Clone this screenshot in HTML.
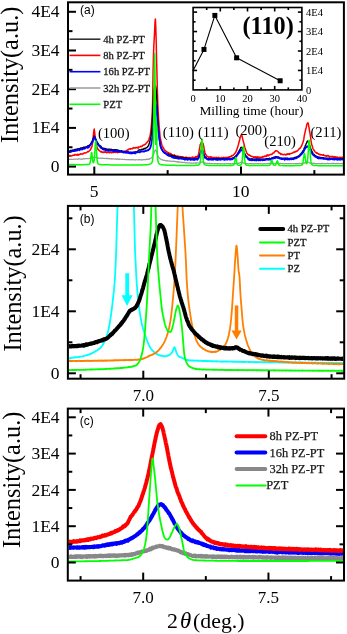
<!DOCTYPE html><html><head><meta charset="utf-8"><style>html,body{margin:0;padding:0;background:#fff;}svg{display:block;filter:blur(0.35px);}</style></head><body><svg width="347" height="634" viewBox="0 0 347 634">
<rect width="347" height="634" fill="#fff"/>
<defs>
<clipPath id="ca"><rect x="69.0" y="3.3" width="273.9" height="170.29999999999998"/></clipPath>
<clipPath id="cb"><rect x="68.9" y="206.9" width="274.3" height="170.8"/></clipPath>
<clipPath id="cc"><rect x="68.8" y="409.6" width="274.2" height="170"/></clipPath>
</defs>
<path d="M69.00,159.40 L69.40,159.46 L69.80,159.38 L70.20,159.12 L70.60,159.44 L71.00,159.36 L71.40,159.20 L71.80,159.36 L72.20,159.32 L72.60,159.29 L73.00,159.24 L73.40,159.31 L73.80,159.11 L74.20,159.18 L74.60,159.12 L75.00,159.27 L75.40,159.18 L75.80,159.11 L76.20,159.03 L76.60,159.10 L77.00,159.12 L77.40,159.07 L77.80,159.29 L78.20,159.24 L78.60,158.67 L79.00,158.78 L79.40,159.02 L79.80,158.97 L80.20,159.05 L80.60,159.04 L81.00,159.31 L81.40,158.81 L81.80,158.91 L82.20,159.26 L82.60,159.03 L83.00,159.02 L83.40,158.83 L83.80,158.64 L84.20,158.89 L84.60,158.86 L85.00,158.64 L85.40,158.70 L85.80,158.77 L86.20,158.62 L86.60,158.72 L87.00,158.72 L87.40,158.68 L87.80,158.57 L88.20,158.69 L88.60,158.70 L89.00,158.57 L89.40,158.34 L89.80,158.52 L90.20,158.27 L90.60,158.40 L91.00,158.02 L91.40,158.21 L91.80,157.96 L92.20,157.65 L92.60,157.65 L93.00,157.57 L93.40,157.47 L93.80,157.17 L94.20,157.08 L94.60,157.25 L95.00,157.18 L95.40,157.36 L95.80,157.54 L96.20,157.30 L96.60,157.70 L97.00,157.96 L97.40,157.83 L97.80,157.84 L98.20,158.15 L98.60,158.13 L99.00,158.28 L99.40,158.14 L99.80,158.00 L100.20,158.24 L100.60,158.21 L101.00,158.41 L101.40,158.34 L101.80,158.08 L102.20,158.15 L102.60,158.47 L103.00,158.44 L103.40,158.25 L103.80,158.34 L104.20,158.43 L104.60,158.46 L105.00,158.55 L105.40,158.48 L105.80,158.46 L106.20,158.46 L106.60,158.68 L107.00,158.21 L107.40,158.55 L107.80,158.60 L108.20,158.40 L108.60,158.69 L109.00,158.57 L109.40,158.82 L109.80,158.69 L110.20,158.83 L110.60,158.94 L111.00,158.83 L111.40,158.67 L111.80,158.59 L112.20,159.10 L112.60,158.84 L113.00,158.78 L113.40,158.93 L113.80,158.90 L114.20,159.07 L114.60,158.97 L115.00,158.99 L115.40,158.90 L115.80,159.10 L116.20,158.89 L116.60,159.17 L117.00,159.32 L117.40,158.88 L117.80,158.76 L118.20,159.24 L118.60,159.55 L119.00,159.04 L119.40,159.02 L119.80,159.32 L120.20,159.12 L120.60,159.19 L121.00,159.23 L121.40,159.39 L121.80,159.27 L122.20,159.39 L122.60,159.34 L123.00,159.26 L123.40,159.36 L123.80,159.28 L124.20,159.44 L124.60,159.29 L125.00,159.32 L125.40,159.72 L125.80,159.51 L126.20,159.53 L126.60,159.63 L127.00,159.51 L127.40,159.56 L127.80,159.67 L128.20,159.67 L128.60,159.47 L129.00,159.79 L129.40,159.59 L129.80,159.54 L130.20,159.58 L130.60,159.66 L131.00,159.97 L131.40,159.55 L131.80,159.76 L132.20,159.41 L132.60,159.74 L133.00,159.88 L133.40,159.71 L133.80,159.66 L134.20,159.79 L134.60,159.86 L135.00,159.86 L135.40,160.06 L135.80,159.80 L136.20,159.68 L136.60,159.75 L137.00,159.76 L137.40,159.79 L137.80,159.77 L138.20,159.80 L138.60,159.52 L139.00,159.89 L139.40,159.68 L139.80,159.59 L140.20,159.86 L140.60,159.95 L141.00,159.82 L141.40,159.77 L141.80,159.60 L142.20,160.16 L142.60,159.85 L143.00,159.54 L143.40,159.58 L143.80,159.69 L144.20,159.43 L144.60,159.67 L145.00,159.55 L145.40,159.77 L145.80,159.70 L146.20,159.12 L146.60,159.49 L147.00,159.19 L147.40,159.55 L147.80,159.34 L148.20,159.32 L148.60,158.99 L149.00,159.33 L149.40,159.23 L149.80,158.62 L150.20,158.67 L150.60,158.32 L151.00,158.18 L151.40,157.70 L151.80,157.80 L152.20,156.91 L152.60,156.43 L153.00,155.82 L153.40,154.77 L153.80,153.77 L154.20,152.54 L154.60,151.42 L155.00,150.29 L155.40,149.93 L155.80,150.16 L156.20,150.94 L156.60,152.16 L157.00,153.36 L157.40,154.70 L157.80,155.56 L158.20,156.44 L158.60,157.06 L159.00,157.65 L159.40,158.00 L159.80,158.65 L160.20,158.71 L160.60,159.04 L161.00,159.43 L161.40,159.62 L161.80,159.67 L162.20,159.57 L162.60,160.06 L163.00,160.15 L163.40,160.00 L163.80,160.42 L164.20,160.28 L164.60,160.29 L165.00,160.55 L165.40,160.57 L165.80,160.69 L166.20,160.47 L166.60,161.04 L167.00,160.73 L167.40,160.63 L167.80,161.00 L168.20,160.90 L168.60,161.05 L169.00,160.99 L169.40,161.07 L169.80,161.15 L170.20,161.04 L170.60,161.29 L171.00,161.15 L171.40,161.13 L171.80,161.30 L172.20,161.39 L172.60,161.32 L173.00,161.26 L173.40,161.51 L173.80,161.19 L174.20,161.33 L174.60,161.52 L175.00,161.34 L175.40,161.60 L175.80,161.64 L176.20,161.84 L176.60,161.62 L177.00,161.72 L177.40,161.91 L177.80,161.55 L178.20,162.43 L178.60,161.92 L179.00,161.97 L179.40,162.26 L179.80,162.17 L180.20,161.95 L180.60,162.35 L181.00,162.42 L181.40,162.26 L181.80,162.32 L182.20,162.47 L182.60,162.29 L183.00,162.53 L183.40,162.52 L183.80,162.42 L184.20,162.35 L184.60,162.56 L185.00,162.49 L185.40,162.81 L185.80,162.71 L186.20,162.84 L186.60,162.78 L187.00,162.83 L187.40,162.70 L187.80,162.95 L188.20,163.15 L188.60,162.87 L189.00,162.86 L189.40,162.96 L189.80,162.94 L190.20,162.93 L190.60,163.06 L191.00,163.01 L191.40,163.27 L191.80,163.07 L192.20,163.12 L192.60,163.22 L193.00,163.04 L193.40,163.31 L193.80,163.01 L194.20,162.98 L194.60,163.05 L195.00,163.10 L195.40,162.90 L195.80,163.11 L196.20,162.86 L196.60,163.32 L197.00,163.09 L197.40,163.00 L197.80,162.94 L198.20,163.00 L198.60,162.99 L199.00,162.82 L199.40,162.77 L199.80,162.79 L200.20,162.61 L200.60,162.66 L201.00,162.46 L201.40,162.04 L201.80,161.94 L202.20,161.68 L202.60,162.17 L203.00,162.33 L203.40,162.65 L203.80,163.02 L204.20,162.58 L204.60,163.08 L205.00,162.96 L205.40,163.28 L205.80,163.04 L206.20,163.21 L206.60,163.35 L207.00,163.44 L207.40,163.38 L207.80,163.28 L208.20,163.33 L208.60,163.57 L209.00,163.45 L209.40,163.21 L209.80,163.61 L210.20,163.56 L210.60,163.64 L211.00,163.47 L211.40,163.66 L211.80,163.39 L212.20,163.65 L212.60,163.50 L213.00,163.68 L213.40,163.75 L213.80,163.49 L214.20,163.61 L214.60,163.63 L215.00,163.82 L215.40,163.75 L215.80,163.47 L216.20,163.74 L216.60,163.79 L217.00,164.01 L217.40,163.45 L217.80,163.63 L218.20,163.92 L218.60,163.52 L219.00,163.56 L219.40,163.82 L219.80,163.91 L220.20,163.66 L220.60,163.84 L221.00,163.78 L221.40,163.99 L221.80,163.76 L222.20,163.90 L222.60,163.62 L223.00,163.73 L223.40,163.74 L223.80,163.92 L224.20,163.84 L224.60,163.64 L225.00,163.85 L225.40,163.86 L225.80,163.73 L226.20,163.70 L226.60,163.71 L227.00,163.48 L227.40,163.76 L227.80,163.77 L228.20,163.60 L228.60,163.84 L229.00,163.52 L229.40,163.64 L229.80,163.65 L230.20,164.01 L230.60,163.47 L231.00,163.79 L231.40,163.84 L231.80,163.75 L232.20,163.87 L232.60,163.53 L233.00,163.33 L233.40,163.78 L233.80,163.47 L234.20,163.59 L234.60,163.45 L235.00,163.77 L235.40,163.72 L235.80,163.46 L236.20,163.68 L236.60,163.53 L237.00,163.45 L237.40,163.43 L237.80,163.33 L238.20,163.37 L238.60,163.23 L239.00,163.01 L239.40,163.06 L239.80,162.63 L240.20,162.55 L240.60,162.35 L241.00,162.34 L241.40,161.98 L241.80,162.38 L242.20,162.31 L242.60,162.47 L243.00,162.61 L243.40,162.99 L243.80,163.06 L244.20,163.01 L244.60,163.10 L245.00,163.26 L245.40,163.30 L245.80,163.62 L246.20,163.70 L246.60,163.65 L247.00,163.60 L247.40,163.51 L247.80,163.60 L248.20,163.74 L248.60,163.94 L249.00,163.77 L249.40,163.60 L249.80,163.65 L250.20,163.58 L250.60,163.54 L251.00,163.64 L251.40,163.70 L251.80,163.95 L252.20,163.69 L252.60,163.88 L253.00,163.95 L253.40,163.70 L253.80,163.93 L254.20,163.80 L254.60,163.63 L255.00,163.73 L255.40,163.70 L255.80,163.66 L256.20,163.67 L256.60,163.72 L257.00,163.76 L257.40,163.56 L257.80,163.70 L258.20,163.47 L258.60,163.74 L259.00,163.79 L259.40,163.72 L259.80,163.74 L260.20,163.79 L260.60,163.60 L261.00,163.66 L261.40,163.77 L261.80,163.85 L262.20,163.75 L262.60,164.08 L263.00,163.68 L263.40,163.84 L263.80,163.88 L264.20,163.67 L264.60,163.57 L265.00,163.51 L265.40,163.71 L265.80,163.85 L266.20,163.73 L266.60,163.71 L267.00,163.62 L267.40,163.76 L267.80,163.36 L268.20,163.71 L268.60,163.67 L269.00,163.46 L269.40,163.99 L269.80,163.45 L270.20,163.49 L270.60,163.46 L271.00,163.80 L271.40,163.49 L271.80,163.72 L272.20,163.69 L272.60,163.63 L273.00,163.37 L273.40,163.45 L273.80,163.76 L274.20,163.27 L274.60,163.29 L275.00,163.33 L275.40,163.41 L275.80,163.27 L276.20,163.31 L276.60,163.03 L277.00,163.37 L277.40,163.37 L277.80,163.11 L278.20,163.64 L278.60,163.80 L279.00,163.38 L279.40,163.54 L279.80,163.76 L280.20,163.35 L280.60,163.29 L281.00,163.41 L281.40,163.52 L281.80,163.53 L282.20,163.71 L282.60,163.67 L283.00,163.45 L283.40,163.72 L283.80,163.92 L284.20,163.82 L284.60,163.79 L285.00,163.65 L285.40,163.79 L285.80,163.50 L286.20,163.76 L286.60,163.63 L287.00,163.81 L287.40,163.71 L287.80,163.48 L288.20,163.66 L288.60,163.83 L289.00,163.47 L289.40,163.56 L289.80,163.53 L290.20,163.41 L290.60,163.78 L291.00,163.83 L291.40,163.75 L291.80,163.67 L292.20,163.62 L292.60,163.66 L293.00,163.52 L293.40,163.76 L293.80,163.78 L294.20,163.76 L294.60,163.53 L295.00,163.62 L295.40,163.58 L295.80,163.87 L296.20,163.62 L296.60,163.31 L297.00,163.65 L297.40,163.86 L297.80,163.68 L298.20,163.70 L298.60,163.56 L299.00,163.25 L299.40,163.27 L299.80,163.34 L300.20,163.49 L300.60,163.54 L301.00,163.58 L301.40,163.40 L301.80,163.57 L302.20,163.36 L302.60,163.26 L303.00,163.45 L303.40,163.14 L303.80,162.81 L304.20,162.99 L304.60,163.08 L305.00,162.50 L305.40,162.79 L305.80,162.65 L306.20,162.34 L306.60,162.17 L307.00,162.19 L307.40,162.09 L307.80,162.34 L308.20,162.26 L308.60,162.08 L309.00,162.34 L309.40,162.73 L309.80,163.05 L310.20,162.96 L310.60,163.05 L311.00,163.38 L311.40,163.17 L311.80,163.19 L312.20,163.08 L312.60,163.26 L313.00,163.70 L313.40,163.19 L313.80,163.43 L314.20,163.24 L314.60,163.49 L315.00,163.62 L315.40,163.46 L315.80,163.62 L316.20,163.63 L316.60,163.60 L317.00,163.79 L317.40,163.66 L317.80,163.50 L318.20,163.45 L318.60,163.43 L319.00,163.64 L319.40,163.52 L319.80,163.98 L320.20,163.85 L320.60,163.55 L321.00,163.53 L321.40,163.84 L321.80,163.30 L322.20,163.52 L322.60,163.73 L323.00,163.45 L323.40,163.52 L323.80,163.54 L324.20,163.69 L324.60,163.61 L325.00,163.65 L325.40,163.68 L325.80,163.60 L326.20,163.76 L326.60,163.49 L327.00,163.38 L327.40,163.33 L327.80,163.35 L328.20,163.52 L328.60,163.75 L329.00,163.62 L329.40,163.51 L329.80,163.44 L330.20,163.52 L330.60,163.54 L331.00,163.51 L331.40,163.38 L331.80,163.53 L332.20,163.75 L332.60,163.27 L333.00,163.56 L333.40,163.28 L333.80,163.63 L334.20,163.49 L334.60,163.28 L335.00,163.61 L335.40,163.87 L335.80,163.61 L336.20,163.77 L336.60,163.59 L337.00,163.27 L337.40,163.67 L337.80,163.53 L338.20,163.38 L338.60,163.71 L339.00,163.64 L339.40,163.51 L339.80,163.72 L340.20,163.46 L340.60,163.69 L341.00,163.45 L341.40,163.67 L341.80,163.43 L342.20,163.81 L342.60,163.63 L343.00,163.80 L343.40,163.47" fill="none" stroke="#9a9a9a" stroke-width="1.2" stroke-linejoin="round" stroke-linecap="round" clip-path="url(#ca)" />
<path d="M69.00,155.91 L69.40,156.20 L69.80,155.27 L70.20,155.65 L70.60,156.13 L71.00,155.95 L71.40,156.03 L71.80,155.65 L72.20,155.82 L72.60,155.44 L73.00,155.22 L73.40,155.08 L73.80,155.31 L74.20,155.24 L74.60,155.16 L75.00,154.36 L75.40,154.68 L75.80,154.98 L76.20,155.11 L76.60,154.82 L77.00,154.67 L77.40,154.24 L77.80,155.24 L78.20,154.38 L78.60,155.00 L79.00,154.89 L79.40,154.49 L79.80,154.20 L80.20,154.29 L80.60,153.89 L81.00,154.15 L81.40,153.99 L81.80,154.03 L82.20,154.04 L82.60,154.13 L83.00,153.49 L83.40,153.73 L83.80,153.15 L84.20,153.00 L84.60,152.94 L85.00,152.72 L85.40,153.07 L85.80,152.91 L86.20,152.84 L86.60,152.37 L87.00,152.29 L87.40,151.91 L87.80,151.59 L88.20,151.79 L88.60,151.52 L89.00,150.93 L89.40,151.06 L89.80,150.15 L90.20,150.14 L90.60,149.46 L91.00,148.72 L91.40,147.61 L91.80,146.92 L92.20,145.19 L92.60,142.37 L93.00,138.53 L93.40,134.86 L93.80,131.32 L94.20,129.10 L94.60,131.55 L95.00,135.50 L95.40,138.45 L95.80,141.58 L96.20,144.53 L96.60,146.35 L97.00,147.02 L97.40,148.35 L97.80,149.12 L98.20,149.55 L98.60,150.06 L99.00,150.54 L99.40,150.55 L99.80,150.80 L100.20,151.43 L100.60,151.51 L101.00,152.07 L101.40,151.58 L101.80,151.54 L102.20,152.35 L102.60,152.46 L103.00,152.12 L103.40,151.99 L103.80,152.38 L104.20,151.96 L104.60,152.31 L105.00,151.85 L105.40,152.33 L105.80,151.86 L106.20,152.33 L106.60,152.76 L107.00,152.31 L107.40,152.57 L107.80,152.22 L108.20,152.15 L108.60,151.99 L109.00,152.62 L109.40,152.34 L109.80,152.76 L110.20,152.05 L110.60,152.29 L111.00,152.36 L111.40,152.69 L111.80,152.78 L112.20,152.16 L112.60,152.03 L113.00,151.87 L113.40,152.63 L113.80,152.27 L114.20,152.12 L114.60,152.26 L115.00,151.62 L115.40,151.84 L115.80,152.51 L116.20,152.38 L116.60,152.32 L117.00,152.03 L117.40,152.42 L117.80,152.70 L118.20,151.94 L118.60,152.23 L119.00,152.10 L119.40,152.28 L119.80,152.16 L120.20,152.09 L120.60,151.87 L121.00,152.06 L121.40,151.87 L121.80,151.94 L122.20,151.92 L122.60,152.05 L123.00,151.69 L123.40,151.71 L123.80,152.00 L124.20,151.62 L124.60,151.51 L125.00,151.66 L125.40,151.35 L125.80,151.11 L126.20,150.94 L126.60,150.35 L127.00,150.55 L127.40,150.53 L127.80,150.11 L128.20,149.36 L128.60,149.61 L129.00,149.12 L129.40,149.12 L129.80,149.08 L130.20,148.63 L130.60,149.13 L131.00,148.67 L131.40,148.77 L131.80,148.63 L132.20,148.72 L132.60,148.59 L133.00,147.84 L133.40,148.14 L133.80,147.51 L134.20,147.86 L134.60,148.08 L135.00,148.05 L135.40,148.07 L135.80,147.58 L136.20,147.68 L136.60,147.55 L137.00,147.76 L137.40,147.76 L137.80,147.19 L138.20,148.13 L138.60,147.09 L139.00,146.89 L139.40,147.02 L139.80,146.94 L140.20,146.76 L140.60,146.33 L141.00,146.73 L141.40,146.23 L141.80,146.44 L142.20,146.25 L142.60,145.41 L143.00,145.29 L143.40,145.09 L143.80,145.19 L144.20,144.91 L144.60,144.72 L145.00,144.19 L145.40,144.21 L145.80,144.11 L146.20,143.04 L146.60,142.89 L147.00,142.51 L147.40,141.87 L147.80,141.26 L148.20,141.10 L148.60,140.22 L149.00,139.20 L149.40,137.70 L149.80,137.12 L150.20,134.98 L150.60,132.28 L151.00,129.11 L151.40,125.15 L151.80,121.10 L152.20,114.04 L152.60,103.14 L153.00,76.26 L153.40,57.07 L153.80,46.60 L154.20,38.94 L154.60,32.13 L155.00,22.35 L155.40,18.91 L155.80,27.55 L156.20,41.17 L156.60,59.96 L157.00,75.34 L157.40,90.65 L157.80,103.45 L158.20,111.84 L158.60,119.26 L159.00,124.12 L159.40,128.82 L159.80,133.57 L160.20,137.45 L160.60,139.35 L161.00,141.52 L161.40,142.73 L161.80,144.70 L162.20,145.56 L162.60,146.37 L163.00,147.55 L163.40,147.70 L163.80,148.59 L164.20,149.75 L164.60,149.80 L165.00,150.65 L165.40,150.79 L165.80,150.95 L166.20,151.40 L166.60,151.79 L167.00,151.96 L167.40,152.13 L167.80,152.39 L168.20,152.45 L168.60,153.06 L169.00,153.34 L169.40,153.61 L169.80,153.16 L170.20,153.98 L170.60,153.94 L171.00,153.76 L171.40,154.30 L171.80,154.64 L172.20,154.73 L172.60,154.94 L173.00,155.14 L173.40,155.28 L173.80,155.19 L174.20,154.82 L174.60,155.28 L175.00,155.69 L175.40,155.62 L175.80,156.03 L176.20,156.17 L176.60,156.10 L177.00,156.66 L177.40,156.05 L177.80,156.62 L178.20,156.36 L178.60,156.36 L179.00,156.78 L179.40,156.55 L179.80,156.98 L180.20,156.53 L180.60,156.89 L181.00,156.72 L181.40,156.93 L181.80,156.95 L182.20,156.81 L182.60,157.31 L183.00,156.88 L183.40,157.00 L183.80,157.51 L184.20,157.58 L184.60,157.55 L185.00,157.50 L185.40,158.03 L185.80,157.19 L186.20,157.34 L186.60,157.31 L187.00,157.81 L187.40,157.69 L187.80,157.91 L188.20,157.90 L188.60,157.62 L189.00,157.48 L189.40,157.44 L189.80,158.25 L190.20,157.94 L190.60,157.84 L191.00,157.60 L191.40,157.62 L191.80,157.57 L192.20,157.55 L192.60,157.01 L193.00,157.56 L193.40,157.45 L193.80,157.57 L194.20,157.51 L194.60,157.62 L195.00,157.35 L195.40,157.49 L195.80,156.59 L196.20,156.87 L196.60,157.42 L197.00,156.43 L197.40,156.32 L197.80,156.13 L198.20,155.08 L198.60,154.05 L199.00,151.57 L199.40,149.42 L199.80,147.09 L200.20,144.53 L200.60,143.72 L201.00,142.82 L201.40,142.38 L201.80,141.75 L202.20,142.78 L202.60,142.70 L203.00,143.61 L203.40,144.81 L203.80,146.57 L204.20,149.02 L204.60,151.05 L205.00,152.79 L205.40,153.94 L205.80,154.77 L206.20,155.01 L206.60,155.50 L207.00,156.64 L207.40,156.43 L207.80,156.84 L208.20,157.04 L208.60,157.32 L209.00,156.73 L209.40,157.04 L209.80,157.14 L210.20,157.25 L210.60,156.80 L211.00,157.45 L211.40,156.81 L211.80,157.67 L212.20,157.77 L212.60,157.83 L213.00,157.42 L213.40,157.98 L213.80,157.55 L214.20,157.48 L214.60,157.55 L215.00,157.59 L215.40,157.84 L215.80,158.00 L216.20,157.27 L216.60,157.66 L217.00,158.02 L217.40,157.84 L217.80,157.92 L218.20,157.41 L218.60,158.02 L219.00,157.39 L219.40,157.83 L219.80,158.12 L220.20,158.24 L220.60,157.90 L221.00,157.98 L221.40,157.61 L221.80,157.63 L222.20,158.04 L222.60,157.74 L223.00,157.70 L223.40,157.38 L223.80,157.76 L224.20,157.88 L224.60,157.51 L225.00,157.57 L225.40,158.08 L225.80,157.70 L226.20,157.55 L226.60,157.29 L227.00,157.36 L227.40,157.38 L227.80,157.71 L228.20,157.12 L228.60,157.62 L229.00,156.84 L229.40,156.86 L229.80,157.04 L230.20,156.63 L230.60,156.34 L231.00,156.37 L231.40,156.36 L231.80,155.65 L232.20,155.85 L232.60,155.65 L233.00,155.29 L233.40,155.23 L233.80,154.50 L234.20,154.10 L234.60,153.70 L235.00,153.33 L235.40,152.50 L235.80,152.31 L236.20,151.00 L236.60,150.60 L237.00,148.89 L237.40,147.74 L237.80,146.45 L238.20,145.43 L238.60,143.73 L239.00,142.10 L239.40,141.13 L239.80,139.16 L240.20,137.43 L240.60,136.36 L241.00,135.29 L241.40,135.14 L241.80,135.24 L242.20,136.69 L242.60,138.44 L243.00,140.19 L243.40,141.82 L243.80,143.13 L244.20,145.06 L244.60,146.37 L245.00,147.82 L245.40,148.91 L245.80,150.30 L246.20,151.24 L246.60,152.52 L247.00,153.39 L247.40,153.70 L247.80,154.32 L248.20,154.54 L248.60,155.12 L249.00,155.01 L249.40,154.88 L249.80,155.61 L250.20,155.65 L250.60,155.64 L251.00,156.22 L251.40,156.30 L251.80,156.50 L252.20,156.46 L252.60,156.74 L253.00,156.88 L253.40,157.37 L253.80,156.85 L254.20,157.10 L254.60,157.25 L255.00,156.77 L255.40,156.83 L255.80,157.80 L256.20,156.84 L256.60,157.44 L257.00,157.11 L257.40,157.15 L257.80,156.86 L258.20,157.15 L258.60,157.58 L259.00,157.04 L259.40,157.55 L259.80,157.48 L260.20,157.90 L260.60,157.25 L261.00,157.63 L261.40,157.47 L261.80,157.08 L262.20,156.63 L262.60,157.31 L263.00,156.47 L263.40,156.56 L263.80,156.77 L264.20,156.71 L264.60,156.10 L265.00,156.19 L265.40,156.03 L265.80,156.29 L266.20,156.52 L266.60,155.34 L267.00,155.92 L267.40,154.87 L267.80,155.48 L268.20,155.09 L268.60,155.75 L269.00,155.17 L269.40,154.82 L269.80,154.75 L270.20,154.58 L270.60,154.62 L271.00,154.37 L271.40,154.39 L271.80,154.42 L272.20,154.01 L272.60,153.32 L273.00,152.99 L273.40,152.93 L273.80,153.03 L274.20,152.28 L274.60,151.79 L275.00,151.60 L275.40,150.87 L275.80,150.68 L276.20,150.95 L276.60,150.75 L277.00,150.87 L277.40,151.35 L277.80,151.49 L278.20,151.87 L278.60,152.34 L279.00,152.99 L279.40,153.16 L279.80,153.07 L280.20,153.52 L280.60,153.97 L281.00,154.47 L281.40,153.87 L281.80,154.35 L282.20,154.26 L282.60,154.57 L283.00,154.52 L283.40,154.81 L283.80,154.59 L284.20,154.35 L284.60,154.36 L285.00,154.60 L285.40,154.59 L285.80,155.07 L286.20,154.86 L286.60,154.11 L287.00,154.44 L287.40,153.96 L287.80,153.82 L288.20,154.35 L288.60,154.22 L289.00,153.75 L289.40,154.34 L289.80,153.60 L290.20,153.46 L290.60,153.82 L291.00,153.60 L291.40,153.37 L291.80,153.25 L292.20,153.17 L292.60,152.91 L293.00,152.73 L293.40,152.12 L293.80,152.07 L294.20,152.36 L294.60,151.83 L295.00,151.94 L295.40,151.90 L295.80,151.29 L296.20,151.23 L296.60,151.45 L297.00,150.87 L297.40,150.89 L297.80,150.54 L298.20,150.05 L298.60,149.52 L299.00,148.99 L299.40,148.54 L299.80,148.54 L300.20,148.08 L300.60,147.39 L301.00,147.01 L301.40,145.91 L301.80,145.51 L302.20,144.33 L302.60,143.29 L303.00,142.20 L303.40,140.73 L303.80,139.46 L304.20,136.24 L304.60,134.42 L305.00,132.54 L305.40,130.57 L305.80,128.76 L306.20,127.65 L306.60,125.40 L307.00,124.02 L307.40,123.58 L307.80,122.74 L308.20,123.10 L308.60,125.46 L309.00,127.62 L309.40,130.10 L309.80,132.26 L310.20,134.69 L310.60,137.08 L311.00,140.60 L311.40,143.01 L311.80,145.08 L312.20,145.67 L312.60,147.41 L313.00,148.54 L313.40,149.34 L313.80,150.01 L314.20,150.50 L314.60,151.01 L315.00,151.76 L315.40,152.12 L315.80,152.42 L316.20,152.55 L316.60,153.28 L317.00,152.79 L317.40,153.29 L317.80,153.34 L318.20,153.93 L318.60,154.20 L319.00,154.32 L319.40,154.35 L319.80,153.95 L320.20,154.96 L320.60,154.69 L321.00,154.65 L321.40,154.80 L321.80,154.81 L322.20,155.10 L322.60,155.17 L323.00,155.09 L323.40,154.63 L323.80,155.35 L324.20,155.56 L324.60,155.65 L325.00,155.56 L325.40,155.79 L325.80,156.01 L326.20,155.71 L326.60,156.27 L327.00,155.48 L327.40,155.72 L327.80,155.87 L328.20,155.55 L328.60,155.97 L329.00,156.59 L329.40,156.65 L329.80,156.41 L330.20,156.87 L330.60,156.56 L331.00,156.42 L331.40,156.66 L331.80,156.61 L332.20,156.87 L332.60,156.36 L333.00,157.03 L333.40,156.71 L333.80,157.08 L334.20,156.53 L334.60,156.85 L335.00,157.02 L335.40,157.27 L335.80,156.78 L336.20,157.54 L336.60,157.29 L337.00,157.07 L337.40,157.55 L337.80,157.31 L338.20,157.61 L338.60,157.94 L339.00,157.58 L339.40,157.30 L339.80,157.36 L340.20,157.64 L340.60,157.60 L341.00,157.35 L341.40,157.42 L341.80,157.78 L342.20,158.23 L342.60,157.02 L343.00,157.88 L343.40,157.67" fill="none" stroke="#ff0000" stroke-width="1.5" stroke-linejoin="round" stroke-linecap="round" clip-path="url(#ca)" />
<path d="M69.00,151.25 L69.40,151.19 L69.80,150.94 L70.20,150.64 L70.60,150.48 L71.00,150.29 L71.40,150.83 L71.80,150.45 L72.20,150.29 L72.60,150.26 L73.00,149.95 L73.40,150.19 L73.80,150.30 L74.20,150.17 L74.60,149.53 L75.00,150.02 L75.40,149.50 L75.80,149.17 L76.20,149.21 L76.60,149.17 L77.00,149.26 L77.40,148.95 L77.80,148.76 L78.20,148.91 L78.60,149.24 L79.00,148.62 L79.40,148.75 L79.80,148.57 L80.20,148.98 L80.60,147.97 L81.00,148.46 L81.40,147.89 L81.80,147.93 L82.20,147.93 L82.60,148.48 L83.00,147.58 L83.40,147.25 L83.80,147.78 L84.20,147.23 L84.60,147.23 L85.00,147.15 L85.40,147.03 L85.80,146.84 L86.20,146.78 L86.60,146.65 L87.00,146.59 L87.40,146.17 L87.80,145.92 L88.20,145.67 L88.60,145.78 L89.00,145.42 L89.40,145.27 L89.80,144.97 L90.20,144.85 L90.60,144.05 L91.00,143.53 L91.40,142.42 L91.80,141.67 L92.20,141.03 L92.60,140.05 L93.00,139.38 L93.40,137.80 L93.80,137.07 L94.20,136.03 L94.60,136.45 L95.00,137.27 L95.40,138.25 L95.80,139.00 L96.20,140.33 L96.60,141.25 L97.00,141.94 L97.40,142.43 L97.80,143.17 L98.20,143.71 L98.60,144.65 L99.00,145.29 L99.40,145.30 L99.80,145.45 L100.20,146.20 L100.60,146.65 L101.00,146.29 L101.40,147.17 L101.80,147.86 L102.20,147.85 L102.60,148.03 L103.00,148.20 L103.40,148.51 L103.80,148.25 L104.20,148.38 L104.60,148.74 L105.00,148.61 L105.40,148.89 L105.80,148.54 L106.20,149.15 L106.60,149.24 L107.00,149.14 L107.40,149.22 L107.80,149.57 L108.20,149.08 L108.60,149.17 L109.00,149.18 L109.40,149.35 L109.80,149.28 L110.20,149.53 L110.60,149.43 L111.00,149.30 L111.40,149.32 L111.80,149.90 L112.20,149.68 L112.60,149.68 L113.00,149.76 L113.40,149.76 L113.80,149.96 L114.20,149.94 L114.60,149.74 L115.00,149.72 L115.40,149.73 L115.80,149.76 L116.20,150.36 L116.60,149.96 L117.00,149.80 L117.40,150.10 L117.80,150.18 L118.20,150.46 L118.60,150.28 L119.00,150.63 L119.40,150.67 L119.80,150.90 L120.20,151.15 L120.60,151.35 L121.00,151.12 L121.40,150.68 L121.80,150.90 L122.20,151.09 L122.60,151.53 L123.00,151.32 L123.40,151.49 L123.80,151.29 L124.20,151.51 L124.60,151.62 L125.00,151.46 L125.40,151.79 L125.80,151.94 L126.20,151.78 L126.60,152.10 L127.00,152.31 L127.40,152.08 L127.80,152.15 L128.20,152.16 L128.60,152.17 L129.00,152.40 L129.40,152.34 L129.80,152.41 L130.20,152.34 L130.60,152.18 L131.00,152.29 L131.40,152.53 L131.80,152.20 L132.20,152.28 L132.60,152.70 L133.00,152.56 L133.40,152.16 L133.80,152.37 L134.20,152.07 L134.60,152.47 L135.00,151.98 L135.40,152.05 L135.80,152.25 L136.20,151.75 L136.60,152.11 L137.00,151.62 L137.40,151.77 L137.80,151.60 L138.20,150.17 L138.60,150.18 L139.00,150.08 L139.40,149.83 L139.80,150.14 L140.20,150.03 L140.60,150.06 L141.00,149.99 L141.40,149.35 L141.80,149.78 L142.20,149.65 L142.60,149.14 L143.00,149.30 L143.40,149.22 L143.80,148.66 L144.20,148.35 L144.60,148.43 L145.00,148.95 L145.40,148.32 L145.80,147.91 L146.20,147.95 L146.60,147.62 L147.00,147.52 L147.40,147.27 L147.80,146.21 L148.20,146.13 L148.60,145.58 L149.00,144.23 L149.40,142.92 L149.80,141.78 L150.20,139.78 L150.60,138.16 L151.00,136.13 L151.40,133.68 L151.80,129.38 L152.20,123.26 L152.60,114.42 L153.00,106.13 L153.40,97.93 L153.80,91.68 L154.20,89.00 L154.60,87.22 L155.00,85.56 L155.40,85.78 L155.80,87.40 L156.20,90.18 L156.60,95.04 L157.00,103.66 L157.40,112.19 L157.80,119.03 L158.20,124.74 L158.60,130.28 L159.00,135.16 L159.40,138.82 L159.80,142.43 L160.20,144.98 L160.60,146.75 L161.00,147.92 L161.40,148.71 L161.80,149.01 L162.20,150.14 L162.60,150.82 L163.00,151.46 L163.40,151.69 L163.80,152.39 L164.20,152.69 L164.60,152.56 L165.00,152.69 L165.40,153.42 L165.80,153.32 L166.20,153.88 L166.60,154.28 L167.00,153.89 L167.40,154.02 L167.80,154.30 L168.20,154.57 L168.60,154.34 L169.00,154.94 L169.40,155.01 L169.80,155.07 L170.20,154.95 L170.60,155.36 L171.00,155.47 L171.40,155.17 L171.80,155.95 L172.20,155.59 L172.60,155.84 L173.00,155.77 L173.40,156.07 L173.80,156.34 L174.20,156.05 L174.60,155.99 L175.00,156.34 L175.40,156.27 L175.80,156.48 L176.20,156.71 L176.60,156.81 L177.00,157.18 L177.40,156.81 L177.80,157.17 L178.20,157.08 L178.60,157.53 L179.00,157.83 L179.40,157.46 L179.80,157.80 L180.20,157.42 L180.60,157.27 L181.00,157.39 L181.40,157.39 L181.80,157.57 L182.20,157.77 L182.60,158.11 L183.00,158.07 L183.40,158.08 L183.80,157.95 L184.20,157.95 L184.60,158.15 L185.00,158.21 L185.40,158.28 L185.80,158.35 L186.20,158.29 L186.60,157.97 L187.00,158.17 L187.40,158.27 L187.80,158.80 L188.20,158.41 L188.60,158.66 L189.00,158.84 L189.40,158.63 L189.80,158.51 L190.20,158.84 L190.60,158.69 L191.00,158.96 L191.40,159.12 L191.80,159.01 L192.20,159.05 L192.60,159.04 L193.00,159.30 L193.40,158.77 L193.80,158.93 L194.20,159.04 L194.60,159.14 L195.00,158.41 L195.40,158.79 L195.80,158.85 L196.20,158.69 L196.60,159.06 L197.00,158.94 L197.40,158.77 L197.80,158.23 L198.20,157.76 L198.60,157.13 L199.00,156.62 L199.40,155.46 L199.80,154.46 L200.20,153.43 L200.60,152.17 L201.00,151.19 L201.40,150.21 L201.80,149.02 L202.20,149.52 L202.60,150.54 L203.00,151.89 L203.40,153.16 L203.80,154.39 L204.20,155.66 L204.60,155.96 L205.00,156.85 L205.40,157.39 L205.80,157.25 L206.20,157.97 L206.60,158.34 L207.00,158.77 L207.40,158.96 L207.80,158.94 L208.20,158.65 L208.60,158.72 L209.00,159.04 L209.40,158.69 L209.80,158.80 L210.20,159.13 L210.60,158.85 L211.00,158.55 L211.40,158.77 L211.80,158.96 L212.20,158.80 L212.60,159.07 L213.00,159.10 L213.40,158.72 L213.80,158.75 L214.20,158.83 L214.60,158.61 L215.00,158.93 L215.40,158.82 L215.80,159.02 L216.20,158.74 L216.60,158.69 L217.00,159.23 L217.40,158.69 L217.80,158.75 L218.20,158.72 L218.60,158.81 L219.00,158.69 L219.40,158.86 L219.80,158.73 L220.20,158.79 L220.60,158.94 L221.00,159.01 L221.40,158.96 L221.80,158.72 L222.20,158.95 L222.60,158.84 L223.00,158.85 L223.40,158.52 L223.80,159.00 L224.20,158.84 L224.60,159.20 L225.00,158.99 L225.40,158.63 L225.80,158.58 L226.20,159.07 L226.60,158.65 L227.00,158.94 L227.40,158.73 L227.80,159.18 L228.20,158.75 L228.60,159.00 L229.00,158.93 L229.40,158.54 L229.80,158.52 L230.20,158.84 L230.60,158.49 L231.00,158.27 L231.40,158.63 L231.80,158.84 L232.20,158.25 L232.60,158.43 L233.00,157.96 L233.40,158.06 L233.80,157.51 L234.20,157.56 L234.60,157.11 L235.00,156.65 L235.40,156.40 L235.80,155.89 L236.20,155.40 L236.60,154.94 L237.00,154.57 L237.40,153.74 L237.80,153.36 L238.20,152.68 L238.60,151.97 L239.00,151.09 L239.40,150.47 L239.80,149.63 L240.20,149.06 L240.60,147.89 L241.00,147.43 L241.40,147.26 L241.80,147.52 L242.20,148.03 L242.60,148.91 L243.00,150.18 L243.40,150.74 L243.80,151.84 L244.20,152.90 L244.60,153.58 L245.00,153.77 L245.40,155.01 L245.80,155.58 L246.20,156.08 L246.60,156.11 L247.00,157.04 L247.40,157.11 L247.80,157.98 L248.20,158.30 L248.60,158.91 L249.00,158.58 L249.40,158.54 L249.80,159.17 L250.20,159.17 L250.60,158.95 L251.00,159.32 L251.40,159.21 L251.80,158.83 L252.20,159.04 L252.60,159.04 L253.00,159.12 L253.40,159.20 L253.80,159.04 L254.20,159.15 L254.60,159.32 L255.00,159.20 L255.40,159.17 L255.80,159.17 L256.20,159.22 L256.60,158.86 L257.00,159.28 L257.40,159.05 L257.80,159.28 L258.20,158.97 L258.60,159.45 L259.00,159.32 L259.40,159.00 L259.80,159.32 L260.20,159.12 L260.60,159.63 L261.00,159.37 L261.40,159.10 L261.80,159.29 L262.20,159.23 L262.60,159.46 L263.00,159.27 L263.40,159.29 L263.80,158.94 L264.20,159.29 L264.60,159.53 L265.00,159.21 L265.40,159.04 L265.80,159.05 L266.20,158.79 L266.60,158.98 L267.00,158.69 L267.40,158.88 L267.80,158.75 L268.20,158.62 L268.60,158.86 L269.00,158.40 L269.40,158.65 L269.80,158.34 L270.20,158.93 L270.60,158.88 L271.00,158.56 L271.40,158.66 L271.80,158.27 L272.20,158.12 L272.60,157.78 L273.00,157.54 L273.40,157.60 L273.80,157.32 L274.20,157.20 L274.60,157.32 L275.00,157.04 L275.40,156.67 L275.80,156.88 L276.20,156.73 L276.60,156.83 L277.00,156.71 L277.40,157.24 L277.80,157.48 L278.20,157.01 L278.60,157.50 L279.00,157.64 L279.40,157.46 L279.80,157.85 L280.20,158.25 L280.60,158.27 L281.00,158.54 L281.40,158.07 L281.80,158.21 L282.20,158.44 L282.60,158.47 L283.00,158.42 L283.40,158.35 L283.80,158.36 L284.20,158.34 L284.60,158.56 L285.00,157.93 L285.40,158.81 L285.80,158.40 L286.20,158.23 L286.60,158.63 L287.00,158.24 L287.40,158.61 L287.80,158.45 L288.20,158.66 L288.60,158.70 L289.00,158.80 L289.40,158.44 L289.80,158.48 L290.20,158.53 L290.60,158.23 L291.00,158.61 L291.40,158.47 L291.80,158.12 L292.20,158.57 L292.60,158.53 L293.00,157.90 L293.40,158.19 L293.80,158.22 L294.20,158.02 L294.60,157.53 L295.00,157.32 L295.40,157.43 L295.80,157.21 L296.20,157.15 L296.60,156.97 L297.00,156.93 L297.40,156.54 L297.80,156.44 L298.20,156.88 L298.60,156.02 L299.00,155.89 L299.40,155.46 L299.80,155.06 L300.20,154.41 L300.60,154.23 L301.00,153.62 L301.40,153.27 L301.80,152.97 L302.20,152.03 L302.60,151.55 L303.00,150.59 L303.40,150.12 L303.80,149.59 L304.20,148.37 L304.60,147.31 L305.00,146.53 L305.40,145.54 L305.80,144.62 L306.20,143.60 L306.60,143.08 L307.00,141.65 L307.40,141.16 L307.80,141.01 L308.20,141.81 L308.60,142.39 L309.00,143.84 L309.40,144.82 L309.80,145.93 L310.20,146.67 L310.60,148.26 L311.00,149.21 L311.40,150.25 L311.80,151.16 L312.20,152.01 L312.60,152.61 L313.00,153.63 L313.40,153.95 L313.80,154.24 L314.20,154.58 L314.60,155.09 L315.00,155.38 L315.40,156.03 L315.80,156.13 L316.20,156.11 L316.60,156.23 L317.00,156.60 L317.40,156.63 L317.80,156.96 L318.20,157.14 L318.60,157.29 L319.00,157.35 L319.40,157.32 L319.80,157.56 L320.20,157.35 L320.60,157.58 L321.00,157.83 L321.40,157.79 L321.80,157.54 L322.20,157.62 L322.60,157.58 L323.00,158.31 L323.40,157.69 L323.80,158.01 L324.20,158.44 L324.60,158.32 L325.00,158.40 L325.40,158.06 L325.80,158.33 L326.20,158.82 L326.60,158.23 L327.00,158.34 L327.40,158.22 L327.80,158.31 L328.20,158.41 L328.60,158.63 L329.00,158.20 L329.40,158.11 L329.80,158.43 L330.20,158.48 L330.60,158.74 L331.00,158.62 L331.40,158.37 L331.80,158.63 L332.20,158.76 L332.60,158.61 L333.00,158.50 L333.40,158.72 L333.80,158.53 L334.20,158.24 L334.60,158.90 L335.00,158.39 L335.40,158.59 L335.80,158.61 L336.20,158.61 L336.60,158.64 L337.00,158.42 L337.40,158.82 L337.80,158.73 L338.20,158.74 L338.60,158.95 L339.00,158.97 L339.40,159.02 L339.80,159.13 L340.20,158.86 L340.60,158.46 L341.00,158.82 L341.40,158.78 L341.80,158.80 L342.20,158.66 L342.60,158.61 L343.00,158.95 L343.40,158.98" fill="none" stroke="#000" stroke-width="1.4" stroke-linejoin="round" stroke-linecap="round" clip-path="url(#ca)" />
<path d="M69.00,151.77 L69.40,152.18 L69.80,151.89 L70.20,151.74 L70.60,151.97 L71.00,151.66 L71.40,151.42 L71.80,151.52 L72.20,150.81 L72.60,151.14 L73.00,151.10 L73.40,150.72 L73.80,151.09 L74.20,151.03 L74.60,150.67 L75.00,150.70 L75.40,150.86 L75.80,150.88 L76.20,150.24 L76.60,150.47 L77.00,150.58 L77.40,150.16 L77.80,149.83 L78.20,149.73 L78.60,149.77 L79.00,149.45 L79.40,150.26 L79.80,149.38 L80.20,149.56 L80.60,149.40 L81.00,149.44 L81.40,149.03 L81.80,148.66 L82.20,149.44 L82.60,148.82 L83.00,148.77 L83.40,148.69 L83.80,148.90 L84.20,148.63 L84.60,148.63 L85.00,148.40 L85.40,148.06 L85.80,147.95 L86.20,147.50 L86.60,146.99 L87.00,147.35 L87.40,146.93 L87.80,147.85 L88.20,147.35 L88.60,147.02 L89.00,146.26 L89.40,146.78 L89.80,145.35 L90.20,145.15 L90.60,144.78 L91.00,144.10 L91.40,143.70 L91.80,142.94 L92.20,142.66 L92.60,141.59 L93.00,140.61 L93.40,139.19 L93.80,138.02 L94.20,137.32 L94.60,137.22 L95.00,138.08 L95.40,139.19 L95.80,140.59 L96.20,140.80 L96.60,141.65 L97.00,142.88 L97.40,143.25 L97.80,144.39 L98.20,144.82 L98.60,145.30 L99.00,145.60 L99.40,146.38 L99.80,146.57 L100.20,146.98 L100.60,147.32 L101.00,147.90 L101.40,148.19 L101.80,147.92 L102.20,148.64 L102.60,149.04 L103.00,149.44 L103.40,149.53 L103.80,149.50 L104.20,149.21 L104.60,149.43 L105.00,150.03 L105.40,149.63 L105.80,150.23 L106.20,150.38 L106.60,149.75 L107.00,150.26 L107.40,150.16 L107.80,150.86 L108.20,150.55 L108.60,150.20 L109.00,150.52 L109.40,150.16 L109.80,150.43 L110.20,150.58 L110.60,150.60 L111.00,150.69 L111.40,150.36 L111.80,150.10 L112.20,150.58 L112.60,150.45 L113.00,150.54 L113.40,151.42 L113.80,151.16 L114.20,150.78 L114.60,150.43 L115.00,150.49 L115.40,151.05 L115.80,151.31 L116.20,150.96 L116.60,151.14 L117.00,151.23 L117.40,151.53 L117.80,150.70 L118.20,151.36 L118.60,151.49 L119.00,151.70 L119.40,151.59 L119.80,151.19 L120.20,151.40 L120.60,151.17 L121.00,151.74 L121.40,151.80 L121.80,151.95 L122.20,151.56 L122.60,151.57 L123.00,152.43 L123.40,152.08 L123.80,152.61 L124.20,152.28 L124.60,151.78 L125.00,152.53 L125.40,152.73 L125.80,152.30 L126.20,151.94 L126.60,152.79 L127.00,152.62 L127.40,152.82 L127.80,152.00 L128.20,153.01 L128.60,152.11 L129.00,152.73 L129.40,153.31 L129.80,152.54 L130.20,152.54 L130.60,152.96 L131.00,153.57 L131.40,153.55 L131.80,152.86 L132.20,153.31 L132.60,153.15 L133.00,153.02 L133.40,153.00 L133.80,152.63 L134.20,153.04 L134.60,153.07 L135.00,153.50 L135.40,152.91 L135.80,151.84 L136.20,152.15 L136.60,152.55 L137.00,152.41 L137.40,151.76 L137.80,152.21 L138.20,152.08 L138.60,152.11 L139.00,152.02 L139.40,152.27 L139.80,152.37 L140.20,152.07 L140.60,151.47 L141.00,151.49 L141.40,151.49 L141.80,151.62 L142.20,151.45 L142.60,151.41 L143.00,151.17 L143.40,151.67 L143.80,151.57 L144.20,151.53 L144.60,151.14 L145.00,151.22 L145.40,150.72 L145.80,150.59 L146.20,150.62 L146.60,150.85 L147.00,150.51 L147.40,150.08 L147.80,150.30 L148.20,150.24 L148.60,149.95 L149.00,149.41 L149.40,149.26 L149.80,148.65 L150.20,148.03 L150.60,146.87 L151.00,145.37 L151.40,143.52 L151.80,140.97 L152.20,137.89 L152.60,133.59 L153.00,128.78 L153.40,123.73 L153.80,118.71 L154.20,111.45 L154.60,108.08 L155.00,104.93 L155.40,104.07 L155.80,105.00 L156.20,106.44 L156.60,109.10 L157.00,115.87 L157.40,121.86 L157.80,125.81 L158.20,129.77 L158.60,132.51 L159.00,136.13 L159.40,139.11 L159.80,141.55 L160.20,143.94 L160.60,146.29 L161.00,147.64 L161.40,148.01 L161.80,149.47 L162.20,150.01 L162.60,150.48 L163.00,151.39 L163.40,151.78 L163.80,152.18 L164.20,152.21 L164.60,152.99 L165.00,152.77 L165.40,153.41 L165.80,153.26 L166.20,153.57 L166.60,154.51 L167.00,154.63 L167.40,154.94 L167.80,155.33 L168.20,155.49 L168.60,155.33 L169.00,155.81 L169.40,155.94 L169.80,155.97 L170.20,156.23 L170.60,156.30 L171.00,156.36 L171.40,156.58 L171.80,156.88 L172.20,157.55 L172.60,156.81 L173.00,157.33 L173.40,156.84 L173.80,157.87 L174.20,157.39 L174.60,157.64 L175.00,158.07 L175.40,158.08 L175.80,157.43 L176.20,158.12 L176.60,157.97 L177.00,158.30 L177.40,158.24 L177.80,158.49 L178.20,158.42 L178.60,158.36 L179.00,158.81 L179.40,158.05 L179.80,158.44 L180.20,158.34 L180.60,158.64 L181.00,158.60 L181.40,158.74 L181.80,158.69 L182.20,158.75 L182.60,158.44 L183.00,158.98 L183.40,159.13 L183.80,158.90 L184.20,158.93 L184.60,158.98 L185.00,159.72 L185.40,159.31 L185.80,159.41 L186.20,159.24 L186.60,159.21 L187.00,159.12 L187.40,159.88 L187.80,158.93 L188.20,159.55 L188.60,159.47 L189.00,159.41 L189.40,159.03 L189.80,159.13 L190.20,159.79 L190.60,159.29 L191.00,159.76 L191.40,159.70 L191.80,159.67 L192.20,159.73 L192.60,159.14 L193.00,159.36 L193.40,159.70 L193.80,159.12 L194.20,160.00 L194.60,159.33 L195.00,159.48 L195.40,159.19 L195.80,159.61 L196.20,159.28 L196.60,159.43 L197.00,159.16 L197.40,159.82 L197.80,158.67 L198.20,158.77 L198.60,158.01 L199.00,157.27 L199.40,156.00 L199.80,155.80 L200.20,154.61 L200.60,152.94 L201.00,151.56 L201.40,150.27 L201.80,149.92 L202.20,149.69 L202.60,151.03 L203.00,152.36 L203.40,153.37 L203.80,154.47 L204.20,156.33 L204.60,156.89 L205.00,157.77 L205.40,157.86 L205.80,158.09 L206.20,158.19 L206.60,158.87 L207.00,158.95 L207.40,158.97 L207.80,159.35 L208.20,159.72 L208.60,159.44 L209.00,159.10 L209.40,159.52 L209.80,159.10 L210.20,158.96 L210.60,159.58 L211.00,159.27 L211.40,159.78 L211.80,159.54 L212.20,159.21 L212.60,159.52 L213.00,159.85 L213.40,159.40 L213.80,159.15 L214.20,159.27 L214.60,159.23 L215.00,159.12 L215.40,159.09 L215.80,159.60 L216.20,159.81 L216.60,159.37 L217.00,159.72 L217.40,159.76 L217.80,159.99 L218.20,159.43 L218.60,159.39 L219.00,159.62 L219.40,159.52 L219.80,159.58 L220.20,159.88 L220.60,159.37 L221.00,159.56 L221.40,159.20 L221.80,159.45 L222.20,159.30 L222.60,159.27 L223.00,159.43 L223.40,159.37 L223.80,159.61 L224.20,159.74 L224.60,159.05 L225.00,159.80 L225.40,158.83 L225.80,159.57 L226.20,159.70 L226.60,159.28 L227.00,159.39 L227.40,159.20 L227.80,159.68 L228.20,158.44 L228.60,159.07 L229.00,158.75 L229.40,159.35 L229.80,159.65 L230.20,159.58 L230.60,159.37 L231.00,159.20 L231.40,158.85 L231.80,159.39 L232.20,159.15 L232.60,158.61 L233.00,158.33 L233.40,158.34 L233.80,158.64 L234.20,158.44 L234.60,158.27 L235.00,157.26 L235.40,157.08 L235.80,157.28 L236.20,156.59 L236.60,156.32 L237.00,155.18 L237.40,154.90 L237.80,154.40 L238.20,153.70 L238.60,153.11 L239.00,152.21 L239.40,152.64 L239.80,151.58 L240.20,150.49 L240.60,150.73 L241.00,150.06 L241.40,150.12 L241.80,150.02 L242.20,150.30 L242.60,150.95 L243.00,151.99 L243.40,152.79 L243.80,153.31 L244.20,154.04 L244.60,154.92 L245.00,155.35 L245.40,156.22 L245.80,156.81 L246.20,157.01 L246.60,157.32 L247.00,157.63 L247.40,157.80 L247.80,158.07 L248.20,159.27 L248.60,159.17 L249.00,159.25 L249.40,160.06 L249.80,159.98 L250.20,159.74 L250.60,160.04 L251.00,159.70 L251.40,159.88 L251.80,160.33 L252.20,160.12 L252.60,159.73 L253.00,160.03 L253.40,160.19 L253.80,159.81 L254.20,159.73 L254.60,160.43 L255.00,159.79 L255.40,159.49 L255.80,159.93 L256.20,160.58 L256.60,160.09 L257.00,160.20 L257.40,159.27 L257.80,159.76 L258.20,160.29 L258.60,159.81 L259.00,160.33 L259.40,160.08 L259.80,160.06 L260.20,160.44 L260.60,159.78 L261.00,159.79 L261.40,159.95 L261.80,159.98 L262.20,159.39 L262.60,160.25 L263.00,159.93 L263.40,159.79 L263.80,160.00 L264.20,159.67 L264.60,160.13 L265.00,159.76 L265.40,159.92 L265.80,159.41 L266.20,159.55 L266.60,159.71 L267.00,159.28 L267.40,159.32 L267.80,159.47 L268.20,159.77 L268.60,159.62 L269.00,159.62 L269.40,159.40 L269.80,159.53 L270.20,159.67 L270.60,159.19 L271.00,159.17 L271.40,159.11 L271.80,158.20 L272.20,158.63 L272.60,158.64 L273.00,158.59 L273.40,158.12 L273.80,158.37 L274.20,157.75 L274.60,157.77 L275.00,158.22 L275.40,157.23 L275.80,157.55 L276.20,157.49 L276.60,157.51 L277.00,157.42 L277.40,157.85 L277.80,157.43 L278.20,157.48 L278.60,158.16 L279.00,157.81 L279.40,158.44 L279.80,158.48 L280.20,158.42 L280.60,158.65 L281.00,158.84 L281.40,159.09 L281.80,158.82 L282.20,158.97 L282.60,158.62 L283.00,158.99 L283.40,158.51 L283.80,159.09 L284.20,158.98 L284.60,159.75 L285.00,159.52 L285.40,159.11 L285.80,159.44 L286.20,159.26 L286.60,158.83 L287.00,158.46 L287.40,159.53 L287.80,159.32 L288.20,158.62 L288.60,159.40 L289.00,159.48 L289.40,159.01 L289.80,159.45 L290.20,158.69 L290.60,159.13 L291.00,159.18 L291.40,159.37 L291.80,159.20 L292.20,159.09 L292.60,159.12 L293.00,158.68 L293.40,159.22 L293.80,158.58 L294.20,158.81 L294.60,158.46 L295.00,158.26 L295.40,158.38 L295.80,158.20 L296.20,158.32 L296.60,158.09 L297.00,157.44 L297.40,157.61 L297.80,157.32 L298.20,156.88 L298.60,156.56 L299.00,156.70 L299.40,156.14 L299.80,155.53 L300.20,155.52 L300.60,155.19 L301.00,154.71 L301.40,153.84 L301.80,153.54 L302.20,153.63 L302.60,152.48 L303.00,152.11 L303.40,152.33 L303.80,151.08 L304.20,150.11 L304.60,148.97 L305.00,148.98 L305.40,147.91 L305.80,147.84 L306.20,147.09 L306.60,146.39 L307.00,147.00 L307.40,146.23 L307.80,146.49 L308.20,146.66 L308.60,146.68 L309.00,147.54 L309.40,148.09 L309.80,149.18 L310.20,149.65 L310.60,150.16 L311.00,151.58 L311.40,152.10 L311.80,152.92 L312.20,153.32 L312.60,154.34 L313.00,154.26 L313.40,155.22 L313.80,155.15 L314.20,155.82 L314.60,156.00 L315.00,156.44 L315.40,156.75 L315.80,156.87 L316.20,157.09 L316.60,156.86 L317.00,156.91 L317.40,158.00 L317.80,157.92 L318.20,157.40 L318.60,158.51 L319.00,157.81 L319.40,158.26 L319.80,158.31 L320.20,158.29 L320.60,158.50 L321.00,157.97 L321.40,158.43 L321.80,158.42 L322.20,158.58 L322.60,158.51 L323.00,158.45 L323.40,158.46 L323.80,158.98 L324.20,158.49 L324.60,158.88 L325.00,158.90 L325.40,158.79 L325.80,158.97 L326.20,159.03 L326.60,158.73 L327.00,159.02 L327.40,159.51 L327.80,158.64 L328.20,158.89 L328.60,158.77 L329.00,159.62 L329.40,158.62 L329.80,159.06 L330.20,159.36 L330.60,158.84 L331.00,159.07 L331.40,158.92 L331.80,158.75 L332.20,159.14 L332.60,159.33 L333.00,159.08 L333.40,159.26 L333.80,159.43 L334.20,159.60 L334.60,158.88 L335.00,159.45 L335.40,159.09 L335.80,158.73 L336.20,159.07 L336.60,159.51 L337.00,159.42 L337.40,159.00 L337.80,159.82 L338.20,159.47 L338.60,159.34 L339.00,159.20 L339.40,159.50 L339.80,159.26 L340.20,159.72 L340.60,159.48 L341.00,159.58 L341.40,159.30 L341.80,158.95 L342.20,159.56 L342.60,159.10 L343.00,159.37 L343.40,159.40" fill="none" stroke="#0000ff" stroke-width="1.8" stroke-linejoin="round" stroke-linecap="round" clip-path="url(#ca)" />
<path d="M69.00,164.59 L69.40,164.59 L69.80,164.60 L70.20,164.60 L70.60,164.60 L71.00,164.60 L71.40,164.61 L71.80,164.61 L72.20,164.61 L72.60,164.61 L73.00,164.62 L73.40,164.62 L73.80,164.62 L74.20,164.62 L74.60,164.62 L75.00,164.63 L75.40,164.63 L75.80,164.63 L76.20,164.63 L76.60,164.63 L77.00,164.64 L77.40,164.64 L77.80,164.64 L78.20,164.64 L78.60,164.64 L79.00,164.64 L79.40,164.64 L79.80,164.65 L80.20,164.65 L80.60,164.65 L81.00,164.65 L81.40,164.65 L81.80,164.65 L82.20,164.65 L82.60,164.64 L83.00,164.64 L83.40,164.64 L83.80,164.64 L84.20,164.63 L84.60,164.63 L85.00,164.62 L85.40,164.61 L85.80,164.60 L86.20,164.59 L86.60,164.57 L87.00,164.55 L87.40,164.53 L87.80,164.49 L88.20,164.45 L88.60,164.39 L89.00,164.30 L89.40,164.13 L89.80,163.72 L90.20,162.61 L90.60,160.12 L91.00,156.19 L91.40,152.56 L91.80,152.50 L92.20,156.01 L92.60,159.79 L93.00,162.06 L93.40,162.77 L93.80,162.22 L94.20,160.11 L94.60,155.70 L95.00,149.07 L95.40,142.61 L95.80,140.91 L96.20,145.63 L96.60,152.72 L97.00,158.45 L97.40,161.76 L97.80,163.26 L98.20,163.86 L98.60,164.13 L99.00,164.29 L99.40,164.39 L99.80,164.47 L100.20,164.53 L100.60,164.58 L101.00,164.62 L101.40,164.65 L101.80,164.67 L102.20,164.70 L102.60,164.72 L103.00,164.73 L103.40,164.75 L103.80,164.76 L104.20,164.77 L104.60,164.78 L105.00,164.79 L105.40,164.80 L105.80,164.81 L106.20,164.82 L106.60,164.83 L107.00,164.83 L107.40,164.84 L107.80,164.85 L108.20,164.85 L108.60,164.86 L109.00,164.86 L109.40,164.87 L109.80,164.87 L110.20,164.88 L110.60,164.88 L111.00,164.89 L111.40,164.89 L111.80,164.89 L112.20,164.90 L112.60,164.90 L113.00,164.91 L113.40,164.91 L113.80,164.91 L114.20,164.92 L114.60,164.92 L115.00,164.93 L115.40,164.93 L115.80,164.93 L116.20,164.94 L116.60,164.94 L117.00,164.94 L117.40,164.95 L117.80,164.95 L118.20,164.95 L118.60,164.96 L119.00,164.96 L119.40,164.96 L119.80,164.97 L120.20,164.97 L120.60,164.97 L121.00,164.97 L121.40,164.97 L121.80,164.97 L122.20,164.97 L122.60,164.97 L123.00,164.97 L123.40,164.97 L123.80,164.97 L124.20,164.97 L124.60,164.97 L125.00,164.97 L125.40,164.97 L125.80,164.97 L126.20,164.97 L126.60,164.97 L127.00,164.97 L127.40,164.97 L127.80,164.97 L128.20,164.97 L128.60,164.97 L129.00,164.97 L129.40,164.97 L129.80,164.97 L130.20,164.97 L130.60,164.97 L131.00,164.97 L131.40,164.97 L131.80,164.97 L132.20,164.97 L132.60,164.97 L133.00,164.97 L133.40,164.97 L133.80,164.97 L134.20,164.96 L134.60,164.96 L135.00,164.96 L135.40,164.96 L135.80,164.96 L136.20,164.96 L136.60,164.95 L137.00,164.95 L137.40,164.95 L137.80,164.95 L138.20,164.94 L138.60,164.94 L139.00,164.94 L139.40,164.93 L139.80,164.93 L140.20,164.92 L140.60,164.92 L141.00,164.91 L141.40,164.91 L141.80,164.90 L142.20,164.89 L142.60,164.88 L143.00,164.87 L143.40,164.86 L143.80,164.85 L144.20,164.84 L144.60,164.82 L145.00,164.81 L145.40,164.79 L145.80,164.76 L146.20,164.74 L146.60,164.71 L147.00,164.68 L147.40,164.64 L147.80,164.59 L148.20,164.53 L148.60,164.47 L149.00,164.39 L149.40,164.29 L149.80,164.16 L150.20,164.01 L150.60,163.81 L151.00,163.55 L151.40,163.19 L151.80,162.67 L152.20,161.85 L152.60,160.18 L153.00,155.52 L153.40,142.33 L153.80,114.09 L154.20,75.34 L154.60,53.57 L155.00,72.74 L155.40,106.91 L155.80,128.16 L156.20,134.95 L156.60,139.56 L157.00,147.50 L157.40,155.16 L157.80,159.98 L158.20,162.25 L158.60,163.20 L159.00,163.67 L159.40,163.96 L159.80,164.18 L160.20,164.34 L160.60,164.47 L161.00,164.57 L161.40,164.66 L161.80,164.73 L162.20,164.79 L162.60,164.84 L163.00,164.89 L163.40,164.93 L163.80,164.96 L164.20,164.99 L164.60,165.02 L165.00,165.04 L165.40,165.07 L165.80,165.09 L166.20,165.11 L166.60,165.13 L167.00,165.14 L167.40,165.16 L167.80,165.18 L168.20,165.19 L168.60,165.20 L169.00,165.22 L169.40,165.23 L169.80,165.24 L170.20,165.25 L170.60,165.26 L171.00,165.27 L171.40,165.28 L171.80,165.29 L172.20,165.30 L172.60,165.31 L173.00,165.32 L173.40,165.33 L173.80,165.34 L174.20,165.35 L174.60,165.35 L175.00,165.36 L175.40,165.37 L175.80,165.38 L176.20,165.39 L176.60,165.39 L177.00,165.40 L177.40,165.41 L177.80,165.42 L178.20,165.42 L178.60,165.43 L179.00,165.44 L179.40,165.44 L179.80,165.45 L180.20,165.45 L180.60,165.46 L181.00,165.46 L181.40,165.46 L181.80,165.46 L182.20,165.46 L182.60,165.46 L183.00,165.46 L183.40,165.46 L183.80,165.46 L184.20,165.46 L184.60,165.46 L185.00,165.46 L185.40,165.46 L185.80,165.46 L186.20,165.46 L186.60,165.46 L187.00,165.46 L187.40,165.46 L187.80,165.46 L188.20,165.46 L188.60,165.46 L189.00,165.46 L189.40,165.46 L189.80,165.46 L190.20,165.46 L190.60,165.45 L191.00,165.45 L191.40,165.45 L191.80,165.44 L192.20,165.44 L192.60,165.43 L193.00,165.43 L193.40,165.42 L193.80,165.41 L194.20,165.40 L194.60,165.39 L195.00,165.38 L195.40,165.36 L195.80,165.35 L196.20,165.32 L196.60,165.29 L197.00,165.26 L197.40,165.21 L197.80,165.15 L198.20,165.07 L198.60,164.96 L199.00,164.80 L199.40,164.51 L199.80,163.85 L200.20,162.18 L200.60,158.51 L201.00,152.13 L201.40,144.24 L201.80,138.99 L202.20,140.93 L202.60,148.19 L203.00,155.65 L203.40,160.67 L203.80,163.21 L204.20,164.26 L204.60,164.69 L205.00,164.91 L205.40,165.04 L205.80,165.13 L206.20,165.20 L206.60,165.25 L207.00,165.30 L207.40,165.33 L207.80,165.36 L208.20,165.38 L208.60,165.40 L209.00,165.42 L209.40,165.43 L209.80,165.44 L210.20,165.45 L210.60,165.46 L211.00,165.47 L211.40,165.47 L211.80,165.48 L212.20,165.49 L212.60,165.49 L213.00,165.50 L213.40,165.50 L213.80,165.50 L214.20,165.51 L214.60,165.51 L215.00,165.51 L215.40,165.52 L215.80,165.52 L216.20,165.52 L216.60,165.52 L217.00,165.52 L217.40,165.53 L217.80,165.53 L218.20,165.53 L218.60,165.53 L219.00,165.53 L219.40,165.53 L219.80,165.53 L220.20,165.54 L220.60,165.54 L221.00,165.54 L221.40,165.54 L221.80,165.54 L222.20,165.54 L222.60,165.54 L223.00,165.54 L223.40,165.54 L223.80,165.54 L224.20,165.54 L224.60,165.54 L225.00,165.54 L225.40,165.54 L225.80,165.54 L226.20,165.53 L226.60,165.53 L227.00,165.53 L227.40,165.53 L227.80,165.53 L228.20,165.52 L228.60,165.52 L229.00,165.51 L229.40,165.51 L229.80,165.50 L230.20,165.49 L230.60,165.48 L231.00,165.47 L231.40,165.45 L231.80,165.43 L232.20,165.40 L232.60,165.36 L233.00,165.29 L233.40,165.16 L233.80,164.85 L234.20,164.08 L234.60,162.58 L235.00,160.35 L235.40,158.18 L235.80,157.59 L236.20,159.15 L236.60,161.50 L237.00,163.39 L237.40,164.48 L237.80,164.95 L238.20,165.13 L238.60,165.19 L239.00,165.21 L239.40,165.20 L239.80,165.16 L240.20,165.10 L240.60,165.00 L241.00,164.80 L241.40,164.33 L241.80,163.12 L242.20,160.45 L242.60,155.82 L243.00,150.08 L243.40,146.26 L243.80,147.68 L244.20,152.96 L244.60,158.39 L245.00,162.05 L245.40,163.90 L245.80,164.67 L246.20,164.98 L246.60,165.14 L247.00,165.24 L247.40,165.31 L247.80,165.36 L248.20,165.40 L248.60,165.43 L249.00,165.45 L249.40,165.48 L249.80,165.49 L250.20,165.51 L250.60,165.52 L251.00,165.53 L251.40,165.54 L251.80,165.55 L252.20,165.55 L252.60,165.56 L253.00,165.57 L253.40,165.57 L253.80,165.57 L254.20,165.58 L254.60,165.58 L255.00,165.59 L255.40,165.59 L255.80,165.59 L256.20,165.59 L256.60,165.60 L257.00,165.60 L257.40,165.60 L257.80,165.60 L258.20,165.60 L258.60,165.60 L259.00,165.61 L259.40,165.61 L259.80,165.61 L260.20,165.61 L260.60,165.61 L261.00,165.61 L261.40,165.61 L261.80,165.61 L262.20,165.61 L262.60,165.61 L263.00,165.61 L263.40,165.61 L263.80,165.61 L264.20,165.61 L264.60,165.60 L265.00,165.60 L265.40,165.60 L265.80,165.59 L266.20,165.59 L266.60,165.58 L267.00,165.57 L267.40,165.56 L267.80,165.55 L268.20,165.53 L268.60,165.50 L269.00,165.46 L269.40,165.37 L269.80,165.15 L270.20,164.63 L270.60,163.60 L271.00,162.06 L271.40,160.57 L271.80,160.17 L272.20,161.24 L272.60,162.85 L273.00,164.15 L273.40,164.90 L273.80,165.22 L274.20,165.34 L274.60,165.36 L275.00,165.32 L275.40,165.15 L275.80,164.71 L276.20,163.83 L276.60,162.50 L277.00,161.21 L277.40,160.87 L277.80,161.81 L278.20,163.23 L278.60,164.38 L279.00,165.04 L279.40,165.34 L279.80,165.46 L280.20,165.52 L280.60,165.55 L281.00,165.57 L281.40,165.59 L281.80,165.60 L282.20,165.61 L282.60,165.61 L283.00,165.62 L283.40,165.63 L283.80,165.63 L284.20,165.63 L284.60,165.64 L285.00,165.64 L285.40,165.64 L285.80,165.64 L286.20,165.65 L286.60,165.65 L287.00,165.65 L287.40,165.65 L287.80,165.65 L288.20,165.65 L288.60,165.65 L289.00,165.65 L289.40,165.65 L289.80,165.65 L290.20,165.65 L290.60,165.65 L291.00,165.65 L291.40,165.65 L291.80,165.65 L292.20,165.64 L292.60,165.64 L293.00,165.64 L293.40,165.64 L293.80,165.64 L294.20,165.63 L294.60,165.63 L295.00,165.62 L295.40,165.62 L295.80,165.61 L296.20,165.61 L296.60,165.60 L297.00,165.59 L297.40,165.58 L297.80,165.57 L298.20,165.56 L298.60,165.54 L299.00,165.52 L299.40,165.49 L299.80,165.46 L300.20,165.43 L300.60,165.38 L301.00,165.31 L301.40,165.22 L301.80,165.04 L302.20,164.65 L302.60,163.81 L303.00,162.15 L303.40,159.50 L303.80,156.27 L304.20,153.79 L304.60,153.74 L305.00,156.12 L305.40,159.22 L305.80,161.72 L306.20,163.17 L306.60,163.65 L307.00,163.22 L307.40,161.59 L307.80,158.13 L308.20,152.50 L308.60,145.62 L309.00,140.37 L309.40,140.39 L309.80,145.70 L310.20,152.63 L310.60,158.33 L311.00,161.89 L311.40,163.70 L311.80,164.50 L312.20,164.87 L312.60,165.06 L313.00,165.19 L313.40,165.28 L313.80,165.35 L314.20,165.41 L314.60,165.45 L315.00,165.49 L315.40,165.52 L315.80,165.54 L316.20,165.57 L316.60,165.58 L317.00,165.60 L317.40,165.61 L317.80,165.63 L318.20,165.64 L318.60,165.65 L319.00,165.66 L319.40,165.66 L319.80,165.67 L320.20,165.68 L320.60,165.68 L321.00,165.69 L321.40,165.69 L321.80,165.70 L322.20,165.70 L322.60,165.71 L323.00,165.71 L323.40,165.71 L323.80,165.72 L324.20,165.72 L324.60,165.72 L325.00,165.72 L325.40,165.73 L325.80,165.73 L326.20,165.73 L326.60,165.73 L327.00,165.74 L327.40,165.74 L327.80,165.74 L328.20,165.74 L328.60,165.74 L329.00,165.75 L329.40,165.75 L329.80,165.75 L330.20,165.75 L330.60,165.75 L331.00,165.75 L331.40,165.76 L331.80,165.76 L332.20,165.76 L332.60,165.76 L333.00,165.76 L333.40,165.76 L333.80,165.76 L334.20,165.77 L334.60,165.77 L335.00,165.77 L335.40,165.77 L335.80,165.77 L336.20,165.77 L336.60,165.77 L337.00,165.77 L337.40,165.77 L337.80,165.78 L338.20,165.78 L338.60,165.78 L339.00,165.78 L339.40,165.78 L339.80,165.78 L340.20,165.78 L340.60,165.78 L341.00,165.78 L341.40,165.78 L341.80,165.79 L342.20,165.79 L342.60,165.79 L343.00,165.79 L343.40,165.79" fill="none" stroke="#00ff00" stroke-width="1.5" stroke-linejoin="round" stroke-linecap="round" clip-path="url(#ca)" />
<path d="M154.0,104 L155.3,104 L156.6,120 L157.7,128 L157.6,140 L156.4,145 L155.0,145 L154.3,130 Z" fill="#00ff00"/>
<rect x="68.0" y="2.3" width="275.90" height="172.30" fill="none" stroke="#000" stroke-width="2"/>
<line x1="68.00" y1="166.60" x2="76.00" y2="166.60" stroke="#000" stroke-width="2" stroke-linecap="butt"/>
<text x="59.60" y="172.00" font-size="17.5" text-anchor="end" font-family="Liberation Serif" font-weight="normal" fill="#000" >0</text>
<line x1="68.00" y1="127.90" x2="76.00" y2="127.90" stroke="#000" stroke-width="2" stroke-linecap="butt"/>
<text x="59.60" y="133.30" font-size="17.5" text-anchor="end" font-family="Liberation Serif" font-weight="normal" fill="#000" >1E4</text>
<line x1="68.00" y1="89.20" x2="76.00" y2="89.20" stroke="#000" stroke-width="2" stroke-linecap="butt"/>
<text x="59.60" y="94.60" font-size="17.5" text-anchor="end" font-family="Liberation Serif" font-weight="normal" fill="#000" >2E4</text>
<line x1="68.00" y1="50.50" x2="76.00" y2="50.50" stroke="#000" stroke-width="2" stroke-linecap="butt"/>
<text x="59.60" y="55.90" font-size="17.5" text-anchor="end" font-family="Liberation Serif" font-weight="normal" fill="#000" >3E4</text>
<line x1="68.00" y1="11.80" x2="76.00" y2="11.80" stroke="#000" stroke-width="2" stroke-linecap="butt"/>
<text x="59.60" y="17.20" font-size="17.5" text-anchor="end" font-family="Liberation Serif" font-weight="normal" fill="#000" >4E4</text>
<line x1="68.00" y1="147.25" x2="72.50" y2="147.25" stroke="#000" stroke-width="2" stroke-linecap="butt"/>
<line x1="68.00" y1="108.55" x2="72.50" y2="108.55" stroke="#000" stroke-width="2" stroke-linecap="butt"/>
<line x1="68.00" y1="69.85" x2="72.50" y2="69.85" stroke="#000" stroke-width="2" stroke-linecap="butt"/>
<line x1="68.00" y1="31.15" x2="72.50" y2="31.15" stroke="#000" stroke-width="2" stroke-linecap="butt"/>
<line x1="94.30" y1="174.60" x2="94.30" y2="166.60" stroke="#000" stroke-width="2" stroke-linecap="butt"/>
<text x="94.10" y="197.20" font-size="17.5" text-anchor="middle" font-family="Liberation Serif" font-weight="normal" fill="#000" >5</text>
<line x1="241.00" y1="174.60" x2="241.00" y2="166.60" stroke="#000" stroke-width="2" stroke-linecap="butt"/>
<text x="240.80" y="197.20" font-size="17.5" text-anchor="middle" font-family="Liberation Serif" font-weight="normal" fill="#000" >10</text>
<line x1="167.65" y1="174.60" x2="167.65" y2="170.10" stroke="#000" stroke-width="2" stroke-linecap="butt"/>
<line x1="314.35" y1="174.60" x2="314.35" y2="170.10" stroke="#000" stroke-width="2" stroke-linecap="butt"/>
<text x="80.10" y="14.30" font-size="12" text-anchor="start" font-family="Liberation Sans" font-weight="normal" fill="#000" >(a)</text>
<line x1="69.50" y1="39.20" x2="100.40" y2="39.20" stroke="#333" stroke-width="1.6" stroke-linecap="butt"/>
<text x="103.30" y="42.90" font-size="10.6" text-anchor="start" font-family="Liberation Serif" font-weight="normal" fill="#1a1a1a" stroke="#1a1a1a" stroke-width="0.3">4h PZ-PT</text>
<line x1="69.50" y1="55.40" x2="100.40" y2="55.40" stroke="#f00" stroke-width="1.6" stroke-linecap="butt"/>
<text x="103.30" y="59.10" font-size="10.6" text-anchor="start" font-family="Liberation Serif" font-weight="normal" fill="#1a1a1a" stroke="#1a1a1a" stroke-width="0.3">8h PZ-PT</text>
<line x1="69.50" y1="71.70" x2="100.40" y2="71.70" stroke="#00f" stroke-width="1.6" stroke-linecap="butt"/>
<text x="103.30" y="75.40" font-size="10.6" text-anchor="start" font-family="Liberation Serif" font-weight="normal" fill="#1a1a1a" stroke="#1a1a1a" stroke-width="0.3">16h PZ-PT</text>
<line x1="69.50" y1="88.00" x2="100.40" y2="88.00" stroke="#a0a0a0" stroke-width="1.6" stroke-linecap="butt"/>
<text x="103.30" y="91.70" font-size="10.6" text-anchor="start" font-family="Liberation Serif" font-weight="normal" fill="#1a1a1a" stroke="#1a1a1a" stroke-width="0.3">32h PZ-PT</text>
<line x1="69.50" y1="104.30" x2="100.40" y2="104.30" stroke="#0f0" stroke-width="1.6" stroke-linecap="butt"/>
<text x="103.30" y="108.00" font-size="10.6" text-anchor="start" font-family="Liberation Serif" font-weight="normal" fill="#1a1a1a" stroke="#1a1a1a" stroke-width="0.3">PZT</text>
<text x="97.90" y="138.00" font-size="14.6" text-anchor="start" font-family="Liberation Serif" font-weight="normal" fill="#000" >(100)</text>
<text x="162.80" y="137.00" font-size="14.6" text-anchor="start" font-family="Liberation Serif" font-weight="normal" fill="#000" >(110)</text>
<text x="198.00" y="137.00" font-size="14.6" text-anchor="start" font-family="Liberation Serif" font-weight="normal" fill="#000" >(111)</text>
<text x="235.40" y="134.50" font-size="14.6" text-anchor="start" font-family="Liberation Serif" font-weight="normal" fill="#000" >(200)</text>
<text x="264.30" y="145.50" font-size="14.6" text-anchor="start" font-family="Liberation Serif" font-weight="normal" fill="#000" >(210)</text>
<text x="310.40" y="136.60" font-size="14.6" text-anchor="start" font-family="Liberation Serif" font-weight="normal" fill="#000" >(211)</text>
<rect x="193.1" y="7.5" width="108.80" height="82.40" fill="none" stroke="#000" stroke-width="1.6"/>
<line x1="193.10" y1="70.45" x2="197.10" y2="70.45" stroke="#000" stroke-width="1.6" stroke-linecap="butt"/>
<line x1="301.90" y1="70.45" x2="297.90" y2="70.45" stroke="#000" stroke-width="1.6" stroke-linecap="butt"/>
<line x1="193.10" y1="51.00" x2="197.10" y2="51.00" stroke="#000" stroke-width="1.6" stroke-linecap="butt"/>
<line x1="301.90" y1="51.00" x2="297.90" y2="51.00" stroke="#000" stroke-width="1.6" stroke-linecap="butt"/>
<line x1="193.10" y1="31.55" x2="197.10" y2="31.55" stroke="#000" stroke-width="1.6" stroke-linecap="butt"/>
<line x1="301.90" y1="31.55" x2="297.90" y2="31.55" stroke="#000" stroke-width="1.6" stroke-linecap="butt"/>
<line x1="193.10" y1="12.10" x2="197.10" y2="12.10" stroke="#000" stroke-width="1.6" stroke-linecap="butt"/>
<line x1="301.90" y1="12.10" x2="297.90" y2="12.10" stroke="#000" stroke-width="1.6" stroke-linecap="butt"/>
<line x1="193.10" y1="80.18" x2="195.60" y2="80.18" stroke="#000" stroke-width="1.6" stroke-linecap="butt"/>
<line x1="301.90" y1="80.18" x2="299.40" y2="80.18" stroke="#000" stroke-width="1.6" stroke-linecap="butt"/>
<line x1="193.10" y1="60.73" x2="195.60" y2="60.73" stroke="#000" stroke-width="1.6" stroke-linecap="butt"/>
<line x1="301.90" y1="60.73" x2="299.40" y2="60.73" stroke="#000" stroke-width="1.6" stroke-linecap="butt"/>
<line x1="193.10" y1="41.28" x2="195.60" y2="41.28" stroke="#000" stroke-width="1.6" stroke-linecap="butt"/>
<line x1="301.90" y1="41.28" x2="299.40" y2="41.28" stroke="#000" stroke-width="1.6" stroke-linecap="butt"/>
<line x1="193.10" y1="21.83" x2="195.60" y2="21.83" stroke="#000" stroke-width="1.6" stroke-linecap="butt"/>
<line x1="301.90" y1="21.83" x2="299.40" y2="21.83" stroke="#000" stroke-width="1.6" stroke-linecap="butt"/>
<line x1="220.30" y1="89.90" x2="220.30" y2="85.90" stroke="#000" stroke-width="1.6" stroke-linecap="butt"/>
<line x1="220.30" y1="7.50" x2="220.30" y2="11.50" stroke="#000" stroke-width="1.6" stroke-linecap="butt"/>
<line x1="247.50" y1="89.90" x2="247.50" y2="85.90" stroke="#000" stroke-width="1.6" stroke-linecap="butt"/>
<line x1="247.50" y1="7.50" x2="247.50" y2="11.50" stroke="#000" stroke-width="1.6" stroke-linecap="butt"/>
<line x1="274.70" y1="89.90" x2="274.70" y2="85.90" stroke="#000" stroke-width="1.6" stroke-linecap="butt"/>
<line x1="274.70" y1="7.50" x2="274.70" y2="11.50" stroke="#000" stroke-width="1.6" stroke-linecap="butt"/>
<line x1="206.70" y1="89.90" x2="206.70" y2="87.40" stroke="#000" stroke-width="1.6" stroke-linecap="butt"/>
<line x1="206.70" y1="7.50" x2="206.70" y2="10.00" stroke="#000" stroke-width="1.6" stroke-linecap="butt"/>
<line x1="233.90" y1="89.90" x2="233.90" y2="87.40" stroke="#000" stroke-width="1.6" stroke-linecap="butt"/>
<line x1="233.90" y1="7.50" x2="233.90" y2="10.00" stroke="#000" stroke-width="1.6" stroke-linecap="butt"/>
<line x1="261.10" y1="89.90" x2="261.10" y2="87.40" stroke="#000" stroke-width="1.6" stroke-linecap="butt"/>
<line x1="261.10" y1="7.50" x2="261.10" y2="10.00" stroke="#000" stroke-width="1.6" stroke-linecap="butt"/>
<line x1="288.30" y1="89.90" x2="288.30" y2="87.40" stroke="#000" stroke-width="1.6" stroke-linecap="butt"/>
<line x1="288.30" y1="7.50" x2="288.30" y2="10.00" stroke="#000" stroke-width="1.6" stroke-linecap="butt"/>
<path d="M193.10,70.45 L203.98,49.44 L214.86,15.41 L236.62,57.81 L280.14,80.76" fill="none" stroke="#000" stroke-width="1.1" stroke-linejoin="round" stroke-linecap="round" />
<rect x="201.48" y="46.94" width="5" height="5" fill="#000"/>
<rect x="212.36" y="12.91" width="5" height="5" fill="#000"/>
<rect x="234.12" y="55.31" width="5" height="5" fill="#000"/>
<rect x="277.64" y="78.26" width="5" height="5" fill="#000"/>
<text x="193.10" y="102.30" font-size="10.5" text-anchor="middle" font-family="Liberation Serif" font-weight="normal" fill="#000" >0</text>
<text x="220.30" y="102.30" font-size="10.5" text-anchor="middle" font-family="Liberation Serif" font-weight="normal" fill="#000" >10</text>
<text x="247.50" y="102.30" font-size="10.5" text-anchor="middle" font-family="Liberation Serif" font-weight="normal" fill="#000" >20</text>
<text x="274.70" y="102.30" font-size="10.5" text-anchor="middle" font-family="Liberation Serif" font-weight="normal" fill="#000" >30</text>
<text x="301.90" y="102.30" font-size="10.5" text-anchor="middle" font-family="Liberation Serif" font-weight="normal" fill="#000" >40</text>
<text x="306.00" y="93.50" font-size="10.5" text-anchor="start" font-family="Liberation Serif" font-weight="normal" fill="#000" >0</text>
<text x="306.00" y="74.05" font-size="10.5" text-anchor="start" font-family="Liberation Serif" font-weight="normal" fill="#000" >1E4</text>
<text x="306.00" y="54.60" font-size="10.5" text-anchor="start" font-family="Liberation Serif" font-weight="normal" fill="#000" >2E4</text>
<text x="306.00" y="35.15" font-size="10.5" text-anchor="start" font-family="Liberation Serif" font-weight="normal" fill="#000" >3E4</text>
<text x="306.00" y="15.70" font-size="10.5" text-anchor="start" font-family="Liberation Serif" font-weight="normal" fill="#000" >4E4</text>
<text x="199.40" y="114.60" font-size="13.4" text-anchor="start" font-family="Liberation Serif" font-weight="normal" fill="#000" >Milling time (hour)</text>
<text x="242.50" y="33.60" font-size="24.3" text-anchor="start" font-family="Liberation Serif" font-weight="bold" fill="#000" >(110)</text>
<path d="M68.50,358.42 L68.75,358.53 L69.00,358.25 L69.25,358.49 L69.50,358.23 L69.75,358.33 L70.00,358.32 L70.25,358.05 L70.50,358.02 L70.75,358.14 L71.00,358.02 L71.25,357.96 L71.50,357.73 L71.75,357.70 L72.00,357.88 L72.25,357.92 L72.50,357.67 L72.75,357.61 L73.00,357.68 L73.25,357.67 L73.50,357.64 L73.75,357.51 L74.00,357.32 L74.25,357.63 L74.50,357.40 L74.75,357.55 L75.00,357.20 L75.25,357.40 L75.50,357.29 L75.75,357.20 L76.00,357.38 L76.25,357.39 L76.50,357.17 L76.75,357.27 L77.00,357.07 L77.25,357.09 L77.50,357.10 L77.75,357.07 L78.00,357.13 L78.25,356.92 L78.50,357.11 L78.75,357.08 L79.00,356.93 L79.25,356.80 L79.50,356.64 L79.75,356.83 L80.00,356.73 L80.25,356.77 L80.50,356.61 L80.75,356.67 L81.00,356.62 L81.25,356.58 L81.50,356.56 L81.75,356.51 L82.00,356.53 L82.25,356.30 L82.50,356.39 L82.75,356.28 L83.00,356.17 L83.25,356.05 L83.50,356.24 L83.75,356.06 L84.00,355.92 L84.25,355.91 L84.50,355.84 L84.75,355.72 L85.00,355.57 L85.25,355.66 L85.50,355.55 L85.75,355.47 L86.00,355.53 L86.25,355.22 L86.50,355.19 L86.75,355.22 L87.00,355.21 L87.25,355.11 L87.50,355.04 L87.75,354.67 L88.00,354.86 L88.25,354.77 L88.50,354.71 L88.75,354.49 L89.00,354.52 L89.25,354.49 L89.50,354.46 L89.75,354.24 L90.00,353.98 L90.25,354.02 L90.50,353.98 L90.75,353.86 L91.00,353.89 L91.25,353.57 L91.50,353.37 L91.75,353.29 L92.00,353.30 L92.25,353.03 L92.50,352.88 L92.75,352.77 L93.00,352.84 L93.25,352.61 L93.50,352.42 L93.75,352.40 L94.00,352.24 L94.25,351.94 L94.50,351.97 L94.75,351.77 L95.00,351.40 L95.25,351.34 L95.50,351.33 L95.75,351.21 L96.00,350.98 L96.25,350.75 L96.50,350.72 L96.75,350.35 L97.00,350.43 L97.25,350.19 L97.50,350.03 L97.75,349.80 L98.00,349.76 L98.25,349.27 L98.50,349.23 L98.75,349.18 L99.00,348.85 L99.25,348.87 L99.50,348.56 L99.75,348.23 L100.00,348.19 L100.25,347.85 L100.50,347.68 L100.75,347.32 L101.00,347.07 L101.25,346.93 L101.50,346.60 L101.75,346.22 L102.00,345.90 L102.25,345.73 L102.50,345.48 L102.75,344.85 L103.00,344.61 L103.25,343.82 L103.50,343.48 L103.75,343.15 L104.00,342.67 L104.25,341.93 L104.50,341.38 L104.75,340.74 L105.00,340.22 L105.25,339.42 L105.50,339.01 L105.75,338.33 L106.00,337.75 L106.25,337.17 L106.50,336.52 L106.75,335.79 L107.00,335.12 L107.25,334.29 L107.50,333.68 L107.75,332.67 L108.00,331.54 L108.25,330.65 L108.50,329.50 L108.75,328.28 L109.00,327.00 L109.25,325.81 L109.50,324.50 L109.75,323.16 L110.00,321.52 L110.25,319.93 L110.50,318.59 L110.75,316.81 L111.00,314.94 L111.25,312.98 L111.50,311.22 L111.75,309.32 L112.00,307.27 L112.25,305.21 L112.50,303.01 L112.75,300.99 L113.00,298.71 L113.25,296.58 L113.50,294.36 L113.75,292.01 L114.00,289.77 L114.25,286.71 L114.50,283.96 L114.75,280.59 L115.00,276.82 L115.25,272.41 L115.50,267.06 L115.75,261.55 L116.00,255.71 L116.25,248.21 L116.50,240.06 L116.75,231.27 L117.00,222.76 L117.25,214.43 L117.50,207.48 L117.75,201.54 L118.00,196.21 L118.25,190.71 L118.50,185.73 L118.75,181.11 L119.00,176.87 L119.25,173.32 L119.50,170.15 L119.75,166.98 L120.00,164.12 L120.25,161.06 L120.50,158.21 L120.75,155.33 L121.00,152.31 L121.25,149.59 L121.50,147.05 L121.75,144.13 L122.00,141.77 L122.25,139.27 L122.50,136.86 L122.75,134.72 L123.00,132.63 L123.25,130.66 L123.50,128.50 L123.75,127.23 L124.00,125.48 L124.25,124.26 L124.50,122.95 L124.75,121.91 L125.00,121.15 L125.25,120.87 L125.50,120.32 L125.75,119.97 L126.00,120.10 L126.25,120.49 L126.50,120.96 L126.75,121.65 L127.00,122.57 L127.25,123.61 L127.50,125.12 L127.75,126.65 L128.00,128.43 L128.25,129.97 L128.50,132.07 L128.75,134.11 L129.00,136.48 L129.25,138.70 L129.50,141.12 L129.75,143.59 L130.00,146.50 L130.25,149.19 L130.50,152.12 L130.75,154.84 L131.00,158.10 L131.25,160.76 L131.50,163.92 L131.75,166.96 L132.00,170.11 L132.25,173.35 L132.50,177.17 L132.75,181.57 L133.00,186.63 L133.25,191.88 L133.50,197.64 L133.75,203.65 L134.00,210.99 L134.25,220.31 L134.50,230.66 L134.75,240.60 L135.00,249.53 L135.25,256.22 L135.50,260.24 L135.75,264.92 L136.00,270.19 L136.25,275.32 L136.50,279.89 L136.75,283.79 L137.00,287.06 L137.25,290.39 L137.50,292.85 L137.75,295.40 L138.00,297.94 L138.25,300.10 L138.50,302.49 L138.75,304.37 L139.00,306.47 L139.25,308.23 L139.50,310.31 L139.75,312.10 L140.00,313.85 L140.25,315.33 L140.50,316.87 L140.75,318.30 L141.00,319.79 L141.25,321.00 L141.50,322.38 L141.75,323.48 L142.00,324.73 L142.25,325.67 L142.50,326.60 L142.75,327.51 L143.00,328.58 L143.25,329.09 L143.50,329.89 L143.75,330.90 L144.00,331.52 L144.25,332.34 L144.50,333.11 L144.75,334.17 L145.00,334.63 L145.25,335.37 L145.50,336.14 L145.75,336.91 L146.00,337.64 L146.25,338.13 L146.50,339.00 L146.75,339.82 L147.00,340.12 L147.25,341.04 L147.50,341.74 L147.75,342.34 L148.00,342.96 L148.25,343.38 L148.50,344.34 L148.75,344.77 L149.00,345.33 L149.25,345.98 L149.50,346.07 L149.75,346.71 L150.00,347.17 L150.25,347.58 L150.50,347.95 L150.75,348.46 L151.00,348.65 L151.25,349.07 L151.50,349.38 L151.75,349.48 L152.00,349.87 L152.25,350.46 L152.50,350.51 L152.75,350.81 L153.00,350.95 L153.25,351.30 L153.50,351.45 L153.75,351.74 L154.00,352.07 L154.25,352.14 L154.50,352.36 L154.75,352.75 L155.00,352.85 L155.25,353.04 L155.50,353.27 L155.75,353.29 L156.00,353.48 L156.25,353.47 L156.50,353.91 L156.75,353.97 L157.00,354.13 L157.25,354.16 L157.50,354.46 L157.75,354.58 L158.00,354.65 L158.25,354.58 L158.50,354.75 L158.75,354.92 L159.00,354.92 L159.25,355.11 L159.50,355.24 L159.75,355.14 L160.00,355.26 L160.25,355.28 L160.50,355.52 L160.75,355.57 L161.00,355.81 L161.25,355.61 L161.50,355.57 L161.75,355.76 L162.00,355.75 L162.25,355.84 L162.50,355.99 L162.75,355.88 L163.00,356.02 L163.25,355.77 L163.50,356.12 L163.75,356.06 L164.00,356.04 L164.25,356.03 L164.50,356.23 L164.75,356.05 L165.00,356.23 L165.25,356.04 L165.50,356.08 L165.75,356.09 L166.00,356.22 L166.25,356.01 L166.50,355.96 L166.75,355.88 L167.00,355.80 L167.25,355.70 L167.50,355.88 L167.75,355.78 L168.00,355.49 L168.25,355.50 L168.50,355.28 L168.75,355.40 L169.00,355.26 L169.25,355.07 L169.50,354.82 L169.75,354.79 L170.00,354.58 L170.25,354.29 L170.50,354.14 L170.75,353.69 L171.00,353.50 L171.25,353.19 L171.50,353.01 L171.75,352.83 L172.00,352.25 L172.25,351.88 L172.50,351.25 L172.75,350.69 L173.00,350.30 L173.25,349.75 L173.50,349.24 L173.75,348.53 L174.00,347.77 L174.25,347.22 L174.50,347.44 L174.75,347.60 L175.00,348.10 L175.25,348.74 L175.50,349.49 L175.75,350.17 L176.00,350.97 L176.25,352.02 L176.50,352.54 L176.75,353.41 L177.00,353.88 L177.25,354.36 L177.50,354.89 L177.75,355.30 L178.00,355.47 L178.25,356.00 L178.50,356.03 L178.75,356.40 L179.00,356.47 L179.25,356.72 L179.50,356.82 L179.75,356.86 L180.00,357.05 L180.25,356.98 L180.50,357.08 L180.75,357.27 L181.00,357.54 L181.25,357.42 L181.50,357.54 L181.75,357.86 L182.00,357.80 L182.25,357.91 L182.50,357.92 L182.75,358.15 L183.00,358.33 L183.25,358.39 L183.50,358.59 L183.75,358.67 L184.00,358.87 L184.25,358.97 L184.50,359.00 L184.75,359.22 L185.00,359.43 L185.25,359.40 L185.50,359.36 L185.75,359.60 L186.00,359.67 L186.25,360.04 L186.50,359.94 L186.75,359.83 L187.00,360.00 L187.25,360.22 L187.50,360.01 L187.75,360.12 L188.00,360.20 L188.25,360.21 L188.50,360.19 L188.75,360.28 L189.00,360.15 L189.25,360.25 L189.50,360.27 L189.75,360.32 L190.00,360.34 L190.25,360.39 L190.50,360.37 L190.75,360.38 L191.00,360.47 L191.25,360.54 L191.50,360.56 L191.75,360.37 L192.00,360.52 L192.25,360.58 L192.50,360.50 L192.75,360.58 L193.00,360.52 L193.25,360.60 L193.50,360.42 L193.75,360.63 L194.00,360.54 L194.25,360.53 L194.50,360.58 L194.75,360.72 L195.00,360.73 L195.25,360.66 L195.50,360.74 L195.75,360.62 L196.00,360.54 L196.25,360.49 L196.50,360.68 L196.75,360.68 L197.00,360.70 L197.25,360.71 L197.50,360.84 L197.75,360.63 L198.00,360.65 L198.25,360.93 L198.50,360.82 L198.75,360.73 L199.00,360.56 L199.25,360.69 L199.50,360.74 L199.75,360.78 L200.00,360.82 L200.25,360.78 L200.50,360.93 L200.75,360.70 L201.00,360.80 L201.25,360.77 L201.50,360.93 L201.75,360.87 L202.00,360.94 L202.25,360.88 L202.50,361.26 L202.75,360.96 L203.00,360.82 L203.25,360.91 L203.50,360.88 L203.75,361.00 L204.00,361.03 L204.25,360.98 L204.50,360.93 L204.75,360.89 L205.00,361.13 L205.25,361.09 L205.50,360.69 L205.75,361.00 L206.00,360.91 L206.25,360.97 L206.50,361.18 L206.75,360.91 L207.00,360.93 L207.25,361.28 L207.50,361.00 L207.75,361.03 L208.00,361.18 L208.25,361.02 L208.50,361.08 L208.75,361.11 L209.00,361.23 L209.25,360.94 L209.50,361.02 L209.75,361.10 L210.00,361.21 L210.25,361.07 L210.50,361.18 L210.75,361.09 L211.00,361.11 L211.25,361.29 L211.50,361.14 L211.75,361.47 L212.00,361.22 L212.25,361.30 L212.50,361.27 L212.75,361.05 L213.00,361.06 L213.25,361.27 L213.50,361.11 L213.75,361.18 L214.00,361.21 L214.25,361.15 L214.50,361.37 L214.75,361.34 L215.00,361.28 L215.25,361.33 L215.50,361.19 L215.75,361.38 L216.00,361.21 L216.25,361.46 L216.50,361.24 L216.75,361.26 L217.00,361.44 L217.25,361.39 L217.50,361.24 L217.75,361.40 L218.00,361.35 L218.25,361.36 L218.50,361.42 L218.75,361.43 L219.00,361.48 L219.25,361.43 L219.50,361.42 L219.75,361.38 L220.00,361.55 L220.25,361.33 L220.50,361.60 L220.75,361.64 L221.00,361.64 L221.25,361.42 L221.50,361.65 L221.75,361.56 L222.00,361.56 L222.25,361.79 L222.50,361.48 L222.75,361.53 L223.00,361.35 L223.25,361.26 L223.50,361.52 L223.75,361.54 L224.00,361.57 L224.25,361.54 L224.50,361.31 L224.75,361.55 L225.00,361.64 L225.25,361.69 L225.50,361.44 L225.75,361.45 L226.00,361.48 L226.25,361.49 L226.50,361.40 L226.75,361.49 L227.00,361.73 L227.25,361.47 L227.50,361.39 L227.75,361.56 L228.00,361.54 L228.25,361.66 L228.50,361.53 L228.75,361.59 L229.00,361.53 L229.25,361.52 L229.50,361.66 L229.75,361.64 L230.00,361.63 L230.25,361.69 L230.50,361.56 L230.75,361.65 L231.00,361.68 L231.25,361.78 L231.50,361.48 L231.75,361.64 L232.00,361.72 L232.25,361.62 L232.50,361.70 L232.75,361.76 L233.00,361.74 L233.25,361.53 L233.50,361.59 L233.75,361.43 L234.00,361.78 L234.25,361.74 L234.50,361.86 L234.75,361.74 L235.00,361.62 L235.25,361.85 L235.50,361.61 L235.75,361.75 L236.00,361.74 L236.25,361.84 L236.50,361.86 L236.75,361.73 L237.00,361.70 L237.25,361.78 L237.50,361.73 L237.75,361.89 L238.00,361.83 L238.25,361.94 L238.50,362.07 L238.75,361.72 L239.00,361.75 L239.25,361.87 L239.50,361.86 L239.75,361.79 L240.00,361.66 L240.25,362.09 L240.50,361.85 L240.75,361.73 L241.00,361.61 L241.25,362.00 L241.50,361.89 L241.75,361.86 L242.00,361.76 L242.25,361.86 L242.50,361.84 L242.75,361.63 L243.00,362.15 L243.25,361.93 L243.50,361.86 L243.75,361.80 L244.00,361.84 L244.25,362.15 L244.50,361.95 L244.75,361.78 L245.00,362.01 L245.25,361.97 L245.50,361.98 L245.75,361.92 L246.00,361.92 L246.25,361.96 L246.50,361.92 L246.75,361.81 L247.00,361.85 L247.25,361.96 L247.50,361.80 L247.75,361.95 L248.00,361.94 L248.25,362.05 L248.50,361.99 L248.75,361.95 L249.00,361.95 L249.25,362.03 L249.50,362.09 L249.75,361.89 L250.00,361.84 L250.25,361.93 L250.50,361.77 L250.75,361.93 L251.00,362.10 L251.25,362.12 L251.50,362.18 L251.75,362.03 L252.00,362.05 L252.25,361.97 L252.50,361.98 L252.75,362.07 L253.00,362.14 L253.25,362.09 L253.50,361.85 L253.75,362.11 L254.00,362.06 L254.25,362.00 L254.50,362.08 L254.75,362.16 L255.00,362.09 L255.25,362.01 L255.50,362.42 L255.75,362.02 L256.00,362.14 L256.25,362.22 L256.50,362.01 L256.75,362.16 L257.00,362.02 L257.25,362.08 L257.50,362.04 L257.75,362.29 L258.00,361.98 L258.25,362.18 L258.50,362.13 L258.75,361.93 L259.00,362.31 L259.25,362.08 L259.50,362.12 L259.75,362.17 L260.00,362.06 L260.25,362.08 L260.50,362.15 L260.75,362.07 L261.00,362.18 L261.25,362.30 L261.50,362.07 L261.75,362.02 L262.00,362.17 L262.25,362.23 L262.50,362.26 L262.75,362.08 L263.00,361.96 L263.25,362.29 L263.50,362.28 L263.75,362.36 L264.00,362.11 L264.25,362.27 L264.50,362.32 L264.75,362.04 L265.00,362.33 L265.25,362.37 L265.50,362.29 L265.75,362.29 L266.00,362.32 L266.25,362.22 L266.50,362.10 L266.75,362.16 L267.00,362.24 L267.25,362.17 L267.50,362.37 L267.75,362.23 L268.00,362.26 L268.25,362.10 L268.50,362.32 L268.75,362.21 L269.00,362.44 L269.25,362.12 L269.50,362.32 L269.75,362.26 L270.00,362.26 L270.25,362.47 L270.50,362.40 L270.75,362.23 L271.00,362.45 L271.25,362.25 L271.50,362.40 L271.75,362.15 L272.00,362.30 L272.25,362.30 L272.50,362.30 L272.75,362.18 L273.00,362.15 L273.25,362.34 L273.50,362.41 L273.75,362.36 L274.00,362.32 L274.25,362.21 L274.50,362.34 L274.75,362.31 L275.00,362.30 L275.25,362.39 L275.50,362.40 L275.75,362.42 L276.00,362.36 L276.25,362.31 L276.50,362.37 L276.75,362.37 L277.00,362.24 L277.25,362.37 L277.50,362.24 L277.75,362.21 L278.00,362.33 L278.25,362.35 L278.50,362.49 L278.75,362.39 L279.00,362.48 L279.25,362.58 L279.50,362.45 L279.75,362.48 L280.00,362.37 L280.25,362.53 L280.50,362.45 L280.75,362.46 L281.00,362.34 L281.25,362.36 L281.50,362.39 L281.75,362.48 L282.00,362.58 L282.25,362.32 L282.50,362.44 L282.75,362.45 L283.00,362.71 L283.25,362.46 L283.50,362.43 L283.75,362.57 L284.00,362.38 L284.25,362.55 L284.50,362.33 L284.75,362.71 L285.00,362.50 L285.25,362.47 L285.50,362.38 L285.75,362.50 L286.00,362.53 L286.25,362.45 L286.50,362.65 L286.75,362.50 L287.00,362.54 L287.25,362.57 L287.50,362.68 L287.75,362.51 L288.00,362.55 L288.25,362.58 L288.50,362.62 L288.75,362.37 L289.00,362.68 L289.25,362.55 L289.50,362.49 L289.75,362.57 L290.00,362.38 L290.25,362.50 L290.50,362.60 L290.75,362.72 L291.00,362.58 L291.25,362.63 L291.50,362.56 L291.75,362.68 L292.00,362.56 L292.25,362.65 L292.50,362.57 L292.75,362.51 L293.00,362.51 L293.25,362.55 L293.50,362.73 L293.75,362.94 L294.00,362.60 L294.25,362.55 L294.50,362.68 L294.75,362.68 L295.00,362.58 L295.25,362.83 L295.50,362.73 L295.75,362.74 L296.00,362.65 L296.25,362.66 L296.50,362.75 L296.75,362.52 L297.00,362.58 L297.25,362.67 L297.50,362.52 L297.75,362.83 L298.00,362.61 L298.25,362.63 L298.50,362.71 L298.75,362.83 L299.00,362.68 L299.25,362.61 L299.50,362.60 L299.75,362.72 L300.00,362.64 L300.25,362.94 L300.50,362.83 L300.75,362.39 L301.00,362.61 L301.25,362.74 L301.50,362.94 L301.75,362.51 L302.00,362.67 L302.25,362.84 L302.50,362.65 L302.75,362.73 L303.00,362.68 L303.25,362.80 L303.50,362.62 L303.75,362.74 L304.00,362.59 L304.25,362.84 L304.50,362.80 L304.75,362.74 L305.00,362.75 L305.25,362.75 L305.50,362.72 L305.75,362.77 L306.00,362.80 L306.25,362.75 L306.50,362.70 L306.75,362.73 L307.00,362.72 L307.25,362.82 L307.50,362.79 L307.75,362.97 L308.00,362.76 L308.25,362.79 L308.50,362.72 L308.75,362.80 L309.00,362.74 L309.25,362.71 L309.50,362.81 L309.75,362.96 L310.00,362.71 L310.25,362.74 L310.50,362.80 L310.75,362.83 L311.00,362.94 L311.25,362.75 L311.50,362.80 L311.75,362.74 L312.00,362.73 L312.25,362.77 L312.50,362.71 L312.75,362.87 L313.00,362.93 L313.25,362.78 L313.50,362.76 L313.75,362.96 L314.00,362.81 L314.25,362.98 L314.50,362.55 L314.75,362.82 L315.00,362.74 L315.25,362.79 L315.50,362.93 L315.75,362.96 L316.00,362.83 L316.25,362.95 L316.50,362.74 L316.75,362.88 L317.00,362.84 L317.25,362.69 L317.50,362.95 L317.75,362.80 L318.00,362.91 L318.25,362.79 L318.50,362.89 L318.75,362.93 L319.00,362.87 L319.25,362.83 L319.50,362.94 L319.75,362.90 L320.00,362.84 L320.25,362.89 L320.50,362.88 L320.75,362.85 L321.00,362.98 L321.25,363.07 L321.50,362.84 L321.75,362.88 L322.00,362.80 L322.25,362.77 L322.50,363.02 L322.75,362.84 L323.00,362.94 L323.25,362.77 L323.50,362.84 L323.75,362.96 L324.00,362.96 L324.25,362.94 L324.50,362.96 L324.75,362.94 L325.00,363.02 L325.25,363.09 L325.50,362.98 L325.75,362.91 L326.00,362.82 L326.25,362.88 L326.50,362.90 L326.75,363.07 L327.00,362.78 L327.25,362.85 L327.50,362.83 L327.75,363.02 L328.00,362.87 L328.25,362.76 L328.50,362.73 L328.75,362.97 L329.00,362.78 L329.25,363.05 L329.50,363.05 L329.75,362.83 L330.00,362.91 L330.25,362.95 L330.50,362.80 L330.75,362.83 L331.00,362.89 L331.25,362.95 L331.50,362.98 L331.75,362.77 L332.00,362.98 L332.25,362.95 L332.50,362.93 L332.75,362.91 L333.00,363.06 L333.25,363.12 L333.50,362.92 L333.75,362.95 L334.00,362.81 L334.25,362.93 L334.50,363.04 L334.75,362.96 L335.00,363.01 L335.25,362.96 L335.50,362.98 L335.75,363.04 L336.00,363.05 L336.25,362.78 L336.50,362.96 L336.75,362.69 L337.00,362.98 L337.25,362.93 L337.50,362.92 L337.75,363.14 L338.00,363.02 L338.25,363.10 L338.50,363.05 L338.75,363.16 L339.00,362.96 L339.25,362.96 L339.50,362.98 L339.75,363.24 L340.00,362.95 L340.25,363.00 L340.50,363.13 L340.75,363.09 L341.00,362.95 L341.25,363.17 L341.50,363.04 L341.75,363.14 L342.00,363.06 L342.25,363.08 L342.50,362.92 L342.75,363.14 L343.00,362.93 L343.25,363.01 L343.50,363.11 L343.75,362.97" fill="none" stroke="#00ffff" stroke-width="1.8" stroke-linejoin="round" stroke-linecap="round" clip-path="url(#cb)" />
<path d="M68.50,361.01 L68.75,361.00 L69.00,361.02 L69.25,361.07 L69.50,360.82 L69.75,360.94 L70.00,361.25 L70.25,360.76 L70.50,360.92 L70.75,361.09 L71.00,360.78 L71.25,360.89 L71.50,360.90 L71.75,361.18 L72.00,360.89 L72.25,361.07 L72.50,360.92 L72.75,360.99 L73.00,360.85 L73.25,360.81 L73.50,360.93 L73.75,360.82 L74.00,360.97 L74.25,361.00 L74.50,361.03 L74.75,361.17 L75.00,361.15 L75.25,360.85 L75.50,360.89 L75.75,361.18 L76.00,360.97 L76.25,360.93 L76.50,361.10 L76.75,360.90 L77.00,361.08 L77.25,360.93 L77.50,361.12 L77.75,360.95 L78.00,361.06 L78.25,361.09 L78.50,361.16 L78.75,360.86 L79.00,360.91 L79.25,360.79 L79.50,360.75 L79.75,360.89 L80.00,360.97 L80.25,361.10 L80.50,360.90 L80.75,361.17 L81.00,360.96 L81.25,361.05 L81.50,360.91 L81.75,360.79 L82.00,361.12 L82.25,360.90 L82.50,361.06 L82.75,360.88 L83.00,361.00 L83.25,360.90 L83.50,360.88 L83.75,360.90 L84.00,361.00 L84.25,360.77 L84.50,360.79 L84.75,361.03 L85.00,360.82 L85.25,360.93 L85.50,360.74 L85.75,360.87 L86.00,361.03 L86.25,360.90 L86.50,360.92 L86.75,360.84 L87.00,360.90 L87.25,360.67 L87.50,360.68 L87.75,360.93 L88.00,360.66 L88.25,361.03 L88.50,360.97 L88.75,360.72 L89.00,360.60 L89.25,360.57 L89.50,360.90 L89.75,360.84 L90.00,361.02 L90.25,360.91 L90.50,361.03 L90.75,360.95 L91.00,360.73 L91.25,360.82 L91.50,360.74 L91.75,360.80 L92.00,360.77 L92.25,360.80 L92.50,360.99 L92.75,360.76 L93.00,360.68 L93.25,360.74 L93.50,360.76 L93.75,360.74 L94.00,360.79 L94.25,360.75 L94.50,360.94 L94.75,360.91 L95.00,360.71 L95.25,360.91 L95.50,360.96 L95.75,360.79 L96.00,360.68 L96.25,360.83 L96.50,360.77 L96.75,360.82 L97.00,360.64 L97.25,361.02 L97.50,360.74 L97.75,360.82 L98.00,360.69 L98.25,360.77 L98.50,360.47 L98.75,360.59 L99.00,360.44 L99.25,360.85 L99.50,360.56 L99.75,360.54 L100.00,360.86 L100.25,360.66 L100.50,360.69 L100.75,360.84 L101.00,360.76 L101.25,360.74 L101.50,360.77 L101.75,360.45 L102.00,360.84 L102.25,360.84 L102.50,360.89 L102.75,360.41 L103.00,360.56 L103.25,360.59 L103.50,360.85 L103.75,360.71 L104.00,360.85 L104.25,360.69 L104.50,360.55 L104.75,360.46 L105.00,360.54 L105.25,360.77 L105.50,360.50 L105.75,360.38 L106.00,360.62 L106.25,360.75 L106.50,360.87 L106.75,360.72 L107.00,360.68 L107.25,360.34 L107.50,360.50 L107.75,360.50 L108.00,360.55 L108.25,360.42 L108.50,360.62 L108.75,360.66 L109.00,360.52 L109.25,360.47 L109.50,360.52 L109.75,360.53 L110.00,360.57 L110.25,360.37 L110.50,360.64 L110.75,360.46 L111.00,360.43 L111.25,360.53 L111.50,360.35 L111.75,360.54 L112.00,360.68 L112.25,360.47 L112.50,360.43 L112.75,360.34 L113.00,360.57 L113.25,360.52 L113.50,360.20 L113.75,360.49 L114.00,360.28 L114.25,360.22 L114.50,360.34 L114.75,360.26 L115.00,360.48 L115.25,360.18 L115.50,360.17 L115.75,360.20 L116.00,360.29 L116.25,360.37 L116.50,360.16 L116.75,360.20 L117.00,360.09 L117.25,360.25 L117.50,360.14 L117.75,360.52 L118.00,360.48 L118.25,360.13 L118.50,360.26 L118.75,360.28 L119.00,360.16 L119.25,360.17 L119.50,360.29 L119.75,360.17 L120.00,360.16 L120.25,360.19 L120.50,360.33 L120.75,360.15 L121.00,360.22 L121.25,360.20 L121.50,360.25 L121.75,360.13 L122.00,360.09 L122.25,360.06 L122.50,360.17 L122.75,360.15 L123.00,360.10 L123.25,360.15 L123.50,360.40 L123.75,360.21 L124.00,359.89 L124.25,360.26 L124.50,360.12 L124.75,359.97 L125.00,360.25 L125.25,360.08 L125.50,360.20 L125.75,360.00 L126.00,360.20 L126.25,360.03 L126.50,360.18 L126.75,360.16 L127.00,359.91 L127.25,360.09 L127.50,360.10 L127.75,360.03 L128.00,359.82 L128.25,360.06 L128.50,359.98 L128.75,360.16 L129.00,359.88 L129.25,360.12 L129.50,360.02 L129.75,360.30 L130.00,359.87 L130.25,360.10 L130.50,359.91 L130.75,359.86 L131.00,360.09 L131.25,360.03 L131.50,360.08 L131.75,359.75 L132.00,359.79 L132.25,360.00 L132.50,359.82 L132.75,360.07 L133.00,360.11 L133.25,359.88 L133.50,359.90 L133.75,359.89 L134.00,359.84 L134.25,359.86 L134.50,359.83 L134.75,359.90 L135.00,359.80 L135.25,359.77 L135.50,359.78 L135.75,359.73 L136.00,359.79 L136.25,359.85 L136.50,360.02 L136.75,359.57 L137.00,359.59 L137.25,359.73 L137.50,359.73 L137.75,359.71 L138.00,359.92 L138.25,359.47 L138.50,359.65 L138.75,359.49 L139.00,359.57 L139.25,359.64 L139.50,359.37 L139.75,359.62 L140.00,359.35 L140.25,359.28 L140.50,359.15 L140.75,359.21 L141.00,359.15 L141.25,359.27 L141.50,358.92 L141.75,359.06 L142.00,359.07 L142.25,358.86 L142.50,358.90 L142.75,358.65 L143.00,358.69 L143.25,358.52 L143.50,358.73 L143.75,358.34 L144.00,358.25 L144.25,358.24 L144.50,358.03 L144.75,357.97 L145.00,357.93 L145.25,357.89 L145.50,357.61 L145.75,357.58 L146.00,357.45 L146.25,357.44 L146.50,357.35 L146.75,357.19 L147.00,357.06 L147.25,357.13 L147.50,356.70 L147.75,356.88 L148.00,356.64 L148.25,356.27 L148.50,356.35 L148.75,356.05 L149.00,356.09 L149.25,355.75 L149.50,355.96 L149.75,355.66 L150.00,355.84 L150.25,355.44 L150.50,355.42 L150.75,355.13 L151.00,355.17 L151.25,355.07 L151.50,355.02 L151.75,355.14 L152.00,354.93 L152.25,354.71 L152.50,354.46 L152.75,354.34 L153.00,354.22 L153.25,354.03 L153.50,354.08 L153.75,353.87 L154.00,353.80 L154.25,353.57 L154.50,353.51 L154.75,353.53 L155.00,353.21 L155.25,353.13 L155.50,352.76 L155.75,352.68 L156.00,352.49 L156.25,352.42 L156.50,352.22 L156.75,351.92 L157.00,351.85 L157.25,351.62 L157.50,351.20 L157.75,351.16 L158.00,351.07 L158.25,350.57 L158.50,350.54 L158.75,350.22 L159.00,349.88 L159.25,349.62 L159.50,349.17 L159.75,349.04 L160.00,348.47 L160.25,348.18 L160.50,348.05 L160.75,347.52 L161.00,347.55 L161.25,347.00 L161.50,346.72 L161.75,346.37 L162.00,345.85 L162.25,345.53 L162.50,345.20 L162.75,344.75 L163.00,344.53 L163.25,344.06 L163.50,343.53 L163.75,343.22 L164.00,342.62 L164.25,342.23 L164.50,341.67 L164.75,341.11 L165.00,340.50 L165.25,339.98 L165.50,339.50 L165.75,338.95 L166.00,338.02 L166.25,337.57 L166.50,337.01 L166.75,336.21 L167.00,335.36 L167.25,334.59 L167.50,334.10 L167.75,332.86 L168.00,332.13 L168.25,331.34 L168.50,330.04 L168.75,329.38 L169.00,328.11 L169.25,327.33 L169.50,326.34 L169.75,324.59 L170.00,323.36 L170.25,321.95 L170.50,320.29 L170.75,318.79 L171.00,316.92 L171.25,315.07 L171.50,312.96 L171.75,310.80 L172.00,308.47 L172.25,306.02 L172.50,303.31 L172.75,300.56 L173.00,297.99 L173.25,295.34 L173.50,292.64 L173.75,289.93 L174.00,286.82 L174.25,283.59 L174.50,280.01 L174.75,275.91 L175.00,271.20 L175.25,266.29 L175.50,260.92 L175.75,255.53 L176.00,249.69 L176.25,243.75 L176.50,237.55 L176.75,231.36 L177.00,224.69 L177.25,218.63 L177.50,212.29 L177.75,206.11 L178.00,199.84 L178.25,192.96 L178.50,185.41 L178.75,177.53 L179.00,170.32 L179.25,163.55 L179.50,157.88 L179.75,153.38 L180.00,150.78 L180.25,150.00 L180.50,152.09 L180.75,156.79 L181.00,162.99 L181.25,170.59 L181.50,178.95 L181.75,187.15 L182.00,194.93 L182.25,201.79 L182.50,206.79 L182.75,211.01 L183.00,215.25 L183.25,218.96 L183.50,222.54 L183.75,226.11 L184.00,229.98 L184.25,233.79 L184.50,237.71 L184.75,241.15 L185.00,245.14 L185.25,249.06 L185.50,253.13 L185.75,257.91 L186.00,263.20 L186.25,269.90 L186.50,276.08 L186.75,280.83 L187.00,284.74 L187.25,288.24 L187.50,291.42 L187.75,294.43 L188.00,296.84 L188.25,299.53 L188.50,301.69 L188.75,303.61 L189.00,305.60 L189.25,307.58 L189.50,309.07 L189.75,310.97 L190.00,312.46 L190.25,314.18 L190.50,316.10 L190.75,317.43 L191.00,319.37 L191.25,320.75 L191.50,322.04 L191.75,323.35 L192.00,324.51 L192.25,325.75 L192.50,326.75 L192.75,327.68 L193.00,328.59 L193.25,329.45 L193.50,330.54 L193.75,331.18 L194.00,332.58 L194.25,333.45 L194.50,334.24 L194.75,335.47 L195.00,336.24 L195.25,337.19 L195.50,337.88 L195.75,338.80 L196.00,339.62 L196.25,340.22 L196.50,340.84 L196.75,341.25 L197.00,341.91 L197.25,342.14 L197.50,342.70 L197.75,342.87 L198.00,343.55 L198.25,343.90 L198.50,344.30 L198.75,344.74 L199.00,345.15 L199.25,345.16 L199.50,345.56 L199.75,345.63 L200.00,346.33 L200.25,346.50 L200.50,346.63 L200.75,346.94 L201.00,347.11 L201.25,347.14 L201.50,347.50 L201.75,347.75 L202.00,347.89 L202.25,347.97 L202.50,348.11 L202.75,348.62 L203.00,348.54 L203.25,348.73 L203.50,348.66 L203.75,349.07 L204.00,349.19 L204.25,349.22 L204.50,349.63 L204.75,349.64 L205.00,349.87 L205.25,350.00 L205.50,350.01 L205.75,350.27 L206.00,350.53 L206.25,350.36 L206.50,350.49 L206.75,350.62 L207.00,350.92 L207.25,350.86 L207.50,351.04 L207.75,351.21 L208.00,351.01 L208.25,351.40 L208.50,351.30 L208.75,351.34 L209.00,351.62 L209.25,351.56 L209.50,351.41 L209.75,351.62 L210.00,351.59 L210.25,351.77 L210.50,351.73 L210.75,351.80 L211.00,351.99 L211.25,351.71 L211.50,351.98 L211.75,351.94 L212.00,352.02 L212.25,351.71 L212.50,351.89 L212.75,351.95 L213.00,352.19 L213.25,351.82 L213.50,351.82 L213.75,351.91 L214.00,351.95 L214.25,351.81 L214.50,351.86 L214.75,351.61 L215.00,351.97 L215.25,351.69 L215.50,351.70 L215.75,351.97 L216.00,351.53 L216.25,351.40 L216.50,351.36 L216.75,351.60 L217.00,351.29 L217.25,351.12 L217.50,351.10 L217.75,350.99 L218.00,350.99 L218.25,350.83 L218.50,350.66 L218.75,350.54 L219.00,350.26 L219.25,350.07 L219.50,350.14 L219.75,350.02 L220.00,349.84 L220.25,349.72 L220.50,349.61 L220.75,349.24 L221.00,349.18 L221.25,348.95 L221.50,348.65 L221.75,348.76 L222.00,348.48 L222.25,348.36 L222.50,348.18 L222.75,347.77 L223.00,347.83 L223.25,347.44 L223.50,347.26 L223.75,347.06 L224.00,346.50 L224.25,346.17 L224.50,345.94 L224.75,345.69 L225.00,345.31 L225.25,344.52 L225.50,344.48 L225.75,343.77 L226.00,343.36 L226.25,342.60 L226.50,342.06 L226.75,341.59 L227.00,340.68 L227.25,340.30 L227.50,339.42 L227.75,338.74 L228.00,337.89 L228.25,336.90 L228.50,336.15 L228.75,335.22 L229.00,333.88 L229.25,332.38 L229.50,331.30 L229.75,329.84 L230.00,328.39 L230.25,326.50 L230.50,324.79 L230.75,322.52 L231.00,320.25 L231.25,317.62 L231.50,314.81 L231.75,311.95 L232.00,308.81 L232.25,305.22 L232.50,301.28 L232.75,297.26 L233.00,293.52 L233.25,289.79 L233.50,286.09 L233.75,282.46 L234.00,278.91 L234.25,275.10 L234.50,270.82 L234.75,266.50 L235.00,262.40 L235.25,258.63 L235.50,255.70 L235.75,251.87 L236.00,248.66 L236.25,246.25 L236.50,245.63 L236.75,246.60 L237.00,248.75 L237.25,252.05 L237.50,255.29 L237.75,258.64 L238.00,262.59 L238.25,266.72 L238.50,269.82 L238.75,271.70 L239.00,272.91 L239.25,274.69 L239.50,276.87 L239.75,280.78 L240.00,285.61 L240.25,290.81 L240.50,294.90 L240.75,298.69 L241.00,301.82 L241.25,304.64 L241.50,307.67 L241.75,310.79 L242.00,314.07 L242.25,317.03 L242.50,319.98 L242.75,322.73 L243.00,324.55 L243.25,326.35 L243.50,328.10 L243.75,329.40 L244.00,330.68 L244.25,331.86 L244.50,333.42 L244.75,334.35 L245.00,335.67 L245.25,336.40 L245.50,337.57 L245.75,338.57 L246.00,339.33 L246.25,340.28 L246.50,341.07 L246.75,341.96 L247.00,342.55 L247.25,343.38 L247.50,344.27 L247.75,344.94 L248.00,345.65 L248.25,346.11 L248.50,346.62 L248.75,347.30 L249.00,347.94 L249.25,348.46 L249.50,349.15 L249.75,349.43 L250.00,350.00 L250.25,350.33 L250.50,350.92 L250.75,351.55 L251.00,351.81 L251.25,352.26 L251.50,352.58 L251.75,353.00 L252.00,353.12 L252.25,353.61 L252.50,353.95 L252.75,354.31 L253.00,354.63 L253.25,354.68 L253.50,354.84 L253.75,355.20 L254.00,355.68 L254.25,355.64 L254.50,355.82 L254.75,356.04 L255.00,356.24 L255.25,356.68 L255.50,356.69 L255.75,356.90 L256.00,357.29 L256.25,357.44 L256.50,357.60 L256.75,357.57 L257.00,357.61 L257.25,358.01 L257.50,358.32 L257.75,358.20 L258.00,358.34 L258.25,358.10 L258.50,358.81 L258.75,358.68 L259.00,358.59 L259.25,358.88 L259.50,358.90 L259.75,359.13 L260.00,359.39 L260.25,359.11 L260.50,359.30 L260.75,359.31 L261.00,359.34 L261.25,359.54 L261.50,359.73 L261.75,359.66 L262.00,359.61 L262.25,359.78 L262.50,359.80 L262.75,359.92 L263.00,359.81 L263.25,359.94 L263.50,360.16 L263.75,360.01 L264.00,360.17 L264.25,360.09 L264.50,360.14 L264.75,360.08 L265.00,360.55 L265.25,360.39 L265.50,360.43 L265.75,360.46 L266.00,360.23 L266.25,360.30 L266.50,360.40 L266.75,360.25 L267.00,360.38 L267.25,360.62 L267.50,360.29 L267.75,360.47 L268.00,360.59 L268.25,360.62 L268.50,360.65 L268.75,360.59 L269.00,360.82 L269.25,360.45 L269.50,360.80 L269.75,360.60 L270.00,360.71 L270.25,360.81 L270.50,361.03 L270.75,360.75 L271.00,360.71 L271.25,361.02 L271.50,360.91 L271.75,360.93 L272.00,361.02 L272.25,361.09 L272.50,361.00 L272.75,360.74 L273.00,360.99 L273.25,361.03 L273.50,360.90 L273.75,360.93 L274.00,361.15 L274.25,361.12 L274.50,360.99 L274.75,361.18 L275.00,361.15 L275.25,360.99 L275.50,361.13 L275.75,361.02 L276.00,361.10 L276.25,361.25 L276.50,361.09 L276.75,361.11 L277.00,361.32 L277.25,361.17 L277.50,361.28 L277.75,361.30 L278.00,361.33 L278.25,361.42 L278.50,361.34 L278.75,361.32 L279.00,361.38 L279.25,361.60 L279.50,361.59 L279.75,361.49 L280.00,361.67 L280.25,361.63 L280.50,361.44 L280.75,361.77 L281.00,361.95 L281.25,361.67 L281.50,361.46 L281.75,361.86 L282.00,361.77 L282.25,361.71 L282.50,361.50 L282.75,361.75 L283.00,361.75 L283.25,361.77 L283.50,361.78 L283.75,361.97 L284.00,361.82 L284.25,361.95 L284.50,361.69 L284.75,361.82 L285.00,361.96 L285.25,361.87 L285.50,362.01 L285.75,362.02 L286.00,362.07 L286.25,362.03 L286.50,362.16 L286.75,361.94 L287.00,362.08 L287.25,362.33 L287.50,362.11 L287.75,362.37 L288.00,362.24 L288.25,362.19 L288.50,362.25 L288.75,362.45 L289.00,362.24 L289.25,362.16 L289.50,362.37 L289.75,362.41 L290.00,362.44 L290.25,362.17 L290.50,362.42 L290.75,362.39 L291.00,362.37 L291.25,362.36 L291.50,362.48 L291.75,362.43 L292.00,362.45 L292.25,362.71 L292.50,362.49 L292.75,362.36 L293.00,362.40 L293.25,362.43 L293.50,362.34 L293.75,362.68 L294.00,362.78 L294.25,362.50 L294.50,362.69 L294.75,362.51 L295.00,362.53 L295.25,362.41 L295.50,362.62 L295.75,362.79 L296.00,362.81 L296.25,362.73 L296.50,362.65 L296.75,362.84 L297.00,362.91 L297.25,362.62 L297.50,362.76 L297.75,362.73 L298.00,362.67 L298.25,362.62 L298.50,362.67 L298.75,362.79 L299.00,362.82 L299.25,362.82 L299.50,362.96 L299.75,362.74 L300.00,362.68 L300.25,362.70 L300.50,362.90 L300.75,362.80 L301.00,362.67 L301.25,362.99 L301.50,363.06 L301.75,362.92 L302.00,362.99 L302.25,362.75 L302.50,362.76 L302.75,362.96 L303.00,362.98 L303.25,362.94 L303.50,362.94 L303.75,362.90 L304.00,363.16 L304.25,362.90 L304.50,362.99 L304.75,363.14 L305.00,362.90 L305.25,363.05 L305.50,363.03 L305.75,363.13 L306.00,362.77 L306.25,363.03 L306.50,362.99 L306.75,363.22 L307.00,363.09 L307.25,363.04 L307.50,363.22 L307.75,363.20 L308.00,363.25 L308.25,363.27 L308.50,363.24 L308.75,363.09 L309.00,363.20 L309.25,363.21 L309.50,363.23 L309.75,363.23 L310.00,363.21 L310.25,363.16 L310.50,363.21 L310.75,363.11 L311.00,363.13 L311.25,363.33 L311.50,363.21 L311.75,363.27 L312.00,363.20 L312.25,363.08 L312.50,363.24 L312.75,363.49 L313.00,363.29 L313.25,363.23 L313.50,363.40 L313.75,363.27 L314.00,363.26 L314.25,363.15 L314.50,363.14 L314.75,363.41 L315.00,363.38 L315.25,363.38 L315.50,363.46 L315.75,363.33 L316.00,363.40 L316.25,363.30 L316.50,363.31 L316.75,363.33 L317.00,363.55 L317.25,363.52 L317.50,363.32 L317.75,363.42 L318.00,363.48 L318.25,363.37 L318.50,363.56 L318.75,363.39 L319.00,363.45 L319.25,363.46 L319.50,363.29 L319.75,363.31 L320.00,363.42 L320.25,363.67 L320.50,363.61 L320.75,363.60 L321.00,363.48 L321.25,363.51 L321.50,363.57 L321.75,363.61 L322.00,363.40 L322.25,363.51 L322.50,363.51 L322.75,363.76 L323.00,363.55 L323.25,363.52 L323.50,363.73 L323.75,363.58 L324.00,363.75 L324.25,363.53 L324.50,363.88 L324.75,363.65 L325.00,363.69 L325.25,363.65 L325.50,363.68 L325.75,363.70 L326.00,363.66 L326.25,363.86 L326.50,363.44 L326.75,363.58 L327.00,363.68 L327.25,363.72 L327.50,363.92 L327.75,363.82 L328.00,363.76 L328.25,363.67 L328.50,364.01 L328.75,363.88 L329.00,364.09 L329.25,363.61 L329.50,364.00 L329.75,363.79 L330.00,363.71 L330.25,363.83 L330.50,363.84 L330.75,363.79 L331.00,363.66 L331.25,363.80 L331.50,363.69 L331.75,363.87 L332.00,363.70 L332.25,363.89 L332.50,363.82 L332.75,363.99 L333.00,363.79 L333.25,363.73 L333.50,363.73 L333.75,363.94 L334.00,364.38 L334.25,363.75 L334.50,363.85 L334.75,364.11 L335.00,364.01 L335.25,364.09 L335.50,363.98 L335.75,364.01 L336.00,363.96 L336.25,363.83 L336.50,363.99 L336.75,363.85 L337.00,364.05 L337.25,363.65 L337.50,363.74 L337.75,363.97 L338.00,364.01 L338.25,364.22 L338.50,363.91 L338.75,364.08 L339.00,363.80 L339.25,364.30 L339.50,363.71 L339.75,364.21 L340.00,363.99 L340.25,363.82 L340.50,363.97 L340.75,364.15 L341.00,364.03 L341.25,363.95 L341.50,364.08 L341.75,364.06 L342.00,364.18 L342.25,364.15 L342.50,364.02 L342.75,363.99 L343.00,364.09 L343.25,364.07 L343.50,364.12 L343.75,363.97" fill="none" stroke="#ff7f00" stroke-width="1.8" stroke-linejoin="round" stroke-linecap="round" clip-path="url(#cb)" />
<path d="M68.50,346.39 L68.75,346.25 L69.00,346.46 L69.25,346.41 L69.50,346.33 L69.75,346.12 L70.00,346.52 L70.25,346.22 L70.50,346.27 L70.75,346.32 L71.00,346.39 L71.25,346.24 L71.50,346.23 L71.75,346.09 L72.00,346.45 L72.25,346.21 L72.50,346.20 L72.75,345.95 L73.00,346.16 L73.25,346.37 L73.50,346.38 L73.75,346.06 L74.00,346.21 L74.25,346.28 L74.50,345.96 L74.75,346.10 L75.00,346.25 L75.25,346.29 L75.50,345.89 L75.75,345.93 L76.00,346.25 L76.25,346.00 L76.50,346.10 L76.75,345.85 L77.00,346.18 L77.25,346.05 L77.50,346.18 L77.75,345.81 L78.00,345.85 L78.25,345.73 L78.50,345.71 L78.75,345.68 L79.00,345.88 L79.25,345.69 L79.50,345.81 L79.75,345.69 L80.00,345.82 L80.25,345.87 L80.50,345.84 L80.75,345.83 L81.00,345.65 L81.25,345.75 L81.50,345.57 L81.75,345.45 L82.00,345.35 L82.25,345.50 L82.50,345.51 L82.75,345.67 L83.00,345.31 L83.25,345.57 L83.50,345.07 L83.75,345.24 L84.00,345.56 L84.25,345.11 L84.50,344.98 L84.75,344.91 L85.00,345.35 L85.25,345.15 L85.50,344.83 L85.75,344.79 L86.00,344.43 L86.25,344.72 L86.50,344.93 L86.75,344.35 L87.00,344.75 L87.25,344.62 L87.50,344.71 L87.75,344.33 L88.00,344.40 L88.25,344.50 L88.50,344.31 L88.75,344.29 L89.00,344.08 L89.25,344.04 L89.50,343.92 L89.75,343.97 L90.00,343.90 L90.25,343.79 L90.50,343.45 L90.75,343.50 L91.00,343.63 L91.25,343.76 L91.50,343.38 L91.75,343.37 L92.00,343.37 L92.25,343.46 L92.50,343.49 L92.75,343.21 L93.00,343.10 L93.25,342.90 L93.50,343.01 L93.75,342.83 L94.00,342.82 L94.25,342.59 L94.50,342.81 L94.75,342.50 L95.00,342.25 L95.25,342.40 L95.50,342.16 L95.75,342.33 L96.00,342.36 L96.25,342.16 L96.50,341.98 L96.75,341.79 L97.00,341.76 L97.25,342.07 L97.50,341.83 L97.75,341.44 L98.00,341.36 L98.25,341.48 L98.50,341.35 L98.75,341.27 L99.00,341.27 L99.25,340.93 L99.50,340.89 L99.75,341.08 L100.00,340.89 L100.25,340.72 L100.50,340.67 L100.75,340.70 L101.00,340.57 L101.25,340.35 L101.50,340.20 L101.75,340.42 L102.00,340.04 L102.25,340.45 L102.50,339.89 L102.75,339.89 L103.00,340.07 L103.25,340.04 L103.50,339.75 L103.75,339.26 L104.00,339.55 L104.25,339.16 L104.50,339.31 L104.75,339.41 L105.00,339.30 L105.25,339.10 L105.50,339.00 L105.75,338.95 L106.00,338.67 L106.25,338.55 L106.50,338.65 L106.75,338.40 L107.00,338.35 L107.25,338.06 L107.50,337.88 L107.75,337.75 L108.00,337.54 L108.25,337.48 L108.50,337.10 L108.75,336.72 L109.00,336.51 L109.25,336.20 L109.50,336.14 L109.75,335.76 L110.00,335.43 L110.25,335.48 L110.50,335.36 L110.75,334.66 L111.00,334.80 L111.25,334.44 L111.50,334.02 L111.75,333.83 L112.00,333.67 L112.25,333.80 L112.50,333.25 L112.75,333.21 L113.00,332.64 L113.25,332.64 L113.50,332.35 L113.75,331.88 L114.00,331.64 L114.25,331.54 L114.50,330.97 L114.75,330.94 L115.00,330.48 L115.25,330.41 L115.50,330.21 L115.75,329.98 L116.00,329.68 L116.25,329.33 L116.50,329.01 L116.75,328.70 L117.00,328.47 L117.25,328.22 L117.50,327.94 L117.75,327.77 L118.00,327.37 L118.25,326.95 L118.50,327.01 L118.75,326.52 L119.00,326.10 L119.25,325.92 L119.50,325.72 L119.75,325.45 L120.00,325.22 L120.25,325.18 L120.50,324.40 L120.75,324.54 L121.00,324.02 L121.25,323.64 L121.50,323.04 L121.75,323.02 L122.00,322.84 L122.25,322.26 L122.50,321.87 L122.75,321.57 L123.00,321.46 L123.25,321.11 L123.50,321.00 L123.75,320.34 L124.00,320.17 L124.25,319.50 L124.50,319.28 L124.75,319.10 L125.00,318.51 L125.25,318.25 L125.50,317.58 L125.75,317.24 L126.00,316.90 L126.25,316.42 L126.50,316.12 L126.75,316.01 L127.00,315.35 L127.25,315.03 L127.50,314.83 L127.75,314.19 L128.00,313.71 L128.25,313.20 L128.50,312.98 L128.75,312.49 L129.00,312.24 L129.25,311.85 L129.50,310.98 L129.75,311.06 L130.00,311.06 L130.25,310.61 L130.50,310.43 L130.75,310.09 L131.00,310.31 L131.25,309.86 L131.50,309.92 L131.75,309.73 L132.00,309.74 L132.25,309.48 L132.50,309.35 L132.75,309.43 L133.00,309.12 L133.25,309.13 L133.50,308.76 L133.75,308.94 L134.00,308.66 L134.25,308.62 L134.50,308.39 L134.75,307.87 L135.00,307.54 L135.25,307.88 L135.50,307.43 L135.75,307.18 L136.00,306.81 L136.25,306.50 L136.50,306.24 L136.75,305.91 L137.00,305.28 L137.25,304.52 L137.50,304.44 L137.75,303.88 L138.00,303.22 L138.25,302.58 L138.50,301.99 L138.75,301.76 L139.00,300.83 L139.25,300.41 L139.50,299.47 L139.75,298.89 L140.00,297.86 L140.25,297.02 L140.50,296.38 L140.75,295.34 L141.00,294.58 L141.25,294.04 L141.50,293.39 L141.75,292.36 L142.00,291.26 L142.25,290.49 L142.50,289.79 L142.75,288.84 L143.00,288.32 L143.25,287.32 L143.50,286.07 L143.75,285.51 L144.00,284.14 L144.25,283.24 L144.50,282.72 L144.75,281.48 L145.00,280.70 L145.25,280.19 L145.50,279.06 L145.75,278.50 L146.00,277.57 L146.25,276.57 L146.50,275.89 L146.75,275.10 L147.00,274.18 L147.25,273.03 L147.50,272.37 L147.75,270.92 L148.00,270.24 L148.25,269.29 L148.50,268.41 L148.75,267.44 L149.00,265.99 L149.25,265.06 L149.50,264.08 L149.75,262.98 L150.00,262.07 L150.25,261.09 L150.50,260.08 L150.75,258.90 L151.00,258.42 L151.25,256.74 L151.50,255.86 L151.75,255.11 L152.00,253.98 L152.25,252.96 L152.50,252.02 L152.75,250.78 L153.00,249.82 L153.25,248.97 L153.50,248.06 L153.75,246.65 L154.00,245.78 L154.25,244.88 L154.50,244.03 L154.75,242.69 L155.00,241.99 L155.25,240.69 L155.50,239.77 L155.75,238.50 L156.00,237.45 L156.25,235.83 L156.50,234.86 L156.75,233.57 L157.00,232.43 L157.25,231.73 L157.50,230.59 L157.75,230.05 L158.00,229.03 L158.25,228.31 L158.50,227.97 L158.75,227.63 L159.00,226.86 L159.25,226.11 L159.50,225.80 L159.75,225.30 L160.00,224.98 L160.25,225.04 L160.50,225.13 L160.75,225.26 L161.00,225.12 L161.25,225.70 L161.50,225.61 L161.75,225.63 L162.00,225.98 L162.25,226.37 L162.50,226.50 L162.75,227.00 L163.00,227.23 L163.25,227.98 L163.50,228.35 L163.75,228.83 L164.00,229.60 L164.25,229.96 L164.50,230.88 L164.75,231.93 L165.00,232.95 L165.25,234.04 L165.50,235.38 L165.75,236.43 L166.00,237.79 L166.25,238.94 L166.50,240.33 L166.75,241.38 L167.00,242.58 L167.25,243.99 L167.50,245.11 L167.75,246.67 L168.00,248.00 L168.25,249.24 L168.50,250.55 L168.75,251.77 L169.00,252.68 L169.25,253.92 L169.50,255.25 L169.75,256.09 L170.00,257.18 L170.25,258.27 L170.50,259.28 L170.75,259.94 L171.00,261.10 L171.25,262.13 L171.50,262.95 L171.75,264.01 L172.00,264.59 L172.25,265.73 L172.50,266.75 L172.75,267.42 L173.00,268.36 L173.25,269.28 L173.50,269.73 L173.75,270.91 L174.00,272.16 L174.25,272.81 L174.50,274.08 L174.75,275.16 L175.00,276.33 L175.25,277.19 L175.50,278.42 L175.75,279.37 L176.00,280.69 L176.25,281.43 L176.50,282.52 L176.75,283.71 L177.00,284.95 L177.25,285.77 L177.50,286.77 L177.75,287.73 L178.00,289.03 L178.25,289.82 L178.50,290.92 L178.75,291.95 L179.00,293.17 L179.25,293.87 L179.50,294.84 L179.75,295.95 L180.00,296.84 L180.25,297.50 L180.50,298.45 L180.75,299.31 L181.00,300.22 L181.25,300.87 L181.50,302.07 L181.75,302.58 L182.00,303.48 L182.25,304.10 L182.50,304.85 L182.75,305.69 L183.00,306.31 L183.25,306.88 L183.50,308.03 L183.75,308.69 L184.00,309.88 L184.25,310.45 L184.50,311.54 L184.75,312.46 L185.00,313.31 L185.25,314.27 L185.50,315.23 L185.75,316.18 L186.00,317.05 L186.25,317.85 L186.50,318.62 L186.75,319.00 L187.00,320.23 L187.25,320.80 L187.50,321.17 L187.75,321.88 L188.00,322.31 L188.25,322.79 L188.50,323.74 L188.75,324.62 L189.00,324.93 L189.25,325.44 L189.50,325.90 L189.75,326.43 L190.00,326.76 L190.25,327.04 L190.50,327.46 L190.75,328.02 L191.00,328.20 L191.25,328.32 L191.50,329.01 L191.75,329.28 L192.00,329.75 L192.25,329.87 L192.50,330.15 L192.75,330.44 L193.00,330.63 L193.25,331.08 L193.50,331.26 L193.75,331.47 L194.00,331.90 L194.25,332.21 L194.50,332.53 L194.75,332.85 L195.00,333.35 L195.25,333.24 L195.50,333.74 L195.75,333.80 L196.00,334.07 L196.25,334.42 L196.50,334.42 L196.75,334.78 L197.00,335.13 L197.25,335.05 L197.50,335.37 L197.75,335.68 L198.00,335.98 L198.25,336.33 L198.50,336.26 L198.75,336.89 L199.00,337.02 L199.25,337.24 L199.50,337.08 L199.75,337.65 L200.00,337.71 L200.25,338.16 L200.50,338.25 L200.75,338.42 L201.00,338.56 L201.25,338.87 L201.50,339.21 L201.75,339.07 L202.00,339.40 L202.25,339.67 L202.50,339.87 L202.75,340.02 L203.00,340.31 L203.25,340.48 L203.50,340.34 L203.75,340.99 L204.00,340.81 L204.25,341.38 L204.50,341.51 L204.75,341.30 L205.00,341.76 L205.25,342.12 L205.50,342.30 L205.75,342.28 L206.00,342.30 L206.25,342.76 L206.50,342.50 L206.75,342.65 L207.00,343.13 L207.25,342.97 L207.50,343.37 L207.75,343.25 L208.00,343.43 L208.25,343.82 L208.50,343.75 L208.75,343.97 L209.00,343.96 L209.25,344.03 L209.50,344.10 L209.75,344.18 L210.00,344.49 L210.25,344.60 L210.50,344.89 L210.75,344.79 L211.00,344.81 L211.25,345.02 L211.50,345.26 L211.75,344.93 L212.00,345.49 L212.25,345.22 L212.50,345.31 L212.75,345.91 L213.00,345.78 L213.25,345.63 L213.50,345.93 L213.75,346.08 L214.00,346.06 L214.25,346.21 L214.50,346.17 L214.75,346.27 L215.00,346.10 L215.25,346.19 L215.50,346.44 L215.75,346.28 L216.00,346.66 L216.25,346.61 L216.50,346.86 L216.75,346.88 L217.00,346.75 L217.25,346.47 L217.50,346.71 L217.75,346.99 L218.00,347.35 L218.25,347.10 L218.50,347.24 L218.75,347.19 L219.00,346.85 L219.25,347.38 L219.50,347.30 L219.75,347.16 L220.00,347.53 L220.25,347.46 L220.50,347.96 L220.75,347.23 L221.00,347.49 L221.25,347.66 L221.50,347.64 L221.75,347.84 L222.00,347.91 L222.25,347.90 L222.50,347.88 L222.75,347.80 L223.00,347.97 L223.25,348.12 L223.50,348.04 L223.75,347.74 L224.00,348.35 L224.25,348.05 L224.50,348.29 L224.75,348.12 L225.00,348.38 L225.25,348.20 L225.50,348.50 L225.75,348.49 L226.00,348.22 L226.25,347.90 L226.50,348.40 L226.75,348.22 L227.00,348.53 L227.25,348.44 L227.50,348.34 L227.75,348.26 L228.00,348.27 L228.25,348.62 L228.50,348.54 L228.75,348.36 L229.00,348.44 L229.25,348.52 L229.50,348.35 L229.75,348.10 L230.00,348.61 L230.25,348.31 L230.50,348.25 L230.75,348.34 L231.00,348.18 L231.25,348.15 L231.50,348.33 L231.75,348.18 L232.00,348.33 L232.25,348.31 L232.50,348.53 L232.75,348.18 L233.00,348.22 L233.25,348.09 L233.50,348.31 L233.75,348.15 L234.00,348.07 L234.25,348.22 L234.50,347.90 L234.75,347.81 L235.00,347.49 L235.25,347.35 L235.50,347.47 L235.75,347.50 L236.00,347.28 L236.25,347.27 L236.50,347.52 L236.75,347.34 L237.00,347.40 L237.25,347.52 L237.50,347.53 L237.75,347.97 L238.00,348.22 L238.25,348.34 L238.50,348.60 L238.75,348.26 L239.00,348.89 L239.25,348.91 L239.50,349.32 L239.75,349.17 L240.00,349.53 L240.25,349.80 L240.50,349.74 L240.75,349.79 L241.00,349.87 L241.25,350.09 L241.50,350.10 L241.75,350.07 L242.00,350.45 L242.25,350.72 L242.50,350.64 L242.75,350.85 L243.00,350.97 L243.25,350.90 L243.50,350.99 L243.75,350.98 L244.00,351.24 L244.25,351.39 L244.50,351.27 L244.75,351.47 L245.00,351.77 L245.25,351.62 L245.50,351.93 L245.75,351.98 L246.00,351.98 L246.25,352.26 L246.50,352.32 L246.75,352.32 L247.00,352.44 L247.25,352.58 L247.50,352.69 L247.75,352.78 L248.00,352.91 L248.25,352.82 L248.50,353.20 L248.75,353.04 L249.00,353.11 L249.25,353.41 L249.50,353.43 L249.75,353.07 L250.00,353.41 L250.25,353.59 L250.50,353.61 L250.75,353.33 L251.00,353.53 L251.25,353.56 L251.50,353.82 L251.75,353.90 L252.00,353.87 L252.25,353.85 L252.50,353.78 L252.75,354.10 L253.00,353.65 L253.25,354.11 L253.50,354.15 L253.75,354.15 L254.00,354.14 L254.25,354.21 L254.50,354.33 L254.75,354.17 L255.00,354.42 L255.25,354.36 L255.50,354.41 L255.75,354.05 L256.00,354.29 L256.25,354.50 L256.50,354.48 L256.75,354.77 L257.00,354.45 L257.25,354.91 L257.50,354.89 L257.75,354.85 L258.00,354.80 L258.25,354.74 L258.50,354.78 L258.75,354.91 L259.00,355.06 L259.25,355.21 L259.50,355.26 L259.75,355.36 L260.00,355.40 L260.25,355.19 L260.50,355.26 L260.75,355.55 L261.00,355.31 L261.25,355.63 L261.50,355.52 L261.75,355.35 L262.00,355.67 L262.25,355.67 L262.50,355.56 L262.75,355.36 L263.00,355.80 L263.25,355.86 L263.50,355.95 L263.75,355.92 L264.00,355.79 L264.25,355.67 L264.50,355.94 L264.75,356.13 L265.00,355.99 L265.25,355.85 L265.50,355.81 L265.75,355.69 L266.00,356.14 L266.25,356.20 L266.50,355.83 L266.75,356.09 L267.00,356.41 L267.25,355.90 L267.50,356.47 L267.75,356.44 L268.00,356.42 L268.25,356.38 L268.50,356.41 L268.75,356.45 L269.00,356.62 L269.25,356.22 L269.50,356.14 L269.75,356.13 L270.00,356.48 L270.25,356.62 L270.50,356.37 L270.75,356.56 L271.00,356.55 L271.25,356.71 L271.50,356.66 L271.75,356.63 L272.00,356.49 L272.25,356.54 L272.50,356.75 L272.75,356.66 L273.00,356.85 L273.25,356.57 L273.50,356.82 L273.75,356.67 L274.00,356.77 L274.25,356.47 L274.50,356.84 L274.75,356.62 L275.00,356.95 L275.25,356.91 L275.50,356.71 L275.75,357.04 L276.00,357.06 L276.25,357.11 L276.50,357.04 L276.75,356.82 L277.00,357.11 L277.25,356.72 L277.50,356.87 L277.75,356.98 L278.00,356.71 L278.25,357.14 L278.50,357.07 L278.75,356.97 L279.00,356.68 L279.25,356.92 L279.50,357.15 L279.75,357.14 L280.00,356.92 L280.25,356.88 L280.50,357.09 L280.75,356.92 L281.00,356.87 L281.25,357.34 L281.50,357.13 L281.75,357.20 L282.00,357.12 L282.25,357.31 L282.50,357.33 L282.75,357.17 L283.00,357.14 L283.25,357.16 L283.50,357.36 L283.75,357.26 L284.00,357.07 L284.25,357.46 L284.50,357.28 L284.75,357.36 L285.00,357.51 L285.25,357.39 L285.50,357.44 L285.75,357.32 L286.00,357.43 L286.25,357.49 L286.50,357.42 L286.75,357.36 L287.00,357.36 L287.25,357.36 L287.50,357.45 L287.75,357.35 L288.00,357.51 L288.25,357.37 L288.50,357.60 L288.75,357.48 L289.00,357.37 L289.25,357.54 L289.50,357.33 L289.75,357.95 L290.00,357.41 L290.25,357.50 L290.50,357.74 L290.75,357.46 L291.00,357.41 L291.25,357.41 L291.50,357.74 L291.75,357.41 L292.00,357.84 L292.25,357.69 L292.50,357.59 L292.75,357.78 L293.00,357.63 L293.25,357.59 L293.50,357.46 L293.75,357.44 L294.00,357.70 L294.25,357.37 L294.50,357.45 L294.75,357.46 L295.00,357.69 L295.25,357.50 L295.50,357.69 L295.75,358.10 L296.00,357.73 L296.25,358.00 L296.50,357.77 L296.75,357.59 L297.00,357.68 L297.25,357.67 L297.50,357.84 L297.75,357.89 L298.00,357.82 L298.25,357.74 L298.50,357.69 L298.75,357.76 L299.00,357.69 L299.25,357.72 L299.50,358.21 L299.75,357.98 L300.00,357.70 L300.25,357.87 L300.50,357.92 L300.75,357.87 L301.00,357.79 L301.25,357.95 L301.50,357.92 L301.75,357.98 L302.00,358.08 L302.25,357.84 L302.50,357.96 L302.75,357.87 L303.00,357.82 L303.25,357.87 L303.50,357.99 L303.75,357.88 L304.00,357.83 L304.25,357.87 L304.50,358.01 L304.75,358.20 L305.00,358.19 L305.25,357.77 L305.50,357.97 L305.75,358.11 L306.00,357.96 L306.25,358.01 L306.50,357.90 L306.75,358.07 L307.00,358.03 L307.25,357.93 L307.50,358.14 L307.75,358.22 L308.00,358.14 L308.25,357.91 L308.50,358.12 L308.75,358.20 L309.00,358.26 L309.25,358.28 L309.50,358.24 L309.75,358.08 L310.00,358.19 L310.25,358.22 L310.50,358.14 L310.75,358.18 L311.00,357.98 L311.25,358.19 L311.50,358.08 L311.75,358.13 L312.00,358.41 L312.25,358.19 L312.50,358.21 L312.75,358.08 L313.00,357.96 L313.25,358.00 L313.50,358.13 L313.75,358.15 L314.00,357.93 L314.25,358.10 L314.50,358.20 L314.75,358.09 L315.00,358.15 L315.25,358.23 L315.50,358.40 L315.75,358.27 L316.00,358.45 L316.25,358.03 L316.50,358.43 L316.75,358.22 L317.00,358.39 L317.25,358.54 L317.50,358.40 L317.75,358.32 L318.00,358.50 L318.25,358.20 L318.50,358.43 L318.75,358.34 L319.00,358.34 L319.25,358.20 L319.50,358.34 L319.75,358.35 L320.00,358.30 L320.25,358.36 L320.50,358.11 L320.75,358.45 L321.00,358.28 L321.25,358.36 L321.50,358.24 L321.75,358.28 L322.00,358.24 L322.25,358.53 L322.50,358.23 L322.75,358.24 L323.00,358.33 L323.25,358.18 L323.50,358.22 L323.75,358.40 L324.00,358.42 L324.25,358.49 L324.50,358.45 L324.75,358.26 L325.00,358.24 L325.25,358.55 L325.50,358.08 L325.75,358.43 L326.00,358.52 L326.25,358.60 L326.50,358.63 L326.75,358.59 L327.00,358.72 L327.25,358.18 L327.50,358.40 L327.75,358.50 L328.00,358.12 L328.25,358.35 L328.50,358.64 L328.75,358.38 L329.00,358.63 L329.25,358.58 L329.50,358.67 L329.75,358.62 L330.00,358.58 L330.25,358.61 L330.50,358.38 L330.75,358.77 L331.00,358.49 L331.25,358.41 L331.50,358.60 L331.75,358.33 L332.00,358.85 L332.25,358.90 L332.50,358.73 L332.75,358.42 L333.00,358.64 L333.25,358.62 L333.50,358.50 L333.75,358.54 L334.00,358.66 L334.25,358.52 L334.50,358.60 L334.75,358.62 L335.00,358.43 L335.25,358.57 L335.50,358.56 L335.75,358.87 L336.00,358.66 L336.25,358.71 L336.50,358.69 L336.75,358.65 L337.00,358.67 L337.25,358.65 L337.50,358.36 L337.75,358.68 L338.00,358.59 L338.25,358.64 L338.50,358.55 L338.75,358.56 L339.00,358.70 L339.25,358.64 L339.50,358.72 L339.75,358.75 L340.00,358.72 L340.25,358.75 L340.50,358.65 L340.75,358.71 L341.00,358.84 L341.25,358.73 L341.50,358.84 L341.75,358.77 L342.00,358.92 L342.25,358.63 L342.50,358.82 L342.75,358.91 L343.00,358.68 L343.25,358.82 L343.50,358.85 L343.75,358.79" fill="none" stroke="#000" stroke-width="4" stroke-linejoin="round" stroke-linecap="round" clip-path="url(#cb)" />
<path d="M68.50,370.17 L68.75,370.12 L69.00,370.07 L69.25,370.16 L69.50,370.12 L69.75,370.30 L70.00,369.95 L70.25,370.09 L70.50,370.07 L70.75,370.07 L71.00,369.90 L71.25,370.06 L71.50,370.01 L71.75,370.10 L72.00,369.96 L72.25,370.17 L72.50,370.03 L72.75,369.99 L73.00,370.05 L73.25,369.90 L73.50,369.93 L73.75,370.05 L74.00,369.98 L74.25,370.00 L74.50,369.81 L74.75,369.88 L75.00,369.85 L75.25,370.11 L75.50,369.96 L75.75,370.06 L76.00,369.94 L76.25,370.03 L76.50,369.90 L76.75,369.90 L77.00,369.92 L77.25,369.93 L77.50,369.76 L77.75,369.91 L78.00,369.83 L78.25,369.85 L78.50,369.87 L78.75,369.86 L79.00,369.88 L79.25,369.96 L79.50,369.96 L79.75,370.00 L80.00,369.81 L80.25,369.84 L80.50,369.82 L80.75,369.80 L81.00,369.88 L81.25,369.89 L81.50,369.81 L81.75,369.83 L82.00,369.91 L82.25,369.79 L82.50,369.88 L82.75,369.79 L83.00,369.82 L83.25,369.92 L83.50,369.73 L83.75,369.79 L84.00,369.86 L84.25,369.76 L84.50,369.85 L84.75,369.94 L85.00,369.84 L85.25,369.72 L85.50,369.65 L85.75,369.73 L86.00,369.66 L86.25,369.63 L86.50,369.74 L86.75,369.73 L87.00,369.54 L87.25,369.62 L87.50,369.57 L87.75,369.70 L88.00,369.67 L88.25,369.71 L88.50,369.62 L88.75,369.66 L89.00,369.66 L89.25,369.60 L89.50,369.66 L89.75,369.44 L90.00,369.66 L90.25,369.46 L90.50,369.53 L90.75,369.57 L91.00,369.55 L91.25,369.42 L91.50,369.53 L91.75,369.34 L92.00,369.49 L92.25,369.46 L92.50,369.61 L92.75,369.46 L93.00,369.41 L93.25,369.41 L93.50,369.39 L93.75,369.44 L94.00,369.45 L94.25,369.55 L94.50,369.32 L94.75,369.45 L95.00,369.29 L95.25,369.37 L95.50,369.47 L95.75,369.47 L96.00,369.43 L96.25,369.31 L96.50,369.42 L96.75,369.46 L97.00,369.22 L97.25,369.28 L97.50,369.32 L97.75,369.32 L98.00,369.32 L98.25,369.27 L98.50,369.22 L98.75,369.31 L99.00,369.20 L99.25,369.23 L99.50,369.27 L99.75,369.26 L100.00,369.29 L100.25,369.28 L100.50,369.25 L100.75,369.31 L101.00,369.07 L101.25,369.18 L101.50,369.17 L101.75,369.13 L102.00,369.14 L102.25,369.16 L102.50,369.09 L102.75,369.27 L103.00,369.25 L103.25,369.05 L103.50,369.15 L103.75,369.13 L104.00,369.07 L104.25,369.03 L104.50,369.07 L104.75,369.03 L105.00,368.96 L105.25,369.06 L105.50,369.00 L105.75,369.06 L106.00,368.86 L106.25,368.88 L106.50,368.69 L106.75,368.89 L107.00,368.82 L107.25,368.94 L107.50,368.96 L107.75,368.88 L108.00,368.93 L108.25,368.79 L108.50,368.73 L108.75,368.93 L109.00,368.88 L109.25,368.85 L109.50,368.75 L109.75,368.84 L110.00,368.80 L110.25,368.94 L110.50,368.51 L110.75,368.61 L111.00,368.76 L111.25,368.74 L111.50,368.69 L111.75,368.64 L112.00,368.59 L112.25,368.75 L112.50,368.70 L112.75,368.62 L113.00,368.61 L113.25,368.70 L113.50,368.47 L113.75,368.44 L114.00,368.51 L114.25,368.42 L114.50,368.55 L114.75,368.53 L115.00,368.51 L115.25,368.42 L115.50,368.37 L115.75,368.44 L116.00,368.22 L116.25,368.25 L116.50,368.27 L116.75,368.23 L117.00,368.32 L117.25,368.21 L117.50,368.34 L117.75,368.26 L118.00,368.12 L118.25,368.04 L118.50,368.36 L118.75,368.22 L119.00,368.21 L119.25,368.12 L119.50,368.06 L119.75,368.22 L120.00,368.01 L120.25,368.05 L120.50,368.06 L120.75,367.97 L121.00,367.98 L121.25,367.96 L121.50,367.94 L121.75,368.08 L122.00,367.94 L122.25,367.99 L122.50,367.82 L122.75,367.82 L123.00,367.79 L123.25,367.69 L123.50,367.79 L123.75,367.65 L124.00,367.64 L124.25,367.71 L124.50,367.71 L124.75,367.59 L125.00,367.64 L125.25,367.69 L125.50,367.68 L125.75,367.61 L126.00,367.48 L126.25,367.58 L126.50,367.42 L126.75,367.39 L127.00,367.45 L127.25,367.37 L127.50,367.35 L127.75,367.21 L128.00,367.22 L128.25,367.23 L128.50,367.21 L128.75,367.18 L129.00,366.95 L129.25,367.23 L129.50,367.08 L129.75,366.91 L130.00,367.03 L130.25,366.89 L130.50,366.83 L130.75,366.95 L131.00,366.69 L131.25,366.65 L131.50,366.62 L131.75,366.60 L132.00,366.85 L132.25,366.51 L132.50,366.41 L132.75,366.45 L133.00,366.44 L133.25,366.42 L133.50,366.19 L133.75,366.35 L134.00,366.14 L134.25,365.98 L134.50,365.90 L134.75,365.92 L135.00,365.80 L135.25,365.67 L135.50,365.61 L135.75,365.68 L136.00,365.47 L136.25,365.16 L136.50,364.96 L136.75,364.89 L137.00,364.51 L137.25,364.20 L137.50,364.01 L137.75,363.69 L138.00,363.38 L138.25,363.16 L138.50,362.77 L138.75,362.45 L139.00,362.13 L139.25,361.67 L139.50,361.18 L139.75,360.77 L140.00,360.37 L140.25,359.61 L140.50,358.92 L140.75,358.28 L141.00,357.35 L141.25,356.47 L141.50,355.62 L141.75,354.58 L142.00,353.49 L142.25,352.40 L142.50,351.36 L142.75,350.07 L143.00,348.59 L143.25,347.02 L143.50,345.41 L143.75,343.25 L144.00,341.12 L144.25,338.80 L144.50,336.28 L144.75,333.52 L145.00,330.15 L145.25,326.81 L145.50,323.46 L145.75,319.95 L146.00,316.68 L146.25,313.07 L146.50,309.43 L146.75,305.50 L147.00,301.19 L147.25,296.66 L147.50,291.65 L147.75,286.32 L148.00,281.00 L148.25,275.49 L148.50,269.84 L148.75,264.27 L149.00,259.04 L149.25,254.08 L149.50,249.34 L149.75,244.69 L150.00,239.99 L150.25,235.51 L150.50,231.43 L150.75,226.12 L151.00,218.79 L151.25,209.85 L151.50,202.28 L151.75,195.11 L152.00,187.72 L152.25,180.67 L152.50,174.18 L152.75,168.66 L153.00,164.02 L153.25,161.06 L153.50,160.06 L153.75,161.21 L154.00,164.46 L154.25,169.39 L154.50,175.84 L154.75,182.80 L155.00,190.53 L155.25,197.90 L155.50,204.96 L155.75,212.33 L156.00,220.53 L156.25,228.49 L156.50,235.83 L156.75,243.02 L157.00,249.87 L157.25,255.79 L157.50,260.58 L157.75,264.56 L158.00,268.09 L158.25,271.17 L158.50,274.16 L158.75,277.00 L159.00,280.05 L159.25,282.67 L159.50,285.79 L159.75,288.34 L160.00,290.93 L160.25,293.56 L160.50,296.02 L160.75,298.48 L161.00,301.01 L161.25,303.53 L161.50,305.85 L161.75,308.23 L162.00,309.89 L162.25,311.66 L162.50,313.05 L162.75,314.27 L163.00,315.64 L163.25,316.85 L163.50,317.77 L163.75,319.10 L164.00,320.20 L164.25,321.36 L164.50,322.30 L164.75,323.52 L165.00,324.51 L165.25,325.29 L165.50,325.94 L165.75,326.63 L166.00,327.33 L166.25,327.91 L166.50,328.41 L166.75,328.97 L167.00,329.45 L167.25,330.03 L167.50,330.57 L167.75,330.85 L168.00,330.96 L168.25,331.12 L168.50,331.35 L168.75,331.46 L169.00,331.63 L169.25,331.66 L169.50,331.69 L169.75,331.84 L170.00,331.99 L170.25,331.90 L170.50,332.06 L170.75,331.70 L171.00,331.39 L171.25,330.89 L171.50,330.18 L171.75,329.51 L172.00,328.65 L172.25,327.86 L172.50,327.12 L172.75,326.05 L173.00,325.13 L173.25,324.23 L173.50,322.87 L173.75,321.60 L174.00,320.38 L174.25,319.11 L174.50,317.99 L174.75,316.76 L175.00,315.41 L175.25,314.05 L175.50,312.61 L175.75,311.41 L176.00,310.32 L176.25,309.22 L176.50,308.41 L176.75,307.70 L177.00,306.80 L177.25,306.34 L177.50,305.76 L177.75,305.55 L178.00,305.71 L178.25,306.28 L178.50,306.63 L178.75,307.50 L179.00,308.34 L179.25,309.36 L179.50,310.30 L179.75,311.56 L180.00,313.05 L180.25,314.62 L180.50,316.37 L180.75,318.21 L181.00,319.99 L181.25,321.87 L181.50,323.86 L181.75,326.14 L182.00,328.41 L182.25,330.84 L182.50,333.50 L182.75,336.46 L183.00,339.51 L183.25,342.86 L183.50,345.85 L183.75,349.08 L184.00,351.84 L184.25,354.01 L184.50,355.71 L184.75,357.00 L185.00,358.09 L185.25,359.00 L185.50,359.78 L185.75,360.24 L186.00,361.27 L186.25,361.64 L186.50,362.21 L186.75,362.84 L187.00,363.26 L187.25,363.77 L187.50,364.25 L187.75,364.67 L188.00,365.03 L188.25,365.42 L188.50,365.73 L188.75,365.93 L189.00,366.21 L189.25,366.33 L189.50,366.61 L189.75,366.58 L190.00,366.71 L190.25,366.89 L190.50,367.12 L190.75,367.16 L191.00,367.30 L191.25,367.54 L191.50,367.68 L191.75,367.84 L192.00,367.86 L192.25,367.93 L192.50,368.02 L192.75,367.98 L193.00,368.18 L193.25,368.24 L193.50,368.42 L193.75,368.46 L194.00,368.42 L194.25,368.55 L194.50,368.69 L194.75,368.72 L195.00,368.73 L195.25,368.90 L195.50,368.74 L195.75,368.99 L196.00,368.93 L196.25,368.92 L196.50,369.05 L196.75,369.21 L197.00,369.03 L197.25,369.17 L197.50,369.21 L197.75,369.20 L198.00,369.23 L198.25,369.27 L198.50,369.31 L198.75,369.42 L199.00,369.09 L199.25,369.34 L199.50,369.40 L199.75,369.20 L200.00,369.40 L200.25,369.44 L200.50,369.34 L200.75,369.40 L201.00,369.34 L201.25,369.30 L201.50,369.36 L201.75,369.36 L202.00,369.50 L202.25,369.38 L202.50,369.49 L202.75,369.52 L203.00,369.55 L203.25,369.47 L203.50,369.51 L203.75,369.42 L204.00,369.41 L204.25,369.62 L204.50,369.59 L204.75,369.43 L205.00,369.45 L205.25,369.66 L205.50,369.56 L205.75,369.63 L206.00,369.67 L206.25,369.54 L206.50,369.64 L206.75,369.48 L207.00,369.57 L207.25,369.65 L207.50,369.70 L207.75,369.60 L208.00,369.65 L208.25,369.55 L208.50,369.69 L208.75,369.52 L209.00,369.60 L209.25,369.63 L209.50,369.57 L209.75,369.60 L210.00,369.63 L210.25,369.74 L210.50,369.72 L210.75,369.70 L211.00,369.71 L211.25,369.72 L211.50,369.62 L211.75,369.67 L212.00,369.69 L212.25,369.77 L212.50,369.74 L212.75,369.76 L213.00,369.63 L213.25,369.86 L213.50,369.69 L213.75,369.66 L214.00,369.75 L214.25,369.77 L214.50,369.74 L214.75,369.88 L215.00,369.72 L215.25,369.73 L215.50,369.67 L215.75,369.89 L216.00,369.76 L216.25,369.76 L216.50,369.65 L216.75,369.73 L217.00,369.76 L217.25,369.84 L217.50,369.89 L217.75,369.91 L218.00,369.76 L218.25,369.84 L218.50,369.95 L218.75,369.89 L219.00,369.91 L219.25,369.95 L219.50,369.89 L219.75,369.86 L220.00,370.06 L220.25,369.75 L220.50,369.89 L220.75,369.93 L221.00,369.89 L221.25,369.88 L221.50,369.86 L221.75,369.98 L222.00,369.75 L222.25,369.81 L222.50,369.79 L222.75,369.85 L223.00,369.86 L223.25,369.94 L223.50,369.99 L223.75,369.85 L224.00,369.92 L224.25,370.09 L224.50,369.99 L224.75,369.80 L225.00,369.99 L225.25,369.94 L225.50,369.94 L225.75,369.97 L226.00,370.01 L226.25,369.97 L226.50,370.03 L226.75,369.98 L227.00,370.03 L227.25,370.01 L227.50,369.90 L227.75,369.85 L228.00,370.12 L228.25,369.90 L228.50,369.89 L228.75,370.06 L229.00,370.07 L229.25,369.97 L229.50,370.09 L229.75,369.95 L230.00,369.96 L230.25,369.89 L230.50,370.16 L230.75,370.01 L231.00,370.06 L231.25,369.88 L231.50,370.05 L231.75,369.87 L232.00,369.96 L232.25,370.07 L232.50,370.13 L232.75,370.15 L233.00,370.02 L233.25,369.92 L233.50,370.06 L233.75,370.00 L234.00,370.09 L234.25,370.07 L234.50,370.18 L234.75,370.09 L235.00,370.03 L235.25,370.08 L235.50,370.02 L235.75,370.01 L236.00,370.00 L236.25,370.03 L236.50,370.01 L236.75,370.06 L237.00,369.94 L237.25,370.02 L237.50,370.11 L237.75,370.00 L238.00,369.98 L238.25,370.21 L238.50,370.03 L238.75,370.21 L239.00,370.07 L239.25,370.12 L239.50,370.15 L239.75,370.03 L240.00,370.02 L240.25,370.09 L240.50,370.08 L240.75,370.15 L241.00,370.05 L241.25,370.04 L241.50,370.11 L241.75,370.04 L242.00,370.02 L242.25,370.12 L242.50,370.07 L242.75,370.00 L243.00,370.17 L243.25,370.09 L243.50,369.93 L243.75,370.05 L244.00,370.19 L244.25,370.11 L244.50,370.06 L244.75,370.13 L245.00,370.06 L245.25,370.09 L245.50,370.15 L245.75,370.05 L246.00,370.27 L246.25,369.92 L246.50,370.00 L246.75,370.20 L247.00,370.16 L247.25,370.28 L247.50,370.19 L247.75,370.23 L248.00,370.20 L248.25,370.13 L248.50,370.00 L248.75,370.12 L249.00,370.18 L249.25,370.17 L249.50,370.08 L249.75,370.23 L250.00,370.12 L250.25,370.08 L250.50,370.17 L250.75,370.16 L251.00,370.07 L251.25,370.09 L251.50,370.18 L251.75,370.31 L252.00,369.98 L252.25,369.99 L252.50,370.12 L252.75,370.15 L253.00,370.25 L253.25,370.06 L253.50,370.21 L253.75,370.22 L254.00,370.27 L254.25,370.15 L254.50,370.13 L254.75,370.18 L255.00,370.16 L255.25,370.17 L255.50,370.17 L255.75,370.27 L256.00,370.19 L256.25,370.20 L256.50,370.27 L256.75,370.20 L257.00,370.24 L257.25,370.11 L257.50,370.24 L257.75,370.24 L258.00,370.18 L258.25,370.19 L258.50,370.17 L258.75,370.34 L259.00,370.23 L259.25,370.19 L259.50,370.20 L259.75,370.18 L260.00,370.27 L260.25,370.27 L260.50,370.19 L260.75,370.20 L261.00,370.28 L261.25,370.17 L261.50,370.38 L261.75,370.28 L262.00,370.23 L262.25,370.29 L262.50,370.13 L262.75,370.32 L263.00,370.23 L263.25,370.36 L263.50,370.36 L263.75,370.23 L264.00,370.41 L264.25,370.27 L264.50,370.27 L264.75,370.38 L265.00,370.38 L265.25,370.25 L265.50,370.32 L265.75,370.26 L266.00,370.24 L266.25,370.26 L266.50,370.35 L266.75,370.18 L267.00,370.34 L267.25,370.26 L267.50,370.30 L267.75,370.42 L268.00,370.36 L268.25,370.30 L268.50,370.47 L268.75,370.21 L269.00,370.34 L269.25,370.41 L269.50,370.24 L269.75,370.38 L270.00,370.33 L270.25,370.48 L270.50,370.42 L270.75,370.40 L271.00,370.24 L271.25,370.34 L271.50,370.49 L271.75,370.43 L272.00,370.31 L272.25,370.35 L272.50,370.23 L272.75,370.38 L273.00,370.30 L273.25,370.26 L273.50,370.30 L273.75,370.44 L274.00,370.26 L274.25,370.16 L274.50,370.56 L274.75,370.35 L275.00,370.36 L275.25,370.30 L275.50,370.49 L275.75,370.45 L276.00,370.46 L276.25,370.44 L276.50,370.48 L276.75,370.44 L277.00,370.40 L277.25,370.49 L277.50,370.43 L277.75,370.37 L278.00,370.45 L278.25,370.27 L278.50,370.44 L278.75,370.37 L279.00,370.31 L279.25,370.48 L279.50,370.59 L279.75,370.54 L280.00,370.49 L280.25,370.38 L280.50,370.33 L280.75,370.42 L281.00,370.39 L281.25,370.47 L281.50,370.59 L281.75,370.52 L282.00,370.48 L282.25,370.49 L282.50,370.34 L282.75,370.52 L283.00,370.48 L283.25,370.41 L283.50,370.46 L283.75,370.46 L284.00,370.52 L284.25,370.44 L284.50,370.57 L284.75,370.48 L285.00,370.44 L285.25,370.60 L285.50,370.47 L285.75,370.49 L286.00,370.41 L286.25,370.59 L286.50,370.49 L286.75,370.54 L287.00,370.48 L287.25,370.52 L287.50,370.40 L287.75,370.47 L288.00,370.41 L288.25,370.49 L288.50,370.57 L288.75,370.47 L289.00,370.51 L289.25,370.53 L289.50,370.65 L289.75,370.59 L290.00,370.40 L290.25,370.63 L290.50,370.39 L290.75,370.41 L291.00,370.55 L291.25,370.66 L291.50,370.47 L291.75,370.44 L292.00,370.51 L292.25,370.55 L292.50,370.65 L292.75,370.55 L293.00,370.52 L293.25,370.52 L293.50,370.56 L293.75,370.59 L294.00,370.48 L294.25,370.54 L294.50,370.62 L294.75,370.74 L295.00,370.60 L295.25,370.39 L295.50,370.52 L295.75,370.60 L296.00,370.54 L296.25,370.67 L296.50,370.55 L296.75,370.62 L297.00,370.62 L297.25,370.54 L297.50,370.54 L297.75,370.56 L298.00,370.50 L298.25,370.59 L298.50,370.53 L298.75,370.59 L299.00,370.51 L299.25,370.72 L299.50,370.64 L299.75,370.71 L300.00,370.55 L300.25,370.57 L300.50,370.64 L300.75,370.63 L301.00,370.63 L301.25,370.67 L301.50,370.65 L301.75,370.70 L302.00,370.57 L302.25,370.70 L302.50,370.34 L302.75,370.65 L303.00,370.60 L303.25,370.59 L303.50,370.62 L303.75,370.62 L304.00,370.66 L304.25,370.55 L304.50,370.59 L304.75,370.66 L305.00,370.60 L305.25,370.60 L305.50,370.68 L305.75,370.66 L306.00,370.60 L306.25,370.58 L306.50,370.69 L306.75,370.71 L307.00,370.70 L307.25,370.69 L307.50,370.63 L307.75,370.59 L308.00,370.65 L308.25,370.65 L308.50,370.61 L308.75,370.68 L309.00,370.89 L309.25,370.62 L309.50,370.64 L309.75,370.72 L310.00,370.61 L310.25,370.64 L310.50,370.64 L310.75,370.67 L311.00,370.74 L311.25,370.72 L311.50,370.56 L311.75,370.65 L312.00,370.60 L312.25,370.71 L312.50,370.64 L312.75,370.77 L313.00,370.84 L313.25,370.66 L313.50,370.70 L313.75,370.75 L314.00,370.64 L314.25,370.58 L314.50,370.73 L314.75,370.72 L315.00,370.55 L315.25,370.69 L315.50,370.66 L315.75,370.65 L316.00,370.70 L316.25,370.59 L316.50,370.59 L316.75,370.80 L317.00,370.76 L317.25,370.70 L317.50,370.72 L317.75,370.73 L318.00,370.71 L318.25,370.90 L318.50,370.67 L318.75,370.76 L319.00,370.63 L319.25,370.77 L319.50,370.86 L319.75,370.72 L320.00,370.66 L320.25,370.60 L320.50,370.81 L320.75,370.67 L321.00,370.75 L321.25,370.78 L321.50,370.66 L321.75,370.74 L322.00,370.84 L322.25,370.67 L322.50,370.71 L322.75,370.74 L323.00,370.61 L323.25,370.71 L323.50,370.81 L323.75,370.90 L324.00,370.67 L324.25,370.75 L324.50,370.77 L324.75,370.72 L325.00,370.70 L325.25,370.73 L325.50,370.72 L325.75,370.69 L326.00,370.73 L326.25,370.74 L326.50,370.58 L326.75,370.77 L327.00,370.74 L327.25,370.76 L327.50,370.60 L327.75,370.91 L328.00,370.76 L328.25,370.63 L328.50,370.85 L328.75,370.81 L329.00,370.72 L329.25,370.86 L329.50,370.81 L329.75,370.69 L330.00,370.72 L330.25,370.80 L330.50,370.90 L330.75,370.74 L331.00,370.88 L331.25,370.79 L331.50,370.72 L331.75,370.88 L332.00,370.70 L332.25,370.76 L332.50,370.61 L332.75,370.75 L333.00,370.84 L333.25,370.68 L333.50,370.66 L333.75,370.90 L334.00,370.83 L334.25,370.72 L334.50,370.78 L334.75,370.94 L335.00,370.69 L335.25,370.86 L335.50,370.83 L335.75,370.81 L336.00,370.78 L336.25,370.85 L336.50,370.71 L336.75,370.80 L337.00,370.90 L337.25,370.78 L337.50,370.80 L337.75,370.86 L338.00,370.66 L338.25,370.63 L338.50,370.90 L338.75,370.82 L339.00,370.83 L339.25,370.76 L339.50,370.80 L339.75,370.86 L340.00,370.79 L340.25,370.75 L340.50,370.73 L340.75,370.68 L341.00,370.60 L341.25,370.76 L341.50,370.76 L341.75,370.99 L342.00,370.75 L342.25,370.71 L342.50,370.95 L342.75,370.74 L343.00,370.77 L343.25,370.88 L343.50,370.88 L343.75,370.88" fill="none" stroke="#00ff00" stroke-width="1.8" stroke-linejoin="round" stroke-linecap="round" clip-path="url(#cb)" />
<path d="M125.3,273.2 L129.1,273.2 L129.1,295.2 L132.6,295.2 L127.1,306 L121.6,295.2 L125.3,295.2 Z" fill="#00ffff"/>
<path d="M234.8,305.5 L238.3,305.5 L238.3,330.5 L241.7,330.5 L236.5,339.6 L231.5,330.5 L234.8,330.5 Z" fill="#ff7f00"/>
<rect x="67.9" y="205.9" width="276.30" height="172.80" fill="none" stroke="#000" stroke-width="2"/>
<line x1="67.90" y1="373.30" x2="75.90" y2="373.30" stroke="#000" stroke-width="2" stroke-linecap="butt"/>
<line x1="344.20" y1="373.30" x2="336.20" y2="373.30" stroke="#000" stroke-width="2" stroke-linecap="butt"/>
<line x1="67.90" y1="311.30" x2="75.90" y2="311.30" stroke="#000" stroke-width="2" stroke-linecap="butt"/>
<line x1="344.20" y1="311.30" x2="336.20" y2="311.30" stroke="#000" stroke-width="2" stroke-linecap="butt"/>
<line x1="67.90" y1="249.30" x2="75.90" y2="249.30" stroke="#000" stroke-width="2" stroke-linecap="butt"/>
<line x1="344.20" y1="249.30" x2="336.20" y2="249.30" stroke="#000" stroke-width="2" stroke-linecap="butt"/>
<line x1="67.90" y1="342.30" x2="72.40" y2="342.30" stroke="#000" stroke-width="2" stroke-linecap="butt"/>
<line x1="344.20" y1="342.30" x2="339.70" y2="342.30" stroke="#000" stroke-width="2" stroke-linecap="butt"/>
<line x1="67.90" y1="280.30" x2="72.40" y2="280.30" stroke="#000" stroke-width="2" stroke-linecap="butt"/>
<line x1="344.20" y1="280.30" x2="339.70" y2="280.30" stroke="#000" stroke-width="2" stroke-linecap="butt"/>
<line x1="67.90" y1="218.30" x2="72.40" y2="218.30" stroke="#000" stroke-width="2" stroke-linecap="butt"/>
<line x1="344.20" y1="218.30" x2="339.70" y2="218.30" stroke="#000" stroke-width="2" stroke-linecap="butt"/>
<line x1="143.30" y1="378.70" x2="143.30" y2="370.70" stroke="#000" stroke-width="2" stroke-linecap="butt"/>
<line x1="143.30" y1="205.90" x2="143.30" y2="213.90" stroke="#000" stroke-width="2" stroke-linecap="butt"/>
<line x1="268.80" y1="378.70" x2="268.80" y2="370.70" stroke="#000" stroke-width="2" stroke-linecap="butt"/>
<line x1="268.80" y1="205.90" x2="268.80" y2="213.90" stroke="#000" stroke-width="2" stroke-linecap="butt"/>
<line x1="80.55" y1="378.70" x2="80.55" y2="374.20" stroke="#000" stroke-width="2" stroke-linecap="butt"/>
<line x1="80.55" y1="205.90" x2="80.55" y2="210.40" stroke="#000" stroke-width="2" stroke-linecap="butt"/>
<line x1="206.05" y1="378.70" x2="206.05" y2="374.20" stroke="#000" stroke-width="2" stroke-linecap="butt"/>
<line x1="206.05" y1="205.90" x2="206.05" y2="210.40" stroke="#000" stroke-width="2" stroke-linecap="butt"/>
<line x1="331.55" y1="378.70" x2="331.55" y2="374.20" stroke="#000" stroke-width="2" stroke-linecap="butt"/>
<line x1="331.55" y1="205.90" x2="331.55" y2="210.40" stroke="#000" stroke-width="2" stroke-linecap="butt"/>
<text x="59.60" y="379.10" font-size="17.5" text-anchor="end" font-family="Liberation Serif" font-weight="normal" fill="#000" >0</text>
<text x="59.60" y="317.10" font-size="17.5" text-anchor="end" font-family="Liberation Serif" font-weight="normal" fill="#000" >1E4</text>
<text x="59.60" y="255.10" font-size="17.5" text-anchor="end" font-family="Liberation Serif" font-weight="normal" fill="#000" >2E4</text>
<text x="143.30" y="400.50" font-size="17" text-anchor="middle" font-family="Liberation Serif" font-weight="normal" fill="#000" >7.0</text>
<text x="268.80" y="400.50" font-size="17" text-anchor="middle" font-family="Liberation Serif" font-weight="normal" fill="#000" >7.5</text>
<text x="79.80" y="223.20" font-size="12" text-anchor="start" font-family="Liberation Sans" font-weight="normal" fill="#000" >(b)</text>
<line x1="260.30" y1="228.90" x2="283.20" y2="228.90" stroke="#000" stroke-width="4" stroke-linecap="round"/>
<text x="287.50" y="232.10" font-size="10.7" text-anchor="start" font-family="Liberation Serif" font-weight="normal" fill="#1a1a1a" stroke="#1a1a1a" stroke-width="0.3">4h PZ-PT</text>
<line x1="260.00" y1="242.40" x2="284.20" y2="242.40" stroke="#00ff00" stroke-width="2.0" stroke-linecap="round"/>
<text x="287.50" y="245.60" font-size="10.7" text-anchor="start" font-family="Liberation Serif" font-weight="normal" fill="#1a1a1a" stroke="#1a1a1a" stroke-width="0.3">PZT</text>
<line x1="260.00" y1="255.60" x2="284.20" y2="255.60" stroke="#ff7f00" stroke-width="2.0" stroke-linecap="round"/>
<text x="287.50" y="258.80" font-size="10.7" text-anchor="start" font-family="Liberation Serif" font-weight="normal" fill="#1a1a1a" stroke="#1a1a1a" stroke-width="0.3">PT</text>
<line x1="260.00" y1="268.80" x2="284.20" y2="268.80" stroke="#00ffff" stroke-width="2.0" stroke-linecap="round"/>
<text x="287.50" y="272.00" font-size="10.7" text-anchor="start" font-family="Liberation Serif" font-weight="normal" fill="#1a1a1a" stroke="#1a1a1a" stroke-width="0.3">PZ</text>
<path d="M68.50,557.02 L68.80,556.70 L69.10,556.75 L69.40,556.78 L69.70,556.99 L70.00,556.81 L70.30,557.07 L70.60,556.90 L70.90,556.90 L71.20,556.39 L71.50,556.86 L71.80,556.61 L72.10,556.99 L72.40,556.77 L72.70,556.94 L73.00,556.92 L73.30,556.67 L73.60,556.63 L73.90,556.98 L74.20,557.03 L74.50,556.59 L74.80,556.42 L75.10,556.91 L75.40,556.44 L75.70,556.71 L76.00,556.30 L76.30,556.92 L76.60,556.77 L76.90,556.61 L77.20,556.43 L77.50,556.12 L77.80,556.65 L78.10,556.79 L78.40,556.69 L78.70,556.38 L79.00,556.78 L79.30,556.69 L79.60,556.30 L79.90,556.27 L80.20,556.41 L80.50,556.84 L80.80,556.46 L81.10,556.93 L81.40,556.82 L81.70,556.22 L82.00,556.50 L82.30,557.21 L82.60,556.54 L82.90,556.67 L83.20,556.59 L83.50,556.46 L83.80,556.36 L84.10,556.55 L84.40,556.57 L84.70,556.60 L85.00,556.64 L85.30,556.24 L85.60,556.26 L85.90,556.60 L86.20,556.47 L86.50,556.04 L86.80,556.22 L87.10,556.88 L87.40,556.33 L87.70,556.33 L88.00,556.45 L88.30,556.47 L88.60,556.08 L88.90,556.21 L89.20,556.65 L89.50,556.14 L89.80,556.34 L90.10,556.61 L90.40,556.29 L90.70,556.28 L91.00,556.11 L91.30,556.13 L91.60,556.50 L91.90,556.38 L92.20,556.31 L92.50,556.15 L92.80,556.57 L93.10,556.58 L93.40,556.25 L93.70,556.04 L94.00,555.98 L94.30,556.65 L94.60,556.70 L94.90,556.04 L95.20,556.20 L95.50,555.75 L95.80,555.98 L96.10,556.52 L96.40,556.28 L96.70,556.28 L97.00,556.04 L97.30,555.89 L97.60,556.02 L97.90,556.30 L98.20,556.15 L98.50,556.19 L98.80,556.18 L99.10,555.89 L99.40,556.05 L99.70,555.84 L100.00,555.80 L100.30,556.10 L100.60,555.72 L100.90,556.28 L101.20,556.02 L101.50,555.69 L101.80,555.84 L102.10,555.73 L102.40,556.13 L102.70,556.04 L103.00,555.93 L103.30,556.25 L103.60,555.91 L103.90,555.85 L104.20,555.70 L104.50,555.64 L104.80,555.95 L105.10,556.03 L105.40,555.84 L105.70,555.91 L106.00,555.85 L106.30,556.18 L106.60,555.87 L106.90,556.05 L107.20,555.78 L107.50,555.63 L107.80,555.48 L108.10,555.57 L108.40,555.86 L108.70,555.57 L109.00,555.98 L109.30,555.67 L109.60,555.37 L109.90,555.77 L110.20,555.63 L110.50,556.10 L110.80,555.85 L111.10,555.50 L111.40,555.71 L111.70,555.40 L112.00,555.37 L112.30,555.66 L112.60,555.77 L112.90,555.55 L113.20,555.88 L113.50,555.27 L113.80,555.74 L114.10,555.67 L114.40,555.31 L114.70,555.69 L115.00,555.53 L115.30,555.82 L115.60,555.26 L115.90,555.70 L116.20,555.50 L116.50,555.85 L116.80,556.05 L117.10,555.45 L117.40,555.46 L117.70,555.49 L118.00,555.48 L118.30,555.69 L118.60,555.36 L118.90,555.31 L119.20,555.44 L119.50,555.44 L119.80,555.72 L120.10,555.30 L120.40,555.28 L120.70,555.51 L121.00,555.48 L121.30,555.16 L121.60,555.28 L121.90,555.06 L122.20,555.47 L122.50,555.14 L122.80,555.15 L123.10,555.19 L123.40,555.08 L123.70,555.25 L124.00,555.41 L124.30,555.27 L124.60,555.62 L124.90,555.21 L125.20,554.83 L125.50,555.14 L125.80,555.01 L126.10,555.30 L126.40,555.05 L126.70,555.15 L127.00,554.78 L127.30,554.90 L127.60,555.05 L127.90,554.93 L128.20,554.98 L128.50,555.28 L128.80,554.68 L129.10,554.65 L129.40,555.13 L129.70,554.87 L130.00,554.65 L130.30,554.83 L130.60,554.89 L130.90,554.51 L131.20,554.79 L131.50,554.53 L131.80,554.78 L132.10,554.00 L132.40,554.76 L132.70,554.30 L133.00,554.50 L133.30,554.08 L133.60,554.23 L133.90,554.28 L134.20,554.01 L134.50,553.84 L134.80,553.70 L135.10,553.62 L135.40,553.85 L135.70,553.42 L136.00,553.67 L136.30,553.46 L136.60,553.32 L136.90,553.15 L137.20,553.11 L137.50,552.71 L137.80,553.16 L138.10,552.85 L138.40,553.10 L138.70,552.61 L139.00,552.52 L139.30,552.58 L139.60,552.42 L139.90,552.18 L140.20,551.92 L140.50,552.06 L140.80,552.02 L141.10,552.20 L141.40,552.12 L141.70,551.67 L142.00,551.94 L142.30,551.50 L142.60,551.48 L142.90,551.44 L143.20,551.26 L143.50,551.51 L143.80,551.58 L144.10,550.98 L144.40,551.17 L144.70,551.00 L145.00,551.01 L145.30,550.71 L145.60,550.98 L145.90,550.76 L146.20,550.64 L146.50,550.85 L146.80,550.20 L147.10,550.23 L147.40,550.28 L147.70,550.24 L148.00,549.95 L148.30,549.96 L148.60,550.01 L148.90,549.58 L149.20,549.46 L149.50,549.42 L149.80,548.80 L150.10,549.30 L150.40,549.19 L150.70,549.37 L151.00,548.59 L151.30,548.82 L151.60,548.73 L151.90,548.68 L152.20,548.19 L152.50,547.70 L152.80,548.20 L153.10,548.12 L153.40,548.00 L153.70,547.68 L154.00,547.52 L154.30,547.54 L154.60,547.25 L154.90,547.12 L155.20,547.25 L155.50,547.19 L155.80,546.75 L156.10,546.50 L156.40,546.56 L156.70,546.82 L157.00,546.54 L157.30,546.66 L157.60,546.57 L157.90,546.60 L158.20,546.23 L158.50,546.25 L158.80,546.33 L159.10,546.02 L159.40,545.86 L159.70,546.24 L160.00,546.31 L160.30,545.83 L160.60,546.12 L160.90,546.14 L161.20,546.15 L161.50,546.09 L161.80,546.07 L162.10,546.08 L162.40,546.60 L162.70,546.49 L163.00,546.69 L163.30,546.29 L163.60,546.92 L163.90,546.99 L164.20,546.94 L164.50,547.37 L164.80,547.09 L165.10,547.16 L165.40,547.03 L165.70,547.18 L166.00,547.50 L166.30,547.56 L166.60,547.82 L166.90,547.56 L167.20,547.87 L167.50,547.68 L167.80,547.92 L168.10,547.92 L168.40,547.68 L168.70,548.37 L169.00,548.12 L169.30,548.20 L169.60,548.49 L169.90,548.30 L170.20,548.42 L170.50,548.17 L170.80,548.75 L171.10,548.96 L171.40,548.81 L171.70,549.19 L172.00,549.34 L172.30,549.25 L172.60,549.12 L172.90,549.40 L173.20,549.47 L173.50,549.43 L173.80,549.70 L174.10,549.64 L174.40,549.38 L174.70,549.65 L175.00,549.80 L175.30,549.61 L175.60,549.65 L175.90,550.04 L176.20,550.21 L176.50,550.00 L176.80,550.40 L177.10,550.20 L177.40,550.25 L177.70,550.78 L178.00,550.74 L178.30,550.46 L178.60,550.62 L178.90,551.09 L179.20,551.02 L179.50,551.16 L179.80,551.18 L180.10,551.54 L180.40,552.19 L180.70,551.53 L181.00,552.33 L181.30,551.95 L181.60,552.02 L181.90,552.57 L182.20,552.48 L182.50,552.60 L182.80,553.01 L183.10,553.30 L183.40,553.10 L183.70,552.93 L184.00,553.03 L184.30,553.34 L184.60,553.66 L184.90,553.64 L185.20,553.70 L185.50,553.96 L185.80,553.39 L186.10,554.10 L186.40,554.03 L186.70,554.12 L187.00,554.29 L187.30,554.24 L187.60,554.18 L187.90,554.09 L188.20,554.65 L188.50,554.43 L188.80,554.74 L189.10,554.51 L189.40,554.93 L189.70,555.11 L190.00,555.03 L190.30,555.26 L190.60,555.11 L190.90,555.24 L191.20,555.45 L191.50,555.48 L191.80,555.64 L192.10,555.63 L192.40,555.86 L192.70,556.05 L193.00,555.90 L193.30,556.02 L193.60,555.94 L193.90,555.69 L194.20,556.11 L194.50,556.14 L194.80,555.77 L195.10,555.97 L195.40,555.71 L195.70,556.10 L196.00,556.35 L196.30,556.10 L196.60,555.94 L196.90,556.32 L197.20,556.22 L197.50,556.17 L197.80,556.31 L198.10,556.11 L198.40,556.39 L198.70,555.76 L199.00,556.30 L199.30,556.05 L199.60,556.30 L199.90,556.08 L200.20,555.93 L200.50,556.37 L200.80,556.01 L201.10,555.80 L201.40,556.25 L201.70,556.58 L202.00,556.68 L202.30,556.65 L202.60,555.97 L202.90,556.35 L203.20,556.18 L203.50,556.42 L203.80,556.01 L204.10,556.53 L204.40,556.46 L204.70,556.69 L205.00,556.69 L205.30,556.47 L205.60,556.14 L205.90,556.59 L206.20,556.35 L206.50,556.50 L206.80,556.74 L207.10,556.13 L207.40,556.47 L207.70,556.34 L208.00,556.59 L208.30,556.64 L208.60,556.63 L208.90,556.66 L209.20,556.42 L209.50,556.47 L209.80,556.58 L210.10,556.65 L210.40,556.60 L210.70,556.44 L211.00,556.57 L211.30,556.68 L211.60,556.42 L211.90,556.47 L212.20,556.77 L212.50,557.14 L212.80,556.72 L213.10,556.47 L213.40,557.02 L213.70,556.82 L214.00,556.51 L214.30,556.79 L214.60,556.82 L214.90,556.95 L215.20,556.56 L215.50,556.97 L215.80,556.69 L216.10,556.83 L216.40,556.53 L216.70,557.03 L217.00,556.84 L217.30,556.62 L217.60,556.89 L217.90,556.96 L218.20,557.01 L218.50,557.00 L218.80,556.45 L219.10,556.62 L219.40,556.83 L219.70,556.88 L220.00,556.60 L220.30,557.08 L220.60,556.96 L220.90,556.51 L221.20,556.63 L221.50,557.12 L221.80,556.52 L222.10,557.31 L222.40,557.23 L222.70,556.65 L223.00,556.99 L223.30,557.12 L223.60,556.64 L223.90,556.54 L224.20,557.23 L224.50,556.88 L224.80,556.59 L225.10,557.16 L225.40,557.16 L225.70,557.03 L226.00,556.93 L226.30,556.76 L226.60,556.62 L226.90,557.12 L227.20,557.07 L227.50,556.67 L227.80,556.79 L228.10,556.81 L228.40,556.89 L228.70,556.96 L229.00,557.28 L229.30,557.01 L229.60,557.22 L229.90,557.02 L230.20,557.21 L230.50,556.98 L230.80,557.20 L231.10,556.87 L231.40,556.68 L231.70,557.24 L232.00,556.77 L232.30,556.80 L232.60,557.34 L232.90,556.98 L233.20,557.07 L233.50,557.11 L233.80,557.16 L234.10,557.26 L234.40,557.01 L234.70,556.88 L235.00,557.27 L235.30,557.05 L235.60,556.98 L235.90,557.22 L236.20,557.23 L236.50,557.14 L236.80,556.67 L237.10,557.52 L237.40,557.09 L237.70,556.82 L238.00,557.23 L238.30,557.38 L238.60,557.36 L238.90,557.21 L239.20,557.23 L239.50,556.77 L239.80,556.58 L240.10,557.40 L240.40,557.19 L240.70,557.19 L241.00,556.84 L241.30,557.50 L241.60,557.03 L241.90,557.33 L242.20,556.88 L242.50,556.73 L242.80,557.22 L243.10,557.28 L243.40,556.95 L243.70,557.68 L244.00,557.08 L244.30,557.48 L244.60,557.43 L244.90,556.91 L245.20,557.31 L245.50,557.04 L245.80,557.26 L246.10,557.20 L246.40,557.43 L246.70,557.09 L247.00,557.35 L247.30,557.40 L247.60,557.48 L247.90,557.09 L248.20,557.40 L248.50,557.42 L248.80,557.49 L249.10,556.80 L249.40,556.89 L249.70,556.88 L250.00,557.17 L250.30,557.03 L250.60,557.20 L250.90,557.24 L251.20,557.51 L251.50,557.49 L251.80,557.20 L252.10,557.28 L252.40,556.96 L252.70,557.19 L253.00,557.28 L253.30,557.22 L253.60,557.73 L253.90,556.82 L254.20,557.22 L254.50,557.34 L254.80,557.52 L255.10,557.43 L255.40,557.01 L255.70,557.16 L256.00,557.47 L256.30,557.40 L256.60,557.60 L256.90,557.50 L257.20,557.34 L257.50,557.32 L257.80,557.54 L258.10,557.26 L258.40,557.35 L258.70,557.64 L259.00,557.33 L259.30,557.51 L259.60,556.90 L259.90,557.27 L260.20,557.43 L260.50,557.54 L260.80,557.41 L261.10,557.46 L261.40,557.28 L261.70,557.44 L262.00,557.61 L262.30,557.27 L262.60,557.19 L262.90,557.67 L263.20,557.84 L263.50,557.77 L263.80,557.35 L264.10,557.44 L264.40,557.41 L264.70,557.61 L265.00,557.67 L265.30,557.36 L265.60,557.64 L265.90,557.60 L266.20,557.82 L266.50,557.50 L266.80,557.60 L267.10,557.18 L267.40,557.46 L267.70,557.68 L268.00,557.30 L268.30,557.39 L268.60,557.55 L268.90,557.50 L269.20,557.38 L269.50,557.46 L269.80,557.69 L270.10,557.87 L270.40,557.77 L270.70,557.65 L271.00,557.87 L271.30,557.29 L271.60,557.84 L271.90,557.63 L272.20,557.60 L272.50,557.49 L272.80,557.62 L273.10,557.72 L273.40,557.50 L273.70,557.45 L274.00,557.73 L274.30,557.95 L274.60,557.88 L274.90,557.88 L275.20,557.53 L275.50,557.57 L275.80,557.59 L276.10,558.05 L276.40,557.59 L276.70,557.92 L277.00,557.85 L277.30,557.52 L277.60,557.79 L277.90,557.98 L278.20,557.84 L278.50,557.76 L278.80,557.94 L279.10,557.44 L279.40,557.62 L279.70,557.74 L280.00,557.88 L280.30,557.99 L280.60,557.62 L280.90,557.76 L281.20,557.99 L281.50,557.99 L281.80,557.63 L282.10,557.58 L282.40,557.69 L282.70,557.84 L283.00,557.29 L283.30,558.06 L283.60,557.74 L283.90,557.99 L284.20,558.09 L284.50,557.71 L284.80,557.50 L285.10,557.46 L285.40,558.14 L285.70,557.67 L286.00,557.80 L286.30,557.54 L286.60,557.71 L286.90,557.88 L287.20,557.93 L287.50,557.82 L287.80,557.63 L288.10,557.79 L288.40,557.78 L288.70,558.09 L289.00,557.73 L289.30,557.60 L289.60,557.94 L289.90,557.68 L290.20,558.13 L290.50,558.13 L290.80,557.79 L291.10,557.79 L291.40,558.01 L291.70,557.55 L292.00,558.09 L292.30,558.15 L292.60,557.94 L292.90,557.92 L293.20,557.77 L293.50,557.73 L293.80,557.99 L294.10,557.97 L294.40,557.80 L294.70,558.12 L295.00,557.85 L295.30,558.12 L295.60,557.73 L295.90,558.00 L296.20,558.06 L296.50,558.14 L296.80,557.89 L297.10,557.96 L297.40,557.98 L297.70,558.18 L298.00,557.78 L298.30,557.92 L298.60,557.61 L298.90,558.30 L299.20,558.01 L299.50,557.91 L299.80,557.96 L300.10,558.14 L300.40,557.92 L300.70,558.05 L301.00,557.71 L301.30,557.74 L301.60,558.24 L301.90,558.01 L302.20,557.68 L302.50,558.03 L302.80,558.17 L303.10,558.33 L303.40,557.86 L303.70,558.06 L304.00,557.86 L304.30,557.69 L304.60,557.83 L304.90,558.02 L305.20,557.93 L305.50,557.99 L305.80,557.94 L306.10,558.09 L306.40,558.50 L306.70,558.17 L307.00,558.26 L307.30,558.45 L307.60,557.78 L307.90,557.82 L308.20,557.90 L308.50,557.81 L308.80,558.29 L309.10,557.84 L309.40,557.94 L309.70,558.28 L310.00,557.92 L310.30,558.14 L310.60,558.26 L310.90,557.96 L311.20,558.34 L311.50,558.23 L311.80,558.19 L312.10,558.08 L312.40,557.92 L312.70,558.50 L313.00,558.00 L313.30,558.07 L313.60,558.10 L313.90,558.09 L314.20,558.24 L314.50,557.97 L314.80,558.13 L315.10,558.33 L315.40,557.92 L315.70,558.13 L316.00,557.89 L316.30,558.12 L316.60,558.20 L316.90,557.98 L317.20,558.53 L317.50,557.87 L317.80,558.39 L318.10,558.13 L318.40,558.23 L318.70,557.97 L319.00,558.29 L319.30,558.26 L319.60,557.84 L319.90,558.14 L320.20,558.13 L320.50,558.35 L320.80,557.94 L321.10,558.33 L321.40,558.25 L321.70,558.49 L322.00,557.92 L322.30,558.39 L322.60,557.66 L322.90,557.94 L323.20,558.13 L323.50,557.97 L323.80,558.35 L324.10,558.10 L324.40,558.22 L324.70,558.20 L325.00,558.35 L325.30,558.07 L325.60,558.42 L325.90,558.18 L326.20,558.31 L326.50,558.34 L326.80,558.33 L327.10,558.07 L327.40,558.12 L327.70,558.11 L328.00,558.28 L328.30,558.27 L328.60,557.80 L328.90,557.82 L329.20,558.39 L329.50,558.01 L329.80,558.33 L330.10,558.08 L330.40,558.32 L330.70,558.30 L331.00,558.04 L331.30,558.48 L331.60,558.49 L331.90,558.36 L332.20,557.89 L332.50,558.11 L332.80,558.35 L333.10,558.45 L333.40,558.10 L333.70,557.75 L334.00,558.06 L334.30,558.40 L334.60,558.10 L334.90,558.56 L335.20,558.20 L335.50,558.60 L335.80,558.04 L336.10,558.26 L336.40,558.43 L336.70,558.10 L337.00,558.97 L337.30,558.52 L337.60,558.20 L337.90,558.38 L338.20,558.21 L338.50,558.24 L338.80,558.55 L339.10,558.32 L339.40,558.63 L339.70,558.28 L340.00,558.47 L340.30,558.41 L340.60,558.53 L340.90,558.23 L341.20,558.38 L341.50,558.38 L341.80,558.00 L342.10,558.46 L342.40,558.36 L342.70,558.14 L343.00,558.44 L343.30,558.49 L343.60,558.22 L343.90,558.40" fill="none" stroke="#888" stroke-width="4" stroke-linejoin="round" stroke-linecap="round" clip-path="url(#cc)" />
<path d="M68.50,547.88 L68.80,547.67 L69.10,547.61 L69.40,547.56 L69.70,547.41 L70.00,547.80 L70.30,547.56 L70.60,547.40 L70.90,547.00 L71.20,547.58 L71.50,547.45 L71.80,547.53 L72.10,547.57 L72.40,547.52 L72.70,547.65 L73.00,547.76 L73.30,547.47 L73.60,547.61 L73.90,547.44 L74.20,547.70 L74.50,547.49 L74.80,547.48 L75.10,547.59 L75.40,547.52 L75.70,547.40 L76.00,547.56 L76.30,547.64 L76.60,547.48 L76.90,547.37 L77.20,547.72 L77.50,547.49 L77.80,547.30 L78.10,547.28 L78.40,547.41 L78.70,547.67 L79.00,547.68 L79.30,547.56 L79.60,547.18 L79.90,547.33 L80.20,547.66 L80.50,547.55 L80.80,547.43 L81.10,547.53 L81.40,547.31 L81.70,547.42 L82.00,547.44 L82.30,547.17 L82.60,547.52 L82.90,547.24 L83.20,547.43 L83.50,547.09 L83.80,547.57 L84.10,547.71 L84.40,547.15 L84.70,547.38 L85.00,547.05 L85.30,547.59 L85.60,546.95 L85.90,547.13 L86.20,547.08 L86.50,547.51 L86.80,546.95 L87.10,547.21 L87.40,547.34 L87.70,547.18 L88.00,547.01 L88.30,547.15 L88.60,546.97 L88.90,547.19 L89.20,547.16 L89.50,547.08 L89.80,547.20 L90.10,546.92 L90.40,546.93 L90.70,547.02 L91.00,547.07 L91.30,546.85 L91.60,547.04 L91.90,547.03 L92.20,546.91 L92.50,546.85 L92.80,546.77 L93.10,547.11 L93.40,546.68 L93.70,547.14 L94.00,546.73 L94.30,546.49 L94.60,546.89 L94.90,546.77 L95.20,546.63 L95.50,546.66 L95.80,546.62 L96.10,546.77 L96.40,546.37 L96.70,546.37 L97.00,546.77 L97.30,546.60 L97.60,546.42 L97.90,546.72 L98.20,546.28 L98.50,546.75 L98.80,546.15 L99.10,546.31 L99.40,546.25 L99.70,546.45 L100.00,546.24 L100.30,546.16 L100.60,546.14 L100.90,546.16 L101.20,546.12 L101.50,545.74 L101.80,545.71 L102.10,545.80 L102.40,545.38 L102.70,545.31 L103.00,545.65 L103.30,545.61 L103.60,545.40 L103.90,545.26 L104.20,545.18 L104.50,545.34 L104.80,545.58 L105.10,545.11 L105.40,545.21 L105.70,545.05 L106.00,544.96 L106.30,545.11 L106.60,544.59 L106.90,544.73 L107.20,544.85 L107.50,544.75 L107.80,544.36 L108.10,544.96 L108.40,545.04 L108.70,544.39 L109.00,544.64 L109.30,544.50 L109.60,544.37 L109.90,544.04 L110.20,544.40 L110.50,544.28 L110.80,543.97 L111.10,544.31 L111.40,543.94 L111.70,544.24 L112.00,544.01 L112.30,543.85 L112.60,544.31 L112.90,544.14 L113.20,543.96 L113.50,543.60 L113.80,543.67 L114.10,543.82 L114.40,543.56 L114.70,543.50 L115.00,543.68 L115.30,543.61 L115.60,543.25 L115.90,543.64 L116.20,543.44 L116.50,543.80 L116.80,543.34 L117.10,543.28 L117.40,543.12 L117.70,543.34 L118.00,543.10 L118.30,543.14 L118.60,543.28 L118.90,543.29 L119.20,543.01 L119.50,542.85 L119.80,542.81 L120.10,542.57 L120.40,542.98 L120.70,542.77 L121.00,542.31 L121.30,542.26 L121.60,542.29 L121.90,542.65 L122.20,541.97 L122.50,542.14 L122.80,542.09 L123.10,541.75 L123.40,541.81 L123.70,542.07 L124.00,541.89 L124.30,541.27 L124.60,541.53 L124.90,541.34 L125.20,541.45 L125.50,540.87 L125.80,541.01 L126.10,541.02 L126.40,540.54 L126.70,540.63 L127.00,540.50 L127.30,540.47 L127.60,540.15 L127.90,540.66 L128.20,540.14 L128.50,539.67 L128.80,539.58 L129.10,539.37 L129.40,539.46 L129.70,539.30 L130.00,539.27 L130.30,539.02 L130.60,538.66 L130.90,538.53 L131.20,538.57 L131.50,538.42 L131.80,537.84 L132.10,537.82 L132.40,537.90 L132.70,537.43 L133.00,537.39 L133.30,537.00 L133.60,537.20 L133.90,536.72 L134.20,536.49 L134.50,536.47 L134.80,536.15 L135.10,536.02 L135.40,536.00 L135.70,535.54 L136.00,535.34 L136.30,535.41 L136.60,534.86 L136.90,534.62 L137.20,534.61 L137.50,533.96 L137.80,534.20 L138.10,533.70 L138.40,533.36 L138.70,533.16 L139.00,532.87 L139.30,532.90 L139.60,532.40 L139.90,531.85 L140.20,531.88 L140.50,531.88 L140.80,531.43 L141.10,531.08 L141.40,530.72 L141.70,530.88 L142.00,530.25 L142.30,530.19 L142.60,529.37 L142.90,529.40 L143.20,528.97 L143.50,528.76 L143.80,528.51 L144.10,528.05 L144.40,527.84 L144.70,527.61 L145.00,527.01 L145.30,526.35 L145.60,526.36 L145.90,525.60 L146.20,525.29 L146.50,525.06 L146.80,524.42 L147.10,523.91 L147.40,523.44 L147.70,522.78 L148.00,522.48 L148.30,521.86 L148.60,521.73 L148.90,521.09 L149.20,520.71 L149.50,520.45 L149.80,519.92 L150.10,519.33 L150.40,518.95 L150.70,518.43 L151.00,517.79 L151.30,517.41 L151.60,517.05 L151.90,516.21 L152.20,515.80 L152.50,514.92 L152.80,514.55 L153.10,514.22 L153.40,513.58 L153.70,513.15 L154.00,512.47 L154.30,511.91 L154.60,511.35 L154.90,510.65 L155.20,510.34 L155.50,509.50 L155.80,509.12 L156.10,508.86 L156.40,508.17 L156.70,507.59 L157.00,507.17 L157.30,506.96 L157.60,506.57 L157.90,505.91 L158.20,505.57 L158.50,505.78 L158.80,504.97 L159.10,505.24 L159.40,504.80 L159.70,504.47 L160.00,504.41 L160.30,504.28 L160.60,504.23 L160.90,504.39 L161.20,504.04 L161.50,504.69 L161.80,504.71 L162.10,504.62 L162.40,504.63 L162.70,505.46 L163.00,505.05 L163.30,505.73 L163.60,506.12 L163.90,506.14 L164.20,507.00 L164.50,506.85 L164.80,507.19 L165.10,507.67 L165.40,508.13 L165.70,508.96 L166.00,508.82 L166.30,509.84 L166.60,509.90 L166.90,510.47 L167.20,510.79 L167.50,510.96 L167.80,511.48 L168.10,512.06 L168.40,512.50 L168.70,513.26 L169.00,513.13 L169.30,513.50 L169.60,513.99 L169.90,514.45 L170.20,515.17 L170.50,515.78 L170.80,516.63 L171.10,516.80 L171.40,517.20 L171.70,517.90 L172.00,518.83 L172.30,518.89 L172.60,519.37 L172.90,520.21 L173.20,520.81 L173.50,521.37 L173.80,521.89 L174.10,522.50 L174.40,523.19 L174.70,523.71 L175.00,524.07 L175.30,524.47 L175.60,524.76 L175.90,525.33 L176.20,525.72 L176.50,526.40 L176.80,527.07 L177.10,527.72 L177.40,527.81 L177.70,528.82 L178.00,528.98 L178.30,529.10 L178.60,529.97 L178.90,530.13 L179.20,530.52 L179.50,531.05 L179.80,531.20 L180.10,531.78 L180.40,532.15 L180.70,532.67 L181.00,532.58 L181.30,532.84 L181.60,533.90 L181.90,533.57 L182.20,534.25 L182.50,534.24 L182.80,534.47 L183.10,535.25 L183.40,535.26 L183.70,535.26 L184.00,535.55 L184.30,535.99 L184.60,536.06 L184.90,536.43 L185.20,536.49 L185.50,536.75 L185.80,537.06 L186.10,537.19 L186.40,537.18 L186.70,537.68 L187.00,537.68 L187.30,538.00 L187.60,538.19 L187.90,538.27 L188.20,539.05 L188.50,538.56 L188.80,539.28 L189.10,538.97 L189.40,539.29 L189.70,539.73 L190.00,539.72 L190.30,539.91 L190.60,540.40 L190.90,540.29 L191.20,540.54 L191.50,540.46 L191.80,540.56 L192.10,540.67 L192.40,541.11 L192.70,540.27 L193.00,541.09 L193.30,541.22 L193.60,540.88 L193.90,541.37 L194.20,541.38 L194.50,541.33 L194.80,541.66 L195.10,541.49 L195.40,542.10 L195.70,541.64 L196.00,541.75 L196.30,541.99 L196.60,542.16 L196.90,542.39 L197.20,542.40 L197.50,542.45 L197.80,542.00 L198.10,542.52 L198.40,542.68 L198.70,542.98 L199.00,542.67 L199.30,543.05 L199.60,542.99 L199.90,543.00 L200.20,543.26 L200.50,543.32 L200.80,543.49 L201.10,543.55 L201.40,543.84 L201.70,543.93 L202.00,543.66 L202.30,544.28 L202.60,544.36 L202.90,544.37 L203.20,544.34 L203.50,544.80 L203.80,544.45 L204.10,544.68 L204.40,544.55 L204.70,544.89 L205.00,545.20 L205.30,544.99 L205.60,545.35 L205.90,545.11 L206.20,545.51 L206.50,545.85 L206.80,545.58 L207.10,545.72 L207.40,546.07 L207.70,546.16 L208.00,546.05 L208.30,546.21 L208.60,546.28 L208.90,546.56 L209.20,546.61 L209.50,546.64 L209.80,546.53 L210.10,546.48 L210.40,546.50 L210.70,547.05 L211.00,547.67 L211.30,547.28 L211.60,547.43 L211.90,547.32 L212.20,547.50 L212.50,547.30 L212.80,547.61 L213.10,547.43 L213.40,547.87 L213.70,547.57 L214.00,548.10 L214.30,547.97 L214.60,548.17 L214.90,548.18 L215.20,547.88 L215.50,547.97 L215.80,548.49 L216.10,548.41 L216.40,548.54 L216.70,548.84 L217.00,548.61 L217.30,548.84 L217.60,548.53 L217.90,548.47 L218.20,548.68 L218.50,548.71 L218.80,548.79 L219.10,548.93 L219.40,548.98 L219.70,549.10 L220.00,548.80 L220.30,548.79 L220.60,549.05 L220.90,549.16 L221.20,549.09 L221.50,549.12 L221.80,549.48 L222.10,549.24 L222.40,548.96 L222.70,549.10 L223.00,549.57 L223.30,549.44 L223.60,549.02 L223.90,549.15 L224.20,549.43 L224.50,549.32 L224.80,549.51 L225.10,549.23 L225.40,549.47 L225.70,549.56 L226.00,549.66 L226.30,549.58 L226.60,549.58 L226.90,549.60 L227.20,549.75 L227.50,549.80 L227.80,549.55 L228.10,549.56 L228.40,549.76 L228.70,549.55 L229.00,549.74 L229.30,550.29 L229.60,549.93 L229.90,549.76 L230.20,549.78 L230.50,549.77 L230.80,549.71 L231.10,549.89 L231.40,550.11 L231.70,550.18 L232.00,550.17 L232.30,549.63 L232.60,550.10 L232.90,549.91 L233.20,550.12 L233.50,550.09 L233.80,550.06 L234.10,549.90 L234.40,550.14 L234.70,550.18 L235.00,550.30 L235.30,550.23 L235.60,550.05 L235.90,550.55 L236.20,550.60 L236.50,550.23 L236.80,550.05 L237.10,550.79 L237.40,550.67 L237.70,550.51 L238.00,550.06 L238.30,550.74 L238.60,550.63 L238.90,550.30 L239.20,549.96 L239.50,550.75 L239.80,550.35 L240.10,550.52 L240.40,550.65 L240.70,550.75 L241.00,550.50 L241.30,550.69 L241.60,550.64 L241.90,550.56 L242.20,550.72 L242.50,550.58 L242.80,550.59 L243.10,550.62 L243.40,550.35 L243.70,550.54 L244.00,550.46 L244.30,550.84 L244.60,550.40 L244.90,551.11 L245.20,550.77 L245.50,550.74 L245.80,550.51 L246.10,550.67 L246.40,551.12 L246.70,550.81 L247.00,550.49 L247.30,551.00 L247.60,551.17 L247.90,550.76 L248.20,550.85 L248.50,551.19 L248.80,550.40 L249.10,551.15 L249.40,550.78 L249.70,551.01 L250.00,551.18 L250.30,551.11 L250.60,551.07 L250.90,551.23 L251.20,550.85 L251.50,551.03 L251.80,550.86 L252.10,551.09 L252.40,550.93 L252.70,550.85 L253.00,550.87 L253.30,551.25 L253.60,550.72 L253.90,550.81 L254.20,550.72 L254.50,550.85 L254.80,550.74 L255.10,550.85 L255.40,550.89 L255.70,551.45 L256.00,551.16 L256.30,550.99 L256.60,550.78 L256.90,551.03 L257.20,551.46 L257.50,551.12 L257.80,551.38 L258.10,551.29 L258.40,551.24 L258.70,551.18 L259.00,551.22 L259.30,551.19 L259.60,551.13 L259.90,551.29 L260.20,551.50 L260.50,551.42 L260.80,551.01 L261.10,551.45 L261.40,551.42 L261.70,551.24 L262.00,551.53 L262.30,551.50 L262.60,551.76 L262.90,550.96 L263.20,551.55 L263.50,551.20 L263.80,551.45 L264.10,551.54 L264.40,551.74 L264.70,551.50 L265.00,551.31 L265.30,551.64 L265.60,551.59 L265.90,551.73 L266.20,550.97 L266.50,551.53 L266.80,550.93 L267.10,551.59 L267.40,551.54 L267.70,551.39 L268.00,551.65 L268.30,551.62 L268.60,551.81 L268.90,551.89 L269.20,551.63 L269.50,551.58 L269.80,551.48 L270.10,551.89 L270.40,551.64 L270.70,551.62 L271.00,551.80 L271.30,551.56 L271.60,551.65 L271.90,551.70 L272.20,551.91 L272.50,551.51 L272.80,551.49 L273.10,551.62 L273.40,551.61 L273.70,551.60 L274.00,551.92 L274.30,551.68 L274.60,552.15 L274.90,551.99 L275.20,551.81 L275.50,551.79 L275.80,551.96 L276.10,552.32 L276.40,551.93 L276.70,551.66 L277.00,551.87 L277.30,552.55 L277.60,551.70 L277.90,551.83 L278.20,551.91 L278.50,551.80 L278.80,552.19 L279.10,551.80 L279.40,551.92 L279.70,552.05 L280.00,552.07 L280.30,551.92 L280.60,552.00 L280.90,551.96 L281.20,551.30 L281.50,552.15 L281.80,552.05 L282.10,551.99 L282.40,552.21 L282.70,551.67 L283.00,552.30 L283.30,551.93 L283.60,551.87 L283.90,551.86 L284.20,552.15 L284.50,551.96 L284.80,552.24 L285.10,551.82 L285.40,552.35 L285.70,552.08 L286.00,552.50 L286.30,552.22 L286.60,552.06 L286.90,552.10 L287.20,551.78 L287.50,552.12 L287.80,551.92 L288.10,552.05 L288.40,552.62 L288.70,551.99 L289.00,552.33 L289.30,552.33 L289.60,552.17 L289.90,552.21 L290.20,552.11 L290.50,552.62 L290.80,552.37 L291.10,552.48 L291.40,551.92 L291.70,552.25 L292.00,552.07 L292.30,552.52 L292.60,552.25 L292.90,552.16 L293.20,552.34 L293.50,552.36 L293.80,552.32 L294.10,552.67 L294.40,552.55 L294.70,552.40 L295.00,552.49 L295.30,552.31 L295.60,552.10 L295.90,552.39 L296.20,551.92 L296.50,552.59 L296.80,552.33 L297.10,552.04 L297.40,552.45 L297.70,552.98 L298.00,552.31 L298.30,552.42 L298.60,552.56 L298.90,552.23 L299.20,552.79 L299.50,552.41 L299.80,552.56 L300.10,552.67 L300.40,552.48 L300.70,552.66 L301.00,552.20 L301.30,552.25 L301.60,552.58 L301.90,552.41 L302.20,552.43 L302.50,552.56 L302.80,552.69 L303.10,552.84 L303.40,552.97 L303.70,552.88 L304.00,552.79 L304.30,552.44 L304.60,552.44 L304.90,552.38 L305.20,552.55 L305.50,552.69 L305.80,553.06 L306.10,552.51 L306.40,552.80 L306.70,552.56 L307.00,552.67 L307.30,552.33 L307.60,553.19 L307.90,552.75 L308.20,552.71 L308.50,552.73 L308.80,552.44 L309.10,552.91 L309.40,552.82 L309.70,552.94 L310.00,553.09 L310.30,552.93 L310.60,552.68 L310.90,552.72 L311.20,552.50 L311.50,553.28 L311.80,552.52 L312.10,553.06 L312.40,552.64 L312.70,552.88 L313.00,552.83 L313.30,552.64 L313.60,553.04 L313.90,553.01 L314.20,552.89 L314.50,553.05 L314.80,553.24 L315.10,552.65 L315.40,552.79 L315.70,552.62 L316.00,552.74 L316.30,552.85 L316.60,552.86 L316.90,552.93 L317.20,553.26 L317.50,553.11 L317.80,552.86 L318.10,553.06 L318.40,552.83 L318.70,553.16 L319.00,552.87 L319.30,552.94 L319.60,552.69 L319.90,552.87 L320.20,553.39 L320.50,552.47 L320.80,552.97 L321.10,552.87 L321.40,552.89 L321.70,553.26 L322.00,552.86 L322.30,552.70 L322.60,552.98 L322.90,553.00 L323.20,553.16 L323.50,553.32 L323.80,553.19 L324.10,553.22 L324.40,552.92 L324.70,552.88 L325.00,553.12 L325.30,553.18 L325.60,553.25 L325.90,553.19 L326.20,552.98 L326.50,552.95 L326.80,553.35 L327.10,553.29 L327.40,552.73 L327.70,553.22 L328.00,553.21 L328.30,552.97 L328.60,552.88 L328.90,553.32 L329.20,553.24 L329.50,552.88 L329.80,553.15 L330.10,553.41 L330.40,553.08 L330.70,553.52 L331.00,552.91 L331.30,553.46 L331.60,553.15 L331.90,553.01 L332.20,553.14 L332.50,553.39 L332.80,552.96 L333.10,553.45 L333.40,553.37 L333.70,552.75 L334.00,553.30 L334.30,553.49 L334.60,553.10 L334.90,552.72 L335.20,553.43 L335.50,553.48 L335.80,553.59 L336.10,553.08 L336.40,553.06 L336.70,553.17 L337.00,553.55 L337.30,553.10 L337.60,553.32 L337.90,552.97 L338.20,553.62 L338.50,553.32 L338.80,553.35 L339.10,554.03 L339.40,553.55 L339.70,553.46 L340.00,553.35 L340.30,553.31 L340.60,553.05 L340.90,553.55 L341.20,553.32 L341.50,553.33 L341.80,553.05 L342.10,553.64 L342.40,553.42 L342.70,553.43 L343.00,553.30 L343.30,553.52 L343.60,553.59 L343.90,553.54" fill="none" stroke="#0000ff" stroke-width="4" stroke-linejoin="round" stroke-linecap="round" clip-path="url(#cc)" />
<path d="M68.50,541.95 L68.80,541.78 L69.10,542.10 L69.40,542.20 L69.70,541.56 L70.00,541.86 L70.30,541.92 L70.60,542.01 L70.90,542.21 L71.20,541.86 L71.50,542.11 L71.80,541.83 L72.10,542.07 L72.40,541.70 L72.70,541.80 L73.00,541.96 L73.30,541.74 L73.60,541.21 L73.90,541.61 L74.20,541.74 L74.50,541.62 L74.80,541.35 L75.10,541.43 L75.40,541.65 L75.70,541.65 L76.00,541.53 L76.30,541.25 L76.60,541.17 L76.90,541.76 L77.20,541.05 L77.50,541.49 L77.80,541.23 L78.10,541.28 L78.40,541.20 L78.70,541.03 L79.00,541.18 L79.30,540.80 L79.60,540.88 L79.90,540.96 L80.20,540.33 L80.50,541.11 L80.80,540.75 L81.10,540.68 L81.40,540.48 L81.70,540.61 L82.00,540.31 L82.30,540.34 L82.60,540.36 L82.90,540.46 L83.20,540.40 L83.50,540.22 L83.80,540.21 L84.10,540.39 L84.40,540.07 L84.70,540.49 L85.00,540.26 L85.30,539.95 L85.60,539.75 L85.90,540.01 L86.20,540.15 L86.50,539.91 L86.80,539.85 L87.10,539.47 L87.40,539.89 L87.70,539.44 L88.00,539.93 L88.30,539.56 L88.60,539.83 L88.90,539.57 L89.20,538.97 L89.50,539.29 L89.80,539.37 L90.10,539.48 L90.40,539.09 L90.70,539.16 L91.00,538.65 L91.30,538.97 L91.60,538.82 L91.90,538.92 L92.20,538.71 L92.50,538.61 L92.80,538.56 L93.10,538.64 L93.40,538.74 L93.70,538.56 L94.00,538.53 L94.30,538.02 L94.60,537.86 L94.90,537.85 L95.20,537.78 L95.50,538.04 L95.80,537.82 L96.10,537.71 L96.40,538.16 L96.70,537.56 L97.00,537.72 L97.30,537.47 L97.60,537.16 L97.90,536.96 L98.20,537.10 L98.50,537.23 L98.80,537.17 L99.10,537.24 L99.40,537.01 L99.70,537.20 L100.00,536.59 L100.30,536.50 L100.60,536.73 L100.90,536.45 L101.20,536.62 L101.50,536.64 L101.80,536.31 L102.10,536.07 L102.40,535.55 L102.70,535.92 L103.00,535.95 L103.30,535.52 L103.60,535.80 L103.90,535.68 L104.20,535.58 L104.50,535.64 L104.80,535.68 L105.10,535.06 L105.40,535.15 L105.70,535.16 L106.00,535.32 L106.30,534.92 L106.60,534.95 L106.90,534.75 L107.20,534.67 L107.50,534.58 L107.80,534.67 L108.10,534.45 L108.40,534.43 L108.70,534.16 L109.00,533.98 L109.30,533.92 L109.60,534.03 L109.90,533.75 L110.20,533.30 L110.50,533.61 L110.80,533.16 L111.10,532.83 L111.40,533.16 L111.70,533.41 L112.00,533.12 L112.30,532.96 L112.60,532.55 L112.90,532.37 L113.20,532.26 L113.50,532.27 L113.80,532.08 L114.10,532.13 L114.40,532.03 L114.70,531.67 L115.00,531.83 L115.30,531.14 L115.60,531.34 L115.90,531.21 L116.20,531.03 L116.50,531.00 L116.80,530.85 L117.10,530.80 L117.40,530.67 L117.70,530.07 L118.00,530.44 L118.30,530.17 L118.60,530.15 L118.90,530.00 L119.20,529.88 L119.50,529.59 L119.80,529.13 L120.10,529.24 L120.40,528.75 L120.70,528.48 L121.00,528.38 L121.30,528.55 L121.60,528.21 L121.90,527.84 L122.20,527.63 L122.50,527.26 L122.80,527.43 L123.10,526.31 L123.40,526.87 L123.70,526.57 L124.00,526.31 L124.30,526.39 L124.60,525.92 L124.90,526.05 L125.20,525.24 L125.50,525.67 L125.80,524.85 L126.10,524.83 L126.40,524.27 L126.70,523.95 L127.00,523.74 L127.30,523.54 L127.60,522.92 L127.90,522.49 L128.20,522.07 L128.50,521.26 L128.80,520.50 L129.10,520.03 L129.40,519.47 L129.70,518.90 L130.00,518.20 L130.30,517.76 L130.60,516.74 L130.90,516.63 L131.20,516.28 L131.50,516.03 L131.80,515.63 L132.10,515.11 L132.40,514.74 L132.70,514.77 L133.00,513.75 L133.30,513.52 L133.60,512.99 L133.90,512.51 L134.20,512.13 L134.50,511.79 L134.80,511.18 L135.10,511.29 L135.40,510.45 L135.70,510.03 L136.00,509.97 L136.30,509.54 L136.60,509.05 L136.90,508.58 L137.20,507.51 L137.50,507.30 L137.80,506.86 L138.10,506.25 L138.40,506.16 L138.70,505.49 L139.00,504.51 L139.30,503.75 L139.60,503.01 L139.90,502.32 L140.20,501.81 L140.50,501.07 L140.80,499.97 L141.10,499.52 L141.40,498.27 L141.70,497.49 L142.00,496.26 L142.30,495.53 L142.60,494.43 L142.90,493.80 L143.20,493.04 L143.50,491.91 L143.80,490.98 L144.10,490.30 L144.40,489.00 L144.70,488.33 L145.00,487.16 L145.30,485.94 L145.60,484.85 L145.90,484.00 L146.20,483.05 L146.50,481.70 L146.80,480.32 L147.10,479.29 L147.40,478.37 L147.70,477.01 L148.00,475.62 L148.30,474.36 L148.60,473.46 L148.90,471.14 L149.20,470.00 L149.50,469.02 L149.80,467.45 L150.10,465.90 L150.40,464.14 L150.70,462.98 L151.00,461.13 L151.30,459.65 L151.60,458.04 L151.90,456.79 L152.20,454.87 L152.50,453.69 L152.80,451.92 L153.10,450.64 L153.40,448.90 L153.70,447.81 L154.00,445.90 L154.30,444.43 L154.60,442.85 L154.90,441.38 L155.20,440.05 L155.50,438.72 L155.80,437.01 L156.10,435.83 L156.40,434.65 L156.70,433.17 L157.00,432.07 L157.30,431.08 L157.60,430.02 L157.90,429.13 L158.20,428.09 L158.50,427.39 L158.80,426.02 L159.10,425.59 L159.40,425.05 L159.70,424.72 L160.00,424.67 L160.30,424.37 L160.60,424.12 L160.90,425.22 L161.20,425.43 L161.50,425.74 L161.80,426.31 L162.10,427.05 L162.40,427.95 L162.70,428.92 L163.00,430.31 L163.30,430.96 L163.60,432.60 L163.90,434.00 L164.20,435.05 L164.50,436.67 L164.80,437.93 L165.10,439.15 L165.40,440.54 L165.70,442.33 L166.00,443.82 L166.30,444.70 L166.60,446.49 L166.90,447.66 L167.20,449.42 L167.50,451.27 L167.80,452.60 L168.10,453.99 L168.40,455.87 L168.70,457.43 L169.00,458.97 L169.30,460.55 L169.60,461.88 L169.90,463.29 L170.20,464.73 L170.50,466.12 L170.80,467.83 L171.10,468.43 L171.40,469.75 L171.70,471.02 L172.00,472.08 L172.30,473.48 L172.60,474.65 L172.90,476.24 L173.20,477.46 L173.50,478.15 L173.80,479.57 L174.10,480.45 L174.40,481.68 L174.70,482.96 L175.00,483.91 L175.30,484.94 L175.60,486.26 L175.90,487.02 L176.20,487.71 L176.50,488.60 L176.80,489.35 L177.10,490.50 L177.40,491.65 L177.70,492.43 L178.00,492.98 L178.30,493.62 L178.60,494.53 L178.90,495.12 L179.20,495.69 L179.50,496.45 L179.80,497.76 L180.10,498.33 L180.40,498.92 L180.70,500.13 L181.00,500.86 L181.30,501.71 L181.60,502.15 L181.90,502.71 L182.20,503.69 L182.50,504.00 L182.80,504.82 L183.10,505.79 L183.40,505.98 L183.70,506.87 L184.00,507.40 L184.30,507.84 L184.60,509.06 L184.90,509.06 L185.20,509.76 L185.50,510.46 L185.80,511.28 L186.10,511.72 L186.40,512.04 L186.70,512.58 L187.00,513.45 L187.30,513.83 L187.60,514.35 L187.90,514.93 L188.20,515.51 L188.50,515.92 L188.80,516.75 L189.10,517.44 L189.40,517.37 L189.70,517.99 L190.00,518.75 L190.30,519.18 L190.60,519.52 L190.90,519.94 L191.20,520.48 L191.50,521.24 L191.80,521.75 L192.10,521.85 L192.40,522.54 L192.70,522.69 L193.00,523.59 L193.30,523.68 L193.60,524.03 L193.90,524.32 L194.20,525.00 L194.50,525.44 L194.80,525.31 L195.10,526.16 L195.40,526.10 L195.70,526.50 L196.00,526.75 L196.30,527.42 L196.60,527.92 L196.90,527.69 L197.20,528.34 L197.50,528.39 L197.80,529.09 L198.10,529.10 L198.40,529.23 L198.70,529.97 L199.00,529.99 L199.30,530.34 L199.60,530.76 L199.90,530.81 L200.20,531.29 L200.50,531.63 L200.80,531.96 L201.10,531.87 L201.40,532.57 L201.70,533.11 L202.00,533.46 L202.30,533.57 L202.60,534.04 L202.90,534.26 L203.20,534.62 L203.50,534.85 L203.80,535.49 L204.10,535.96 L204.40,536.20 L204.70,536.65 L205.00,536.87 L205.30,537.22 L205.60,537.49 L205.90,537.82 L206.20,537.85 L206.50,538.29 L206.80,538.40 L207.10,538.62 L207.40,539.47 L207.70,539.14 L208.00,539.28 L208.30,538.92 L208.60,539.83 L208.90,540.03 L209.20,539.78 L209.50,540.32 L209.80,540.63 L210.10,540.46 L210.40,541.03 L210.70,540.97 L211.00,541.23 L211.30,541.11 L211.60,541.43 L211.90,541.66 L212.20,541.83 L212.50,541.68 L212.80,541.82 L213.10,542.28 L213.40,542.04 L213.70,542.15 L214.00,542.36 L214.30,542.27 L214.60,542.79 L214.90,542.36 L215.20,542.62 L215.50,542.95 L215.80,542.93 L216.10,542.81 L216.40,543.23 L216.70,543.26 L217.00,543.28 L217.30,543.15 L217.60,543.47 L217.90,543.07 L218.20,543.71 L218.50,543.74 L218.80,543.31 L219.10,543.44 L219.40,543.61 L219.70,543.84 L220.00,544.24 L220.30,543.92 L220.60,544.29 L220.90,544.19 L221.20,544.13 L221.50,544.00 L221.80,544.45 L222.10,544.41 L222.40,544.08 L222.70,544.27 L223.00,544.70 L223.30,544.34 L223.60,544.74 L223.90,544.66 L224.20,544.72 L224.50,544.61 L224.80,544.74 L225.10,545.02 L225.40,544.95 L225.70,544.27 L226.00,544.71 L226.30,545.15 L226.60,544.70 L226.90,544.91 L227.20,544.88 L227.50,545.33 L227.80,544.91 L228.10,545.27 L228.40,545.30 L228.70,545.57 L229.00,545.37 L229.30,545.32 L229.60,545.40 L229.90,545.35 L230.20,545.37 L230.50,545.61 L230.80,545.06 L231.10,545.26 L231.40,545.60 L231.70,545.86 L232.00,545.60 L232.30,545.53 L232.60,545.58 L232.90,545.38 L233.20,545.76 L233.50,545.94 L233.80,545.90 L234.10,545.89 L234.40,546.05 L234.70,545.80 L235.00,545.98 L235.30,545.92 L235.60,545.73 L235.90,545.89 L236.20,545.96 L236.50,546.30 L236.80,546.08 L237.10,546.08 L237.40,546.36 L237.70,545.80 L238.00,545.81 L238.30,546.15 L238.60,546.28 L238.90,546.27 L239.20,546.34 L239.50,546.33 L239.80,545.81 L240.10,546.29 L240.40,546.13 L240.70,546.53 L241.00,546.54 L241.30,546.19 L241.60,546.35 L241.90,546.24 L242.20,546.83 L242.50,546.59 L242.80,546.83 L243.10,546.77 L243.40,546.57 L243.70,546.65 L244.00,546.38 L244.30,546.64 L244.60,546.62 L244.90,546.52 L245.20,546.39 L245.50,546.83 L245.80,546.57 L246.10,546.11 L246.40,546.73 L246.70,547.04 L247.00,547.06 L247.30,546.94 L247.60,546.77 L247.90,546.91 L248.20,547.02 L248.50,546.77 L248.80,546.79 L249.10,546.85 L249.40,546.98 L249.70,547.00 L250.00,546.89 L250.30,547.15 L250.60,547.13 L250.90,547.29 L251.20,546.86 L251.50,547.44 L251.80,546.73 L252.10,547.22 L252.40,547.33 L252.70,547.44 L253.00,547.39 L253.30,547.69 L253.60,547.25 L253.90,547.01 L254.20,546.84 L254.50,547.28 L254.80,547.32 L255.10,547.11 L255.40,547.59 L255.70,547.64 L256.00,547.49 L256.30,547.50 L256.60,547.23 L256.90,547.61 L257.20,547.76 L257.50,547.47 L257.80,547.51 L258.10,547.37 L258.40,547.72 L258.70,547.44 L259.00,547.71 L259.30,547.44 L259.60,547.59 L259.90,547.77 L260.20,547.66 L260.50,547.74 L260.80,547.66 L261.10,547.49 L261.40,547.95 L261.70,547.42 L262.00,547.74 L262.30,547.96 L262.60,547.78 L262.90,547.93 L263.20,547.65 L263.50,548.00 L263.80,548.17 L264.10,547.97 L264.40,547.68 L264.70,547.81 L265.00,548.30 L265.30,548.14 L265.60,547.94 L265.90,547.93 L266.20,548.08 L266.50,548.07 L266.80,548.24 L267.10,548.17 L267.40,548.22 L267.70,548.45 L268.00,548.07 L268.30,547.88 L268.60,548.06 L268.90,548.42 L269.20,548.21 L269.50,548.15 L269.80,548.17 L270.10,547.85 L270.40,548.25 L270.70,548.05 L271.00,548.61 L271.30,548.11 L271.60,548.12 L271.90,548.22 L272.20,548.49 L272.50,548.13 L272.80,548.40 L273.10,548.19 L273.40,548.89 L273.70,548.59 L274.00,548.41 L274.30,548.39 L274.60,548.53 L274.90,548.18 L275.20,548.53 L275.50,548.81 L275.80,548.21 L276.10,548.27 L276.40,548.28 L276.70,548.60 L277.00,548.45 L277.30,548.61 L277.60,548.86 L277.90,548.69 L278.20,548.55 L278.50,548.86 L278.80,548.37 L279.10,548.55 L279.40,548.84 L279.70,548.68 L280.00,549.10 L280.30,548.39 L280.60,548.51 L280.90,548.73 L281.20,548.76 L281.50,548.95 L281.80,548.85 L282.10,548.93 L282.40,548.92 L282.70,548.58 L283.00,548.76 L283.30,548.73 L283.60,549.26 L283.90,548.88 L284.20,549.08 L284.50,548.84 L284.80,548.94 L285.10,549.01 L285.40,548.76 L285.70,548.79 L286.00,549.02 L286.30,549.04 L286.60,549.18 L286.90,548.86 L287.20,549.14 L287.50,549.19 L287.80,548.92 L288.10,548.85 L288.40,548.87 L288.70,549.11 L289.00,548.63 L289.30,549.33 L289.60,548.63 L289.90,548.90 L290.20,548.99 L290.50,549.08 L290.80,548.95 L291.10,548.82 L291.40,549.03 L291.70,549.46 L292.00,549.10 L292.30,549.35 L292.60,548.96 L292.90,549.27 L293.20,549.51 L293.50,549.23 L293.80,548.99 L294.10,549.44 L294.40,549.48 L294.70,549.45 L295.00,549.18 L295.30,549.22 L295.60,549.19 L295.90,549.17 L296.20,548.80 L296.50,549.41 L296.80,549.28 L297.10,548.98 L297.40,549.44 L297.70,548.99 L298.00,549.43 L298.30,549.49 L298.60,549.64 L298.90,549.05 L299.20,549.34 L299.50,549.47 L299.80,549.21 L300.10,549.56 L300.40,549.30 L300.70,549.65 L301.00,549.46 L301.30,549.64 L301.60,549.56 L301.90,549.33 L302.20,549.52 L302.50,549.58 L302.80,549.56 L303.10,549.70 L303.40,549.61 L303.70,549.72 L304.00,549.39 L304.30,549.81 L304.60,549.65 L304.90,549.47 L305.20,549.58 L305.50,549.38 L305.80,549.44 L306.10,549.77 L306.40,549.80 L306.70,549.56 L307.00,549.22 L307.30,549.43 L307.60,549.78 L307.90,549.73 L308.20,549.74 L308.50,549.43 L308.80,549.61 L309.10,549.74 L309.40,549.79 L309.70,549.61 L310.00,549.67 L310.30,549.79 L310.60,549.58 L310.90,549.54 L311.20,549.88 L311.50,549.77 L311.80,549.51 L312.10,550.01 L312.40,550.09 L312.70,549.90 L313.00,549.75 L313.30,549.84 L313.60,549.91 L313.90,549.73 L314.20,549.91 L314.50,549.68 L314.80,549.83 L315.10,549.59 L315.40,549.76 L315.70,549.80 L316.00,549.47 L316.30,549.90 L316.60,549.96 L316.90,550.05 L317.20,550.03 L317.50,549.93 L317.80,549.70 L318.10,550.19 L318.40,549.90 L318.70,549.60 L319.00,549.78 L319.30,549.94 L319.60,550.05 L319.90,550.02 L320.20,550.28 L320.50,549.71 L320.80,549.97 L321.10,549.75 L321.40,549.81 L321.70,550.24 L322.00,550.06 L322.30,550.42 L322.60,550.32 L322.90,550.26 L323.20,550.23 L323.50,549.94 L323.80,549.99 L324.10,550.06 L324.40,549.99 L324.70,550.11 L325.00,550.50 L325.30,550.22 L325.60,550.10 L325.90,550.07 L326.20,550.20 L326.50,550.45 L326.80,550.22 L327.10,550.13 L327.40,550.50 L327.70,550.15 L328.00,550.04 L328.30,550.11 L328.60,550.14 L328.90,550.07 L329.20,550.29 L329.50,550.59 L329.80,550.24 L330.10,549.94 L330.40,550.37 L330.70,550.42 L331.00,550.15 L331.30,550.14 L331.60,550.47 L331.90,550.75 L332.20,550.24 L332.50,550.75 L332.80,550.67 L333.10,550.44 L333.40,550.29 L333.70,550.00 L334.00,550.43 L334.30,550.19 L334.60,550.64 L334.90,550.33 L335.20,550.62 L335.50,550.29 L335.80,550.55 L336.10,550.35 L336.40,550.61 L336.70,550.20 L337.00,550.33 L337.30,550.30 L337.60,550.45 L337.90,550.93 L338.20,550.54 L338.50,550.42 L338.80,550.33 L339.10,550.98 L339.40,550.94 L339.70,550.53 L340.00,550.30 L340.30,550.15 L340.60,550.74 L340.90,550.83 L341.20,550.38 L341.50,550.56 L341.80,550.65 L342.10,550.71 L342.40,550.38 L342.70,550.48 L343.00,550.47 L343.30,550.32 L343.60,550.69 L343.90,550.50" fill="none" stroke="#ff0000" stroke-width="4" stroke-linejoin="round" stroke-linecap="round" clip-path="url(#cc)" />
<path d="M68.50,561.40 L68.80,561.40 L69.10,561.40 L69.40,561.40 L69.70,561.40 L70.00,561.40 L70.30,561.40 L70.60,561.40 L70.90,561.40 L71.20,561.39 L71.50,561.39 L71.80,561.39 L72.10,561.39 L72.40,561.39 L72.70,561.39 L73.00,561.39 L73.30,561.38 L73.60,561.38 L73.90,561.38 L74.20,561.38 L74.50,561.38 L74.80,561.38 L75.10,561.37 L75.40,561.37 L75.70,561.37 L76.00,561.37 L76.30,561.36 L76.60,561.36 L76.90,561.36 L77.20,561.36 L77.50,561.35 L77.80,561.35 L78.10,561.35 L78.40,561.34 L78.70,561.34 L79.00,561.34 L79.30,561.33 L79.60,561.33 L79.90,561.33 L80.20,561.32 L80.50,561.32 L80.80,561.32 L81.10,561.31 L81.40,561.31 L81.70,561.31 L82.00,561.30 L82.30,561.30 L82.60,561.30 L82.90,561.29 L83.20,561.29 L83.50,561.28 L83.80,561.28 L84.10,561.28 L84.40,561.27 L84.70,561.27 L85.00,561.26 L85.30,561.26 L85.60,561.25 L85.90,561.25 L86.20,561.24 L86.50,561.24 L86.80,561.24 L87.10,561.23 L87.40,561.23 L87.70,561.22 L88.00,561.22 L88.30,561.21 L88.60,561.21 L88.90,561.20 L89.20,561.20 L89.50,561.19 L89.80,561.19 L90.10,561.18 L90.40,561.18 L90.70,561.17 L91.00,561.17 L91.30,561.16 L91.60,561.16 L91.90,561.15 L92.20,561.14 L92.50,561.14 L92.80,561.13 L93.10,561.13 L93.40,561.12 L93.70,561.12 L94.00,561.11 L94.30,561.11 L94.60,561.10 L94.90,561.10 L95.20,561.09 L95.50,561.09 L95.80,561.08 L96.10,561.07 L96.40,561.07 L96.70,561.06 L97.00,561.06 L97.30,561.05 L97.60,561.05 L97.90,561.04 L98.20,561.03 L98.50,561.03 L98.80,561.02 L99.10,561.02 L99.40,561.01 L99.70,561.01 L100.00,561.00 L100.30,560.99 L100.60,560.99 L100.90,560.98 L101.20,560.97 L101.50,560.97 L101.80,560.96 L102.10,560.95 L102.40,560.95 L102.70,560.94 L103.00,560.93 L103.30,560.92 L103.60,560.91 L103.90,560.90 L104.20,560.90 L104.50,560.89 L104.80,560.88 L105.10,560.87 L105.40,560.86 L105.70,560.85 L106.00,560.84 L106.30,560.83 L106.60,560.82 L106.90,560.81 L107.20,560.80 L107.50,560.79 L107.80,560.78 L108.10,560.76 L108.40,560.75 L108.70,560.74 L109.00,560.73 L109.30,560.72 L109.60,560.71 L109.90,560.70 L110.20,560.69 L110.50,560.67 L110.80,560.66 L111.10,560.65 L111.40,560.64 L111.70,560.63 L112.00,560.61 L112.30,560.60 L112.60,560.59 L112.90,560.58 L113.20,560.57 L113.50,560.55 L113.80,560.54 L114.10,560.53 L114.40,560.52 L114.70,560.51 L115.00,560.49 L115.30,560.48 L115.60,560.47 L115.90,560.46 L116.20,560.45 L116.50,560.43 L116.80,560.42 L117.10,560.41 L117.40,560.40 L117.70,560.39 L118.00,560.38 L118.30,560.36 L118.60,560.35 L118.90,560.34 L119.20,560.33 L119.50,560.32 L119.80,560.31 L120.10,560.30 L120.40,560.29 L120.70,560.28 L121.00,560.27 L121.30,560.26 L121.60,560.25 L121.90,560.24 L122.20,560.23 L122.50,560.22 L122.80,560.22 L123.10,560.21 L123.40,560.20 L123.70,560.19 L124.00,560.18 L124.30,560.17 L124.60,560.16 L124.90,560.15 L125.20,560.14 L125.50,560.13 L125.80,560.12 L126.10,560.10 L126.40,560.09 L126.70,560.08 L127.00,560.06 L127.30,560.04 L127.60,560.03 L127.90,560.01 L128.20,559.98 L128.50,559.95 L128.80,559.91 L129.10,559.86 L129.40,559.81 L129.70,559.74 L130.00,559.67 L130.30,559.60 L130.60,559.52 L130.90,559.43 L131.20,559.34 L131.50,559.25 L131.80,559.16 L132.10,559.06 L132.40,558.96 L132.70,558.87 L133.00,558.77 L133.30,558.67 L133.60,558.58 L133.90,558.49 L134.20,558.40 L134.50,558.31 L134.80,558.23 L135.10,558.15 L135.40,558.07 L135.70,557.99 L136.00,557.91 L136.30,557.82 L136.60,557.73 L136.90,557.64 L137.20,557.54 L137.50,557.43 L137.80,557.31 L138.10,557.18 L138.40,557.05 L138.70,556.90 L139.00,556.72 L139.30,556.53 L139.60,556.31 L139.90,556.06 L140.20,555.79 L140.50,555.50 L140.80,555.18 L141.10,554.84 L141.40,554.47 L141.70,554.02 L142.00,553.49 L142.30,552.88 L142.60,552.21 L142.90,551.50 L143.20,550.75 L143.50,549.97 L143.80,549.12 L144.10,548.19 L144.40,547.16 L144.70,546.02 L145.00,544.77 L145.30,543.37 L145.60,541.81 L145.90,540.04 L146.20,538.05 L146.50,535.81 L146.80,533.12 L147.10,529.63 L147.40,525.64 L147.70,521.50 L148.00,517.14 L148.30,512.42 L148.60,507.61 L148.90,503.00 L149.20,498.65 L149.50,494.41 L149.80,490.22 L150.10,486.00 L150.40,481.57 L150.70,477.01 L151.00,472.70 L151.30,469.00 L151.60,465.51 L151.90,462.07 L152.20,459.44 L152.50,458.40 L152.80,459.13 L153.10,461.02 L153.40,463.57 L153.70,466.31 L154.00,468.80 L154.30,471.35 L154.60,474.09 L154.90,476.97 L155.20,479.94 L155.50,482.96 L155.80,486.00 L156.10,489.21 L156.40,492.62 L156.70,496.01 L157.00,499.15 L157.30,501.85 L157.60,504.28 L157.90,506.55 L158.20,508.68 L158.50,510.69 L158.80,512.59 L159.10,514.40 L159.40,516.13 L159.70,517.77 L160.00,519.35 L160.30,520.86 L160.60,522.31 L160.90,523.72 L161.20,525.10 L161.50,526.45 L161.80,527.83 L162.10,529.22 L162.40,530.58 L162.70,531.89 L163.00,533.11 L163.30,534.21 L163.60,535.16 L163.90,535.94 L164.20,536.66 L164.50,537.32 L164.80,537.90 L165.10,538.37 L165.40,538.72 L165.70,538.94 L166.00,539.14 L166.30,539.31 L166.60,539.45 L166.90,539.55 L167.20,539.60 L167.50,539.57 L167.80,539.44 L168.10,539.22 L168.40,538.94 L168.70,538.62 L169.00,538.30 L169.30,537.94 L169.60,537.48 L169.90,536.96 L170.20,536.38 L170.50,535.75 L170.80,535.09 L171.10,534.41 L171.40,533.73 L171.70,533.06 L172.00,532.41 L172.30,531.78 L172.60,531.11 L172.90,530.41 L173.20,529.71 L173.50,529.02 L173.80,528.35 L174.10,527.73 L174.40,527.17 L174.70,526.66 L175.00,526.12 L175.30,525.57 L175.60,525.05 L175.90,524.60 L176.20,524.23 L176.50,523.99 L176.80,523.90 L177.10,524.02 L177.40,524.34 L177.70,524.82 L178.00,525.41 L178.30,526.08 L178.60,526.77 L178.90,527.51 L179.20,528.46 L179.50,529.57 L179.80,530.79 L180.10,532.05 L180.40,533.30 L180.70,534.56 L181.00,535.89 L181.30,537.26 L181.60,538.67 L181.90,540.09 L182.20,541.52 L182.50,543.00 L182.80,544.60 L183.10,546.24 L183.40,547.80 L183.70,549.16 L184.00,550.23 L184.30,551.15 L184.60,552.00 L184.90,552.78 L185.20,553.48 L185.50,554.11 L185.80,554.67 L186.10,555.16 L186.40,555.62 L186.70,556.05 L187.00,556.45 L187.30,556.83 L187.60,557.17 L187.90,557.47 L188.20,557.73 L188.50,557.94 L188.80,558.11 L189.10,558.28 L189.40,558.44 L189.70,558.60 L190.00,558.75 L190.30,558.90 L190.60,559.04 L190.90,559.17 L191.20,559.30 L191.50,559.42 L191.80,559.53 L192.10,559.63 L192.40,559.73 L192.70,559.82 L193.00,559.90 L193.30,559.97 L193.60,560.04 L193.90,560.09 L194.20,560.13 L194.50,560.17 L194.80,560.19 L195.10,560.20 L195.40,560.21 L195.70,560.23 L196.00,560.24 L196.30,560.25 L196.60,560.26 L196.90,560.27 L197.20,560.28 L197.50,560.29 L197.80,560.30 L198.10,560.31 L198.40,560.32 L198.70,560.33 L199.00,560.34 L199.30,560.35 L199.60,560.36 L199.90,560.37 L200.20,560.38 L200.50,560.39 L200.80,560.40 L201.10,560.40 L201.40,560.41 L201.70,560.42 L202.00,560.43 L202.30,560.44 L202.60,560.45 L202.90,560.46 L203.20,560.47 L203.50,560.48 L203.80,560.48 L204.10,560.49 L204.40,560.50 L204.70,560.51 L205.00,560.52 L205.30,560.52 L205.60,560.53 L205.90,560.54 L206.20,560.55 L206.50,560.56 L206.80,560.56 L207.10,560.57 L207.40,560.58 L207.70,560.59 L208.00,560.59 L208.30,560.60 L208.60,560.61 L208.90,560.61 L209.20,560.62 L209.50,560.63 L209.80,560.63 L210.10,560.64 L210.40,560.65 L210.70,560.65 L211.00,560.66 L211.30,560.67 L211.60,560.67 L211.90,560.68 L212.20,560.69 L212.50,560.69 L212.80,560.70 L213.10,560.70 L213.40,560.71 L213.70,560.71 L214.00,560.72 L214.30,560.73 L214.60,560.73 L214.90,560.74 L215.20,560.74 L215.50,560.75 L215.80,560.75 L216.10,560.76 L216.40,560.76 L216.70,560.77 L217.00,560.77 L217.30,560.78 L217.60,560.78 L217.90,560.79 L218.20,560.79 L218.50,560.80 L218.80,560.80 L219.10,560.81 L219.40,560.81 L219.70,560.82 L220.00,560.82 L220.30,560.82 L220.60,560.83 L220.90,560.83 L221.20,560.84 L221.50,560.84 L221.80,560.84 L222.10,560.85 L222.40,560.85 L222.70,560.86 L223.00,560.86 L223.30,560.86 L223.60,560.87 L223.90,560.87 L224.20,560.87 L224.50,560.88 L224.80,560.88 L225.10,560.88 L225.40,560.89 L225.70,560.89 L226.00,560.89 L226.30,560.90 L226.60,560.90 L226.90,560.90 L227.20,560.91 L227.50,560.91 L227.80,560.91 L228.10,560.91 L228.40,560.92 L228.70,560.92 L229.00,560.92 L229.30,560.92 L229.60,560.93 L229.90,560.93 L230.20,560.93 L230.50,560.93 L230.80,560.94 L231.10,560.94 L231.40,560.94 L231.70,560.94 L232.00,560.95 L232.30,560.95 L232.60,560.95 L232.90,560.95 L233.20,560.95 L233.50,560.95 L233.80,560.96 L234.10,560.96 L234.40,560.96 L234.70,560.96 L235.00,560.96 L235.30,560.97 L235.60,560.97 L235.90,560.97 L236.20,560.97 L236.50,560.97 L236.80,560.97 L237.10,560.97 L237.40,560.98 L237.70,560.98 L238.00,560.98 L238.30,560.98 L238.60,560.98 L238.90,560.98 L239.20,560.98 L239.50,560.98 L239.80,560.98 L240.10,560.99 L240.40,560.99 L240.70,560.99 L241.00,560.99 L241.30,560.99 L241.60,560.99 L241.90,560.99 L242.20,560.99 L242.50,560.99 L242.80,560.99 L243.10,560.99 L243.40,560.99 L243.70,560.99 L244.00,560.99 L244.30,561.00 L244.60,561.00 L244.90,561.00 L245.20,561.00 L245.50,561.00 L245.80,561.00 L246.10,561.00 L246.40,561.00 L246.70,561.00 L247.00,561.00 L247.30,561.00 L247.60,561.00 L247.90,561.00 L248.20,561.00 L248.50,561.00 L248.80,561.00 L249.10,561.00 L249.40,561.00 L249.70,561.00 L250.00,561.00 L250.30,561.00 L250.60,561.00 L250.90,561.00 L251.20,561.00 L251.50,561.00 L251.80,561.00 L252.10,561.00 L252.40,561.00 L252.70,561.00 L253.00,561.00 L253.30,561.00 L253.60,561.00 L253.90,561.00 L254.20,561.00 L254.50,561.00 L254.80,561.00 L255.10,561.00 L255.40,561.00 L255.70,561.00 L256.00,561.00 L256.30,561.00 L256.60,561.00 L256.90,561.00 L257.20,561.00 L257.50,561.00 L257.80,561.00 L258.10,561.00 L258.40,561.00 L258.70,561.00 L259.00,561.00 L259.30,561.00 L259.60,561.00 L259.90,561.00 L260.20,561.00 L260.50,561.00 L260.80,561.00 L261.10,561.00 L261.40,561.00 L261.70,561.00 L262.00,561.00 L262.30,561.00 L262.60,561.00 L262.90,561.00 L263.20,561.00 L263.50,561.00 L263.80,561.00 L264.10,561.00 L264.40,561.00 L264.70,561.00 L265.00,561.00 L265.30,561.00 L265.60,561.00 L265.90,561.00 L266.20,561.00 L266.50,561.00 L266.80,561.00 L267.10,561.00 L267.40,561.00 L267.70,561.00 L268.00,561.00 L268.30,561.00 L268.60,561.00 L268.90,561.00 L269.20,561.00 L269.50,561.00 L269.80,561.00 L270.10,561.00 L270.40,561.00 L270.70,561.00 L271.00,561.00 L271.30,561.00 L271.60,561.00 L271.90,561.00 L272.20,561.00 L272.50,561.00 L272.80,561.00 L273.10,561.00 L273.40,561.00 L273.70,561.00 L274.00,561.00 L274.30,561.00 L274.60,561.00 L274.90,561.00 L275.20,561.00 L275.50,561.00 L275.80,561.00 L276.10,561.00 L276.40,561.00 L276.70,561.00 L277.00,561.00 L277.30,561.00 L277.60,561.00 L277.90,561.00 L278.20,561.00 L278.50,561.00 L278.80,561.00 L279.10,561.00 L279.40,561.00 L279.70,561.00 L280.00,561.00 L280.30,561.00 L280.60,561.00 L280.90,561.00 L281.20,561.00 L281.50,561.00 L281.80,561.00 L282.10,561.00 L282.40,561.00 L282.70,561.00 L283.00,561.00 L283.30,561.00 L283.60,561.00 L283.90,561.00 L284.20,561.00 L284.50,560.99 L284.80,560.99 L285.10,560.99 L285.40,560.99 L285.70,560.99 L286.00,560.99 L286.30,560.99 L286.60,560.99 L286.90,560.99 L287.20,560.99 L287.50,560.99 L287.80,560.99 L288.10,560.99 L288.40,560.99 L288.70,560.99 L289.00,560.99 L289.30,560.99 L289.60,560.99 L289.90,560.99 L290.20,560.99 L290.50,560.99 L290.80,560.99 L291.10,560.99 L291.40,560.99 L291.70,560.99 L292.00,560.99 L292.30,560.99 L292.60,560.99 L292.90,560.99 L293.20,560.99 L293.50,560.99 L293.80,560.99 L294.10,560.99 L294.40,560.99 L294.70,560.99 L295.00,560.99 L295.30,560.99 L295.60,560.99 L295.90,560.99 L296.20,560.99 L296.50,560.99 L296.80,560.99 L297.10,560.99 L297.40,560.99 L297.70,560.99 L298.00,560.99 L298.30,560.99 L298.60,560.99 L298.90,560.99 L299.20,560.99 L299.50,560.98 L299.80,560.98 L300.10,560.98 L300.40,560.98 L300.70,560.98 L301.00,560.98 L301.30,560.98 L301.60,560.98 L301.90,560.98 L302.20,560.98 L302.50,560.98 L302.80,560.98 L303.10,560.98 L303.40,560.98 L303.70,560.98 L304.00,560.98 L304.30,560.98 L304.60,560.98 L304.90,560.98 L305.20,560.98 L305.50,560.98 L305.80,560.98 L306.10,560.98 L306.40,560.98 L306.70,560.98 L307.00,560.98 L307.30,560.98 L307.60,560.98 L307.90,560.98 L308.20,560.98 L308.50,560.98 L308.80,560.97 L309.10,560.97 L309.40,560.97 L309.70,560.97 L310.00,560.97 L310.30,560.97 L310.60,560.97 L310.90,560.97 L311.20,560.97 L311.50,560.97 L311.80,560.97 L312.10,560.97 L312.40,560.97 L312.70,560.97 L313.00,560.97 L313.30,560.97 L313.60,560.97 L313.90,560.97 L314.20,560.97 L314.50,560.97 L314.80,560.97 L315.10,560.97 L315.40,560.97 L315.70,560.96 L316.00,560.96 L316.30,560.96 L316.60,560.96 L316.90,560.96 L317.20,560.96 L317.50,560.96 L317.80,560.96 L318.10,560.96 L318.40,560.96 L318.70,560.96 L319.00,560.96 L319.30,560.96 L319.60,560.96 L319.90,560.96 L320.20,560.96 L320.50,560.96 L320.80,560.96 L321.10,560.96 L321.40,560.95 L321.70,560.95 L322.00,560.95 L322.30,560.95 L322.60,560.95 L322.90,560.95 L323.20,560.95 L323.50,560.95 L323.80,560.95 L324.10,560.95 L324.40,560.95 L324.70,560.95 L325.00,560.95 L325.30,560.95 L325.60,560.95 L325.90,560.95 L326.20,560.94 L326.50,560.94 L326.80,560.94 L327.10,560.94 L327.40,560.94 L327.70,560.94 L328.00,560.94 L328.30,560.94 L328.60,560.94 L328.90,560.94 L329.20,560.94 L329.50,560.94 L329.80,560.94 L330.10,560.94 L330.40,560.94 L330.70,560.93 L331.00,560.93 L331.30,560.93 L331.60,560.93 L331.90,560.93 L332.20,560.93 L332.50,560.93 L332.80,560.93 L333.10,560.93 L333.40,560.93 L333.70,560.93 L334.00,560.93 L334.30,560.93 L334.60,560.92 L334.90,560.92 L335.20,560.92 L335.50,560.92 L335.80,560.92 L336.10,560.92 L336.40,560.92 L336.70,560.92 L337.00,560.92 L337.30,560.92 L337.60,560.92 L337.90,560.92 L338.20,560.91 L338.50,560.91 L338.80,560.91 L339.10,560.91 L339.40,560.91 L339.70,560.91 L340.00,560.91 L340.30,560.91 L340.60,560.91 L340.90,560.91 L341.20,560.91 L341.50,560.90 L341.80,560.90 L342.10,560.90 L342.40,560.90 L342.70,560.90 L343.00,560.90 L343.30,560.90 L343.60,560.90 L343.90,560.90" fill="none" stroke="#00ff00" stroke-width="1.8" stroke-linejoin="round" stroke-linecap="round" clip-path="url(#cc)" />
<rect x="67.8" y="408.6" width="276.20" height="172.00" fill="none" stroke="#000" stroke-width="2"/>
<line x1="67.80" y1="562.50" x2="75.80" y2="562.50" stroke="#000" stroke-width="2" stroke-linecap="butt"/>
<line x1="344.00" y1="562.50" x2="336.00" y2="562.50" stroke="#000" stroke-width="2" stroke-linecap="butt"/>
<line x1="67.80" y1="526.20" x2="75.80" y2="526.20" stroke="#000" stroke-width="2" stroke-linecap="butt"/>
<line x1="344.00" y1="526.20" x2="336.00" y2="526.20" stroke="#000" stroke-width="2" stroke-linecap="butt"/>
<line x1="67.80" y1="489.90" x2="75.80" y2="489.90" stroke="#000" stroke-width="2" stroke-linecap="butt"/>
<line x1="344.00" y1="489.90" x2="336.00" y2="489.90" stroke="#000" stroke-width="2" stroke-linecap="butt"/>
<line x1="67.80" y1="453.60" x2="75.80" y2="453.60" stroke="#000" stroke-width="2" stroke-linecap="butt"/>
<line x1="344.00" y1="453.60" x2="336.00" y2="453.60" stroke="#000" stroke-width="2" stroke-linecap="butt"/>
<line x1="67.80" y1="417.30" x2="75.80" y2="417.30" stroke="#000" stroke-width="2" stroke-linecap="butt"/>
<line x1="344.00" y1="417.30" x2="336.00" y2="417.30" stroke="#000" stroke-width="2" stroke-linecap="butt"/>
<line x1="67.80" y1="544.35" x2="72.30" y2="544.35" stroke="#000" stroke-width="2" stroke-linecap="butt"/>
<line x1="344.00" y1="544.35" x2="339.50" y2="544.35" stroke="#000" stroke-width="2" stroke-linecap="butt"/>
<line x1="67.80" y1="508.05" x2="72.30" y2="508.05" stroke="#000" stroke-width="2" stroke-linecap="butt"/>
<line x1="344.00" y1="508.05" x2="339.50" y2="508.05" stroke="#000" stroke-width="2" stroke-linecap="butt"/>
<line x1="67.80" y1="471.75" x2="72.30" y2="471.75" stroke="#000" stroke-width="2" stroke-linecap="butt"/>
<line x1="344.00" y1="471.75" x2="339.50" y2="471.75" stroke="#000" stroke-width="2" stroke-linecap="butt"/>
<line x1="67.80" y1="435.45" x2="72.30" y2="435.45" stroke="#000" stroke-width="2" stroke-linecap="butt"/>
<line x1="344.00" y1="435.45" x2="339.50" y2="435.45" stroke="#000" stroke-width="2" stroke-linecap="butt"/>
<line x1="143.20" y1="580.60" x2="143.20" y2="572.60" stroke="#000" stroke-width="2" stroke-linecap="butt"/>
<line x1="143.20" y1="408.60" x2="143.20" y2="416.60" stroke="#000" stroke-width="2" stroke-linecap="butt"/>
<line x1="268.45" y1="580.60" x2="268.45" y2="572.60" stroke="#000" stroke-width="2" stroke-linecap="butt"/>
<line x1="268.45" y1="408.60" x2="268.45" y2="416.60" stroke="#000" stroke-width="2" stroke-linecap="butt"/>
<line x1="80.57" y1="580.60" x2="80.57" y2="576.10" stroke="#000" stroke-width="2" stroke-linecap="butt"/>
<line x1="80.57" y1="408.60" x2="80.57" y2="413.10" stroke="#000" stroke-width="2" stroke-linecap="butt"/>
<line x1="205.82" y1="580.60" x2="205.82" y2="576.10" stroke="#000" stroke-width="2" stroke-linecap="butt"/>
<line x1="205.82" y1="408.60" x2="205.82" y2="413.10" stroke="#000" stroke-width="2" stroke-linecap="butt"/>
<line x1="331.07" y1="580.60" x2="331.07" y2="576.10" stroke="#000" stroke-width="2" stroke-linecap="butt"/>
<line x1="331.07" y1="408.60" x2="331.07" y2="413.10" stroke="#000" stroke-width="2" stroke-linecap="butt"/>
<text x="59.60" y="568.30" font-size="17.5" text-anchor="end" font-family="Liberation Serif" font-weight="normal" fill="#000" >0</text>
<text x="59.60" y="532.00" font-size="17.5" text-anchor="end" font-family="Liberation Serif" font-weight="normal" fill="#000" >1E4</text>
<text x="59.60" y="495.70" font-size="17.5" text-anchor="end" font-family="Liberation Serif" font-weight="normal" fill="#000" >2E4</text>
<text x="59.60" y="459.40" font-size="17.5" text-anchor="end" font-family="Liberation Serif" font-weight="normal" fill="#000" >3E4</text>
<text x="59.60" y="423.10" font-size="17.5" text-anchor="end" font-family="Liberation Serif" font-weight="normal" fill="#000" >4E4</text>
<text x="143.20" y="602.80" font-size="17" text-anchor="middle" font-family="Liberation Serif" font-weight="normal" fill="#000" >7.0</text>
<text x="268.45" y="602.80" font-size="17" text-anchor="middle" font-family="Liberation Serif" font-weight="normal" fill="#000" >7.5</text>
<text x="79.70" y="425.20" font-size="12" text-anchor="start" font-family="Liberation Sans" font-weight="normal" fill="#000" >(c)</text>
<line x1="236.60" y1="436.20" x2="265.30" y2="436.20" stroke="#ff0000" stroke-width="4" stroke-linecap="round"/>
<text x="269.50" y="440.20" font-size="12.4" text-anchor="start" font-family="Liberation Serif" font-weight="normal" fill="#1a1a1a" stroke="#1a1a1a" stroke-width="0.25">8h PZ-PT</text>
<line x1="236.60" y1="452.50" x2="265.30" y2="452.50" stroke="#0000ff" stroke-width="4" stroke-linecap="round"/>
<text x="269.50" y="456.50" font-size="12.4" text-anchor="start" font-family="Liberation Serif" font-weight="normal" fill="#1a1a1a" stroke="#1a1a1a" stroke-width="0.25">16h PZ-PT</text>
<line x1="236.60" y1="469.00" x2="265.30" y2="469.00" stroke="#888" stroke-width="4" stroke-linecap="round"/>
<text x="269.50" y="473.00" font-size="12.4" text-anchor="start" font-family="Liberation Serif" font-weight="normal" fill="#1a1a1a" stroke="#1a1a1a" stroke-width="0.25">32h PZ-PT</text>
<line x1="236.50" y1="485.40" x2="265.60" y2="485.40" stroke="#00ff00" stroke-width="2.0" stroke-linecap="round"/>
<text x="266.20" y="489.40" font-size="12.4" text-anchor="start" font-family="Liberation Serif" font-weight="normal" fill="#1a1a1a" stroke="#1a1a1a" stroke-width="0.25">PZT</text>
<text transform="translate(18.2,143.0) rotate(-90)" font-size="24.3" font-family="Liberation Serif" fill="#000">Intensity(a.u.)</text>
<text transform="translate(20.6,351.6) rotate(-90)" font-size="24.3" font-family="Liberation Serif" fill="#000">Intensity(a.u.)</text>
<text transform="translate(19.8,548.0) rotate(-90)" font-size="24.3" font-family="Liberation Serif" fill="#000">Intensity(a.u.)</text>
<text y="628.4" font-size="21.8" font-family="Liberation Serif" fill="#000"><tspan x="167.0">2</tspan><tspan x="179.9" font-style="italic" font-size="22.8">θ</tspan><tspan x="193.1">(deg.)</tspan></text>
</svg></body></html>
